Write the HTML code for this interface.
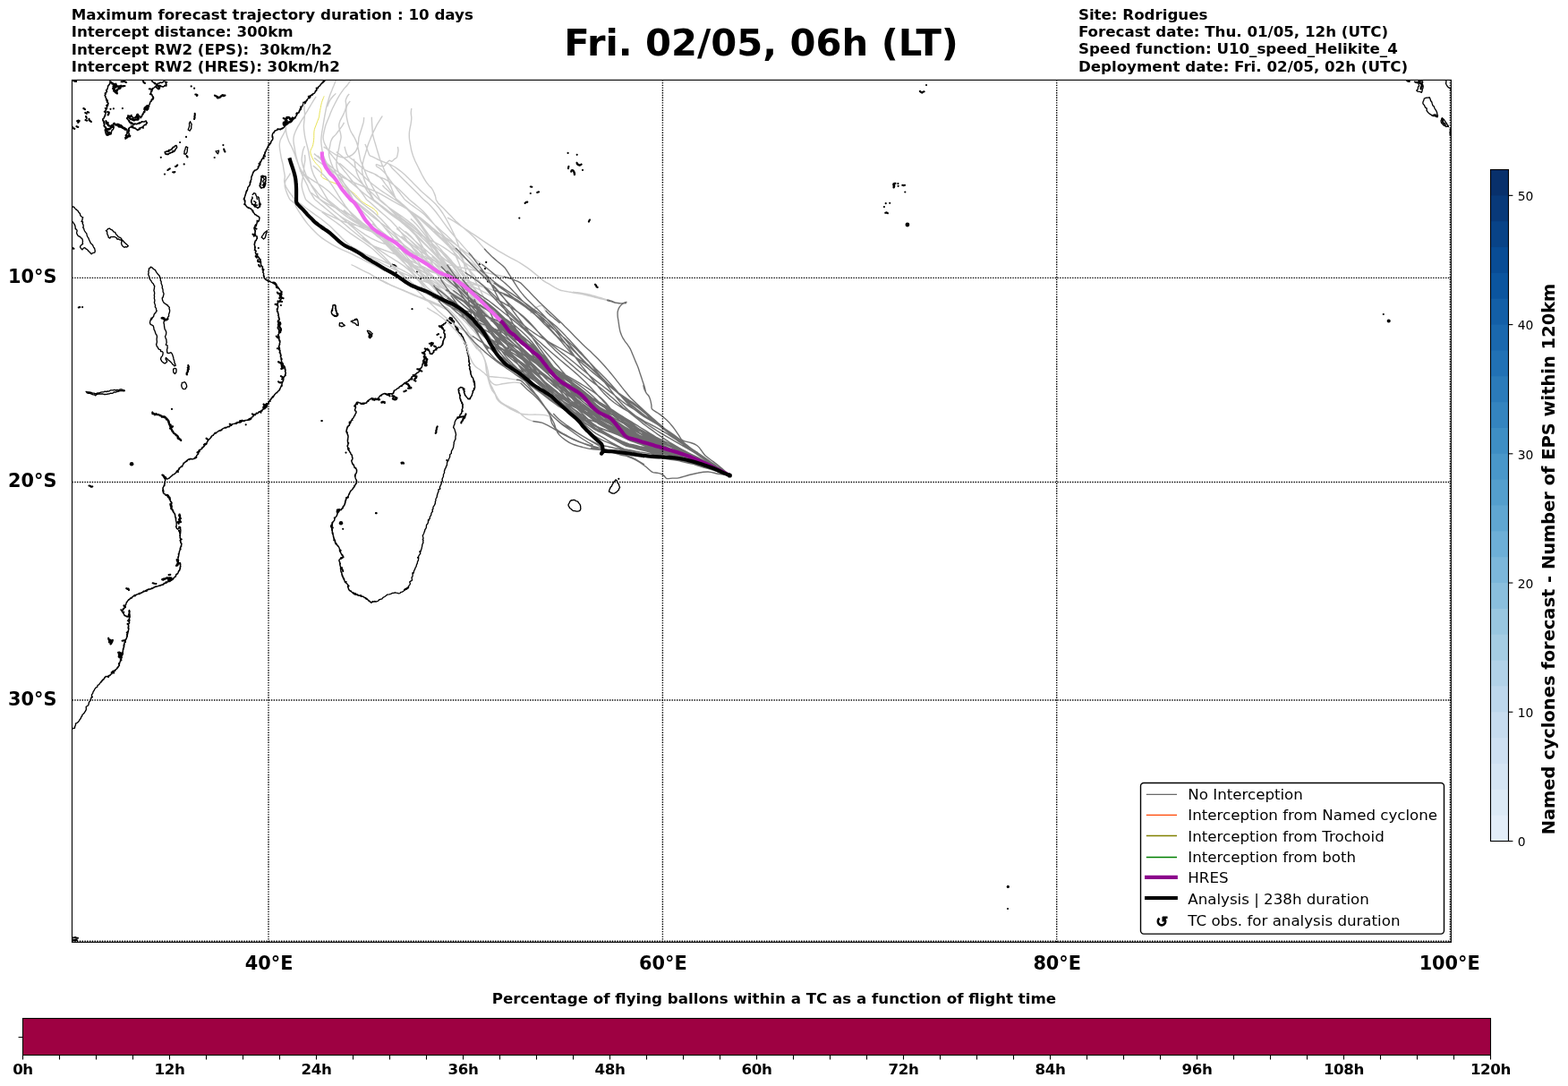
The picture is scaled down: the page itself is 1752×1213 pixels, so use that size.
<!DOCTYPE html>
<html><head><meta charset="utf-8"><title>Fri. 02/05, 06h (LT)</title>
<style>
html,body{margin:0;padding:0;background:#fff;}
body{width:1752px;height:1213px;overflow:hidden;}
svg{display:block;}
text{font-family:"DejaVu Sans","Liberation Sans",sans-serif;fill:#000;}
.b{font-weight:bold;}
.t12{font-size:16.67px;}
.coast{fill:none;stroke:#000;stroke-width:1.35;stroke-linejoin:round;stroke-linecap:round;}
.isl{fill:#000;stroke:none;}
.grid{stroke:#000;stroke-width:1.39;stroke-dasharray:1.39 1.39;fill:none;}
.lg{fill:none;stroke:#cccccc;stroke-width:1.4;stroke-linejoin:round;stroke-linecap:butt;}
.dg{fill:none;stroke:#6e6e6e;stroke-width:1.4;stroke-linejoin:round;stroke-linecap:butt;}
</style></head><body>
<svg width="1752" height="1213" viewBox="0 0 1752 1213">
<rect x="0" y="0" width="1752" height="1213" fill="#ffffff"/>
<defs><clipPath id="axclip"><rect x="80.5" y="89.4" width="1540.9" height="963.0"/></clipPath></defs>
<g clip-path="url(#axclip)">
<!-- coast.svg -->
<path class="coast" d="M363.3,89.6 362.5,90.8 361.4,91.7 360.4,92.7 359.2,93.4 358.2,94.6 357.5,96.0 355.9,96.7 355.2,98.0 354.1,99.3 353.8,101.1 352.5,102.2 351.8,103.4 350.8,104.3 349.5,104.9 348.0,106.0 346.7,107.2 345.9,108.7 344.5,109.6 343.7,110.7 343.2,112.0 342.3,113.0 341.7,114.2 340.3,114.8 338.7,115.8 338.0,118.1 336.9,119.3 336.6,121.0 336.1,122.5 334.9,123.6 334.4,125.1 333.0,126.2 332.1,127.5 331.3,128.9 330.4,130.0 329.5,131.0 328.4,131.8 327.5,132.7 326.4,133.5 325.5,134.6 324.1,135.7 322.7,136.9 322.0,138.1 320.7,138.7 319.6,139.5 318.9,141.1 317.6,142.0 316.3,143.2 314.8,144.1 313.3,143.9 311.9,144.5 310.2,143.8 309.1,145.4 307.9,145.9 306.9,146.8 305.8,147.7 305.0,148.9 304.4,150.3 304.4,151.8 304.9,153.1 304.8,154.6 304.3,156.2 303.2,157.4 302.9,158.9 302.4,160.4 300.4,160.8 299.9,162.5 299.6,164.3 298.4,165.4 297.8,167.2 297.1,168.9 296.5,170.3 296.1,171.8 294.7,173.3 294.3,175.2 293.4,177.0 292.4,178.7 291.7,180.4 290.8,182.0 290.7,184.0 289.4,185.5 288.7,187.4 287.4,188.9 286.3,189.7 285.2,190.4 283.3,191.6 282.5,193.1 282.2,194.7 281.4,196.3 281.0,198.0 280.8,199.8 280.3,201.5 280.2,203.3 279.2,204.8 279.0,206.7 277.8,208.2 276.7,209.8 276.7,211.8 275.9,213.4 275.0,215.1 274.8,216.5 274.0,217.7 273.7,219.1 273.4,220.9 272.7,222.6M363.3,89.6 362.1,90.4 360.8,91.1 360.0,92.3 359.3,93.6 358.2,94.2 357.7,95.4 356.7,96.2 355.8,97.0 355.5,98.3 353.3,98.2 353.9,100.2 353.0,101.0 352.2,102.0 351.9,103.5 350.9,104.4 349.7,105.1 349.1,106.3 347.5,106.3 346.6,107.1 346.0,108.8 344.4,109.5 343.7,110.7 342.7,111.7 342.1,112.9 340.7,113.4 340.5,115.0 338.9,116.1 338.4,116.9 337.9,118.0 337.6,119.0 335.6,119.2 336.3,120.9 335.1,121.5 335.1,122.8 334.3,123.7 334.0,124.9 333.8,126.2 331.4,126.0 330.9,127.1 331.6,129.1 330.5,130.0 330.3,131.8 328.4,131.7 327.1,132.3 326.0,133.2 325.5,134.6 324.5,135.2 323.5,136.0 322.9,137.1 321.6,137.7 321.0,139.0 319.8,139.7 318.3,140.5 317.5,142.0 316.6,142.6 315.3,142.8 314.6,143.8 313.5,144.8 311.9,144.4 310.4,144.7 309.1,145.6 307.7,145.6 306.7,146.6 306.3,148.1 304.9,148.8 304.3,150.3 304.1,151.8 304.2,153.3 305.0,154.6 304.5,156.3 303.3,157.5 302.4,158.8 302.0,160.3 301.4,161.8 300.1,162.8 299.1,164.0 298.6,165.6 298.4,166.8 297.1,167.6 297.2,168.9 295.9,170.1 295.8,171.7 295.7,173.1 296.3,174.8 294.1,175.1 295.0,177.1 292.8,177.4 292.1,178.5 292.0,179.8 290.6,180.6 290.5,181.9 289.1,182.7 289.5,184.2 289.1,185.4 288.2,186.3 288.5,188.0 287.5,188.9 286.4,189.9 284.9,190.0 284.0,190.8 283.5,191.9 282.9,193.2 282.0,194.6 282.1,195.8 281.1,196.8 280.8,197.9 280.8,199.2 280.9,200.4 280.2,201.4 279.8,202.5 279.1,203.6 279.6,204.9 279.4,206.2 278.8,207.3 278.0,208.3 276.9,209.2 276.8,210.5 276.6,211.7 275.6,212.7 275.1,213.8 274.9,215.0 274.4,216.4 274.3,217.9 273.7,219.2 273.2,220.2 272.8,221.4 272.2,222.5M293.1,196.3 294.7,197.1 296.5,197.4 297.0,198.7 296.7,200.1 297.2,201.4 296.3,202.9 295.9,204.4 296.4,206.0 296.0,207.9 294.9,209.5 293.4,209.7 292.0,210.2 291.0,209.2 290.3,208.2 290.9,206.8 290.3,205.1 291.3,203.7 292.0,202.5 291.4,201.0 291.8,199.7 292.1,197.9 293.2,196.3M293.1,196.3 294.3,196.5 295.4,196.8 296.7,196.8 297.3,198.7 296.9,200.1 297.0,201.4 296.9,202.6 296.5,203.7 296.9,204.9 296.6,206.0 295.0,206.7 294.6,207.9 294.6,209.3 293.3,209.3 292.0,210.1 291.3,208.9 290.4,208.1 289.9,207.0 291.4,206.2 291.4,204.9 291.7,203.8 291.3,202.3 292.2,201.1 291.7,199.7 292.5,198.6 291.6,197.1 292.9,196.2M293.7,198.0 294.6,199.1 295.4,200.3 294.5,201.4 293.7,202.6 294.3,204.0 295.6,204.9 294.3,205.9 293.1,207.1M282.2,217.4 283.1,216.6 283.8,215.5 285.6,216.4 286.0,218.1 286.9,219.7 287.0,221.1 287.4,222.5M122.9,90.1 122.9,91.9 122.7,93.6 121.5,94.8 120.9,96.1 120.5,97.5 119.9,99.0 119.4,100.6 118.9,102.1 118.4,103.6 118.1,105.3 117.1,106.6 117.8,108.2 118.4,109.7 119.0,111.2 119.7,113.0 120.5,114.7 120.5,116.2 120.7,117.8 119.6,119.2 119.5,121.1 118.5,122.7 118.0,124.2 118.2,125.7 117.9,127.2 117.6,129.1 116.8,130.7 115.6,132.3 114.8,134.0 115.9,135.1 116.7,136.3 117.0,138.0 116.1,139.4 116.1,140.9 117.1,142.2 118.4,143.2 118.2,144.6 118.5,146.0 117.7,147.2 118.4,148.5 119.5,149.6 119.6,151.2 120.8,150.2 121.8,149.0 122.8,149.7 124.1,149.9 124.4,148.5 124.6,147.0 125.1,145.5 126.5,144.6 127.0,143.2 127.1,141.4 126.4,139.8 127.4,138.8 128.0,137.4 129.3,138.9 131.1,139.6 131.9,141.1 133.2,142.1 134.7,141.2 135.6,139.9 136.8,141.3 137.2,143.2 139.6,143.1 140.9,143.6 141.9,144.9 142.0,146.3 142.3,147.6 142.3,148.9 141.2,150.5 140.6,152.3 140.6,153.8 140.0,155.2 141.4,154.2 142.8,153.3 144.1,152.3 145.8,151.9 144.6,150.6 144.2,148.9 143.4,147.7 143.8,146.2 143.4,145.0 143.6,143.6 144.8,142.7 146.6,142.2 148.0,140.8 149.0,141.9 149.3,143.1 151.0,143.6 152.6,144.5 154.9,145.1 155.4,143.2 157.2,142.7 158.8,142.1 160.0,140.9 161.2,139.7 163.0,139.3 163.6,138.2 164.5,137.4 163.9,136.2 162.9,135.2 161.6,136.0 160.0,135.8 158.5,136.1 157.2,137.1 156.0,138.0 154.3,137.9 152.7,138.8 150.9,138.4 149.8,139.3 148.6,139.8 147.9,137.6 146.5,136.5 144.6,136.4 143.8,135.2 143.2,133.9 142.4,132.4 142.5,130.6 143.3,129.7 144.6,129.5 145.9,129.3 146.9,128.4 147.0,129.7 148.0,130.7 149.0,131.6 150.3,131.8 151.3,130.5 152.5,129.4 152.7,128.1 153.8,127.2 154.8,128.5 155.1,130.0 156.8,130.0 157.2,131.8 158.1,130.4 158.8,128.9 159.2,127.4 160.2,126.1 160.6,124.7 162.1,124.1 161.8,122.3 161.0,121.0 162.4,120.2 163.4,119.2 164.7,118.0 166.4,117.7 167.1,116.2 167.5,114.7 168.5,113.3 169.2,111.9 170.1,110.2 171.5,109.0 170.3,107.7 170.1,105.9 168.9,104.8 168.6,103.3 169.8,102.0 170.2,100.4 170.9,99.1 172.0,98.1 173.1,96.9 174.3,95.8 175.1,97.3 176.0,98.7 178.4,99.1 177.9,97.6 176.6,96.4 175.6,95.5 175.3,94.2 176.4,93.1 177.8,93.1 179.0,92.2 180.5,92.5 181.8,92.0 183.0,90.6 184.6,91.1 185.3,93.0 186.1,94.8 184.8,95.4 183.5,96.4 181.7,96.6 180.0,96.4 178.8,95.3 177.2,95.5 175.7,94.7 174.2,93.7 173.1,92.3 171.4,92.0 170.2,91.4 169.7,90.2M122.9,90.1 123.3,91.4 123.4,92.6 122.7,93.6 122.0,95.0 120.5,95.9 120.4,97.4 120.2,98.7 119.9,99.9 118.5,100.6 119.6,102.4 118.6,103.3 117.2,104.1 117.6,105.5 117.0,106.6 118.1,107.7 117.9,109.1 119.0,110.0 118.7,111.3 120.3,112.0 119.2,114.0 120.8,114.6 121.2,115.9 119.7,116.9 118.7,117.9 119.4,119.2 119.7,120.5 117.4,120.7 118.6,122.8 117.5,123.7 116.4,124.7 118.3,126.1 117.8,127.2 117.2,128.3 117.2,129.6 116.3,130.5 116.4,132.0 114.9,132.7 114.7,134.0 115.3,135.6 116.5,136.5 115.7,137.4 116.9,138.7 116.8,139.9 116.1,140.9 117.8,141.5 118.8,142.8 117.4,144.4 117.2,145.8 118.0,147.2 117.9,148.7 118.8,150.0 119.4,151.2 120.5,149.9 121.6,148.7 122.7,150.0 124.2,149.8 123.6,148.7 124.3,147.7 124.8,146.6 125.0,145.4 126.4,144.6 126.8,143.1 127.0,142.0 127.0,140.9 126.8,139.7 126.5,138.1 127.8,137.3 128.5,139.0 129.2,140.0 130.7,140.1 132.7,140.3 133.3,142.0 134.4,141.0 135.4,139.7 135.7,141.1 135.7,142.5 137.5,143.1 138.3,142.7 139.5,142.5 139.4,145.0 141.7,145.0 142.3,146.2 141.7,147.7 142.2,149.0 141.3,149.8 141.4,151.3 141.5,152.8 139.7,153.6 140.2,155.2 141.0,154.6 141.7,153.6 142.9,153.5 143.4,152.2 145.1,152.9 145.7,151.6 144.8,151.1 143.8,150.4 144.1,148.9 143.3,147.7 144.7,146.1 143.5,144.9 144.5,144.0 144.4,142.5 145.9,142.3 146.5,140.7 148.2,141.3 147.7,142.6 149.5,143.1 150.6,142.8 151.7,143.4 152.6,144.6 153.5,145.6 155.0,144.8 156.5,144.3 157.0,142.4 158.3,142.3 160.1,143.2 160.1,141.0 160.9,140.2 161.7,139.3 163.1,139.6 163.3,137.9 164.4,137.3 163.6,136.5 163.2,135.0 161.5,135.6 160.1,136.0 158.3,135.6 157.2,136.9 155.5,136.8 154.3,137.9 153.1,138.0 152.1,138.8 150.8,137.9 149.3,138.4 148.5,139.6 148.2,138.7 148.3,137.4 146.4,138.6 145.8,136.7 144.5,136.7 144.7,134.6 143.1,133.9 142.3,133.0 141.5,132.0 142.8,130.6 142.9,128.8 144.7,129.7 146.0,129.3 147.0,128.5 145.6,130.5 148.3,130.5 148.7,132.2 150.5,131.4 152.1,131.3 152.7,129.6 153.9,128.7 153.9,127.3 154.9,128.4 154.7,130.2 156.7,130.1 157.1,131.9 157.7,130.8 158.7,130.1 158.6,128.8 160.1,127.8 160.0,126.1 161.7,125.5 161.7,123.7 160.9,122.5 161.1,121.0 162.5,120.3 163.3,119.0 163.9,117.9 165.1,117.6 166.3,117.5 167.4,116.3 167.7,114.8 167.9,113.6 169.3,113.2 169.0,111.7 170.7,111.5 171.3,110.4 171.7,109.2 171.2,107.9 170.1,107.2 169.9,106.1 167.5,105.4 168.8,103.2 168.6,102.0 169.4,101.2 170.3,100.4 170.4,98.7 171.9,98.1 173.3,97.1 174.4,95.9 174.2,97.2 174.9,98.1 175.9,98.8 176.9,99.9 178.4,98.9 178.6,97.8 177.0,97.5 177.2,96.0 175.6,95.5 174.9,94.4 176.4,93.2 177.7,92.9 178.9,92.0 180.4,92.4 181.8,92.1 183.0,90.7 184.6,91.2 186.7,91.7 185.2,93.8 186.0,94.8 185.8,96.1 184.1,95.3 183.3,96.2 182.3,97.2 181.2,96.8 180.0,96.2 178.4,97.2 177.2,95.7 175.9,95.5 174.9,94.7 174.2,93.7 172.9,93.8 172.1,92.9 171.4,91.9 170.4,91.2 169.8,90.1M212.6,135.8 213.2,137.4 214.2,138.7 213.9,140.2 213.7,141.7 213.8,143.2 213.0,144.7 212.1,146.1 210.2,145.0 210.7,143.6 211.2,142.3 211.6,141.0 211.6,139.2 211.5,137.5 212.6,135.8M184.0,170.0 185.2,169.2 186.5,168.8 187.9,168.5 188.7,167.5 190.3,167.5 191.6,166.8 192.4,165.4 193.6,164.6 195.0,163.9 195.8,162.7 197.1,162.5 197.6,164.9 196.7,165.9 196.0,167.1 195.5,168.4 194.2,169.5 192.5,169.9 190.8,170.5 189.1,171.1 187.9,172.0 186.6,172.5 185.2,172.4 184.7,171.1 184.1,170.0M184.0,170.0 185.3,169.5 186.7,169.4 188.1,169.3 189.5,168.7 190.1,167.2 191.7,167.0 192.7,165.8 193.3,164.2 195.1,164.1 195.7,162.6 197.2,162.8 197.6,163.7 197.7,164.9 196.8,166.0 195.7,166.9 195.3,168.2 194.3,168.6 193.0,168.5 192.7,170.3 191.4,170.4 190.4,171.2 189.2,171.4 188.1,172.6 186.4,171.8 185.2,172.4 184.4,171.3 184.4,169.9M208.0,163.8 209.8,164.8 209.3,166.4 209.3,168.0 209.1,169.5 208.5,171.0 207.3,172.3 205.7,171.8 206.1,170.5 206.0,169.1 206.4,167.8 207.1,166.5 207.2,165.0 208.0,163.8M241.1,168.9 242.8,168.7 244.5,168.1 244.2,170.0 243.5,171.8 242.1,170.5 241.1,168.9M80.5,231.2 81.8,230.8 83.0,231.6 83.7,232.6 84.6,233.6 85.7,234.4 87.1,235.6 88.0,237.2 89.4,238.6 89.8,240.6 91.0,242.0 92.7,242.9 92.0,244.2 92.1,245.7 91.0,247.4 92.6,248.0 92.2,249.6 93.1,251.3 93.2,253.1 92.7,254.2 93.7,255.2 93.9,256.5 94.6,258.0 95.5,259.4 96.8,260.9 97.2,262.9 97.9,264.6 99.0,266.2 99.6,268.0 100.5,269.8 101.1,271.3 102.3,272.6 103.6,273.7 104.2,275.3 104.8,276.5 105.7,277.5 106.0,279.1 106.3,280.5 105.7,282.2 103.5,282.6 102.2,283.7 100.6,282.3 100.0,281.2 98.8,280.7 98.3,279.5 97.3,278.7 95.9,277.9 94.8,276.7 93.3,277.1 92.0,278.9 90.3,277.2 89.5,276.0 90.0,274.6 90.9,273.6 92.6,272.4 92.2,271.1 92.5,269.6 92.1,267.4 91.6,266.2 90.3,265.8 89.6,264.4 88.1,264.0 87.1,263.3 86.5,262.1 85.9,261.1 85.6,259.9 86.2,257.7 85.5,256.4 84.3,255.6 84.1,253.1 83.7,251.6 83.0,250.3 81.8,248.6 80.5,247.3M118.4,257.7 119.5,257.1 120.2,256.1 121.2,255.3 122.4,255.1 123.4,256.1 124.8,256.6 126.0,257.5 126.8,258.9 128.6,259.3 129.2,260.9 130.1,262.2 131.4,263.3 132.2,264.6 133.8,265.1 135.5,266.2 136.2,267.9 137.9,269.2 138.7,270.6 140.0,271.5 141.0,272.6 142.2,273.6 143.3,274.8 141.7,276.1 140.3,275.7 138.9,276.3 137.3,275.2 136.1,273.6 135.5,271.4 136.2,269.6 134.9,267.9 133.6,267.8 132.6,266.9 131.0,267.3 130.3,265.9 129.0,265.0 127.6,264.4 125.2,264.6 123.6,264.7 122.8,266.1 121.2,265.2 121.0,263.9 120.6,262.8 119.9,261.7 119.7,260.4 119.7,258.8 118.5,257.6M186.3,357.6 187.4,355.8 187.6,354.2 188.7,353.0 188.5,351.2 189.2,349.6 189.6,347.9 189.6,346.1 189.0,344.8 189.4,343.2 188.0,342.3 187.5,340.9 186.1,340.5 185.2,339.3 183.8,338.8 182.8,337.7 182.1,336.5 181.6,335.4 181.2,333.0 182.2,331.8 182.5,330.2 183.0,328.8 182.9,327.3 182.1,326.0 182.1,324.5 181.9,322.9 181.2,321.6 181.4,319.8 180.8,318.1 180.1,316.5 180.2,314.7 179.3,313.1 179.4,311.3 178.9,309.9 178.3,308.5 177.4,307.2 176.2,306.1 175.2,304.7 174.2,303.2 173.5,301.6 172.0,300.8 170.8,299.9 169.8,298.7 168.1,298.1 167.8,299.6 166.3,299.9 166.4,301.7 165.8,303.3 166.2,304.8 165.6,306.2 166.2,307.7 166.7,309.1 167.2,311.3 167.8,312.5 168.8,313.5 169.4,314.8 170.2,316.0 171.2,316.8 171.7,317.9 172.8,319.8 172.5,320.8 172.4,322.2 171.9,324.5 172.5,326.1 172.7,327.9 172.3,329.6 172.6,331.3 172.3,333.1 172.8,334.7 172.9,336.2 172.4,337.6 172.9,339.3 173.6,341.0 173.3,342.9 174.5,344.4 174.6,345.9 175.2,347.3 174.3,348.3 173.8,349.6 172.5,350.4 172.0,351.8 171.6,353.5 170.4,354.8 169.7,356.3 168.6,357.5M169.2,355.0 168.5,356.7 167.8,358.5 167.5,360.7 168.0,362.1 169.3,362.9 170.4,363.3 171.4,364.3 171.9,366.5 172.0,367.9 172.8,369.2 173.3,370.6 173.7,372.1 174.2,373.3 175.1,374.3 175.5,376.1 175.2,377.9 175.1,379.5 175.4,381.3 175.2,383.0 174.6,384.7 175.0,385.8 175.3,387.0 176.4,388.1 176.9,389.5 178.1,390.4 179.6,390.8 179.6,392.6 181.3,392.6 182.1,393.6 182.1,395.0 181.6,397.2 180.9,398.1 180.1,399.0 179.5,401.2 180.2,402.3 180.6,403.5 181.6,404.2 182.4,405.1 184.2,406.0 185.4,405.1 186.7,403.9 185.9,402.4 185.1,401.0 185.4,399.5 186.8,400.7 188.2,402.3 189.8,403.4 190.7,404.2 191.5,405.1 192.3,406.1 193.0,407.1 194.2,407.6 194.6,408.9 196.2,408.4 195.7,406.4 194.9,405.1 194.9,403.5 194.3,402.1 193.9,400.7 193.7,399.2 193.2,397.8 192.7,396.3 192.1,394.9 191.0,393.7 188.6,394.6 186.8,394.0 186.6,391.5 186.6,390.1 187.2,388.7 187.0,387.2 187.1,385.8 185.3,385.1 186.0,383.5 186.2,382.1 185.9,380.7 185.9,379.2 185.1,377.9 184.5,375.6 185.2,374.5 185.6,373.3 185.8,371.0 185.3,369.9 184.9,368.6 184.1,367.7 183.9,366.4 183.6,365.0 183.5,363.6 183.4,362.1 182.9,360.7 183.3,359.3 183.5,357.9 183.2,356.3 183.8,355.0M193.7,412.1 195.4,411.4 196.8,411.9 197.1,413.2 197.0,414.6 196.8,416.1 195.4,417.5 193.9,416.1 193.7,414.8 193.6,413.4 193.7,412.1M203.4,427.5 204.9,427.2 206.3,426.7 207.3,427.5 207.9,428.7 208.5,430.3 208.7,432.0 207.8,433.1 207.4,434.3 205.1,434.6 203.9,433.8 203.2,432.5 202.7,430.3 203.1,428.9 203.4,427.5M96.1,437.4 97.8,437.9 99.5,438.0 100.9,438.2 102.2,438.5 103.5,439.2 105.1,439.1 106.5,439.8 107.8,439.5 109.3,438.9 111.0,438.9 112.7,438.2 114.2,437.9 115.8,437.9 117.2,437.2 118.8,437.5 120.3,437.0 121.9,437.1 123.3,435.9 124.8,435.8 126.3,435.9 127.8,435.4 129.5,436.0 130.9,435.5 132.7,435.8 134.3,434.9 135.9,434.9 137.4,435.9 138.9,435.7 139.3,436.7 138.1,436.9 136.6,436.6 134.8,436.4 133.2,436.9 131.9,437.3 130.5,437.5 129.2,438.2 127.6,437.8 126.5,438.8 125.2,439.4 123.6,439.2 122.2,439.8 120.7,440.0 119.2,440.4 117.6,440.5 116.1,440.5 114.6,439.8 113.1,440.0 111.5,440.2 109.8,440.1 108.1,440.6 106.5,441.9 105.5,440.7 104.0,440.8 102.3,440.2 100.7,439.3 98.9,439.4 97.3,438.8 96.2,437.4M272.5,222.6 273.1,223.0 273.2,224.4 273.8,225.8 273.7,227.5 274.4,229.2 275.3,230.3 276.3,231.3 277.5,232.5 279.1,232.6 280.3,233.3 281.3,234.4 282.0,235.8 282.9,237.2 284.1,238.2 284.6,239.5 286.0,240.0 287.1,240.8 288.1,241.6 289.2,242.1 289.9,243.3 289.8,244.6 289.2,246.8 288.2,247.7 287.1,248.6 286.9,249.9 285.9,250.8 284.9,252.0 284.8,253.7 285.6,255.2 284.3,256.5 285.0,257.9 284.9,259.4 284.8,260.6 284.1,261.6 285.3,262.3 285.9,263.4 287.2,265.0 286.7,267.4 285.4,269.1 284.6,270.4 284.8,272.0 284.3,273.4 284.9,274.8 284.5,276.2 284.8,277.6 285.1,279.2 286.1,280.4 285.4,281.9 285.8,283.4 286.4,284.7 287.7,285.6 288.5,286.8 289.5,287.8 289.8,289.6 291.0,290.8 291.6,292.4 291.5,294.2 291.7,295.7 292.4,297.0 293.3,298.3 293.2,300.0 293.2,301.4 294.1,302.7 294.0,304.3 294.7,305.7 294.5,307.1 295.2,308.5 295.4,310.8 296.8,312.3 298.4,313.2 299.8,313.8 301.4,314.0 302.6,315.1 304.2,315.4 305.5,316.1 307.0,316.1 308.3,316.7 308.8,318.1 309.4,319.3 310.0,320.4 311.1,321.3 311.8,322.6 312.7,323.7 313.7,324.7 314.1,326.3 314.2,327.9 314.1,329.3 314.1,330.8 314.0,332.2 314.3,333.6 313.9,334.7 312.8,335.3 312.1,336.9 310.4,337.5 310.6,339.1 309.9,340.4 310.6,341.8 310.6,343.3 310.3,345.0 309.7,346.7 310.5,348.4 310.6,350.1 311.3,351.8 311.5,353.6 311.9,354.9 312.3,356.2 311.5,357.6M272.5,222.6 273.2,222.7 274.0,224.2 273.8,225.7 273.4,227.0 272.8,228.3 274.8,229.1 275.2,230.4 276.3,231.4 277.8,231.6 279.0,232.7 280.5,233.0 281.3,234.3 282.4,234.9 282.9,235.9 283.1,237.1 284.0,238.2 284.8,239.4 286.1,239.8 286.9,241.0 288.2,241.4 289.3,242.0 290.1,243.2 289.8,244.6 289.6,245.7 289.3,246.8 287.2,246.3 287.2,248.8 287.0,249.9 286.6,251.1 286.2,252.6 284.3,253.5 283.8,255.0 284.6,256.5 285.5,257.8 285.2,259.4 285.1,260.7 284.2,261.7 285.6,262.0 285.7,263.6 287.2,263.8 287.3,264.9 287.5,266.4 286.6,267.4 286.4,268.6 285.2,269.0 285.1,270.6 284.3,271.9 284.1,273.5 284.9,274.8 285.3,276.3 285.0,277.7 284.3,279.5 286.3,280.4 285.2,281.9 286.1,283.4 287.9,283.5 287.2,286.0 288.1,287.1 289.2,288.1 289.9,288.9 291.1,289.5 291.0,290.8 290.4,292.1 290.9,293.1 291.5,294.2 291.5,295.7 292.1,297.1 293.6,298.1 293.3,299.9 294.9,301.1 293.9,302.8 293.7,304.4 294.8,305.6 294.3,307.1 294.7,308.5 295.1,309.7 295.6,310.8 296.6,311.5 297.5,312.3 298.7,312.8 299.6,314.4 301.3,314.2 302.6,315.1 304.1,315.6 305.7,315.3 307.1,315.7 307.7,317.2 308.8,318.1 308.7,319.6 310.0,320.4 310.7,321.6 312.1,322.4 312.5,323.9 313.6,324.8 315.2,326.0 314.1,327.9 314.8,329.4 314.2,330.8 315.0,332.0 314.3,333.6 313.4,334.2 312.8,335.3 311.8,336.6 310.6,337.7 310.0,339.0 309.6,340.4 310.8,341.7 310.6,343.3 309.8,344.4 309.3,345.4 309.8,346.7 309.4,348.0 310.9,348.9 310.4,350.1 311.4,351.1 310.6,352.6 311.6,353.6 311.1,354.9 312.0,356.2 312.2,357.5M281.9,220.0 281.8,221.9 280.9,223.4 280.6,225.2 281.3,226.9 282.4,228.3 283.8,229.6 284.8,231.0 286.6,231.2 287.8,232.6 289.4,231.6 290.1,229.5 289.5,228.0 290.2,226.3 289.5,224.6 289.4,222.9 289.2,221.3 288.4,219.9M281.9,220.0 282.2,221.4 281.6,222.4 280.9,223.5 281.2,224.5 280.7,225.8 281.2,226.9 281.6,228.3 283.4,228.3 283.7,229.7 285.5,228.8 285.8,230.5 286.5,231.4 287.9,231.8 289.4,231.5 290.6,231.0 290.5,229.7 291.3,228.5 291.0,227.4 290.1,226.3 289.7,225.2 289.7,224.0 289.2,222.9 289.4,221.2 288.5,219.9M283.7,224.6 284.9,225.3 286.0,226.3 285.3,227.4 284.7,228.5 286.2,228.8 287.6,229.2M292.2,265.1 293.0,263.6 294.0,262.3 294.9,260.7 296.2,259.4 297.4,258.7 298.3,257.7 298.0,260.0 297.3,261.3 297.1,262.8 296.6,264.3 296.1,265.7 294.5,267.0 293.4,266.0 292.3,265.0M372.1,341.0 374.0,340.3 374.4,341.6 374.8,342.8 375.3,344.1 375.4,345.6 376.0,347.2 376.0,349.0 376.2,350.9 377.5,352.4 375.5,353.6 374.3,352.6 372.8,352.0 371.6,351.4 370.6,350.2 370.3,347.9 370.7,346.3 371.7,345.0 371.8,342.7 371.9,341.0M372.1,341.0 373.1,340.8 374.1,340.7 375.1,341.3 375.2,342.6 374.4,344.2 375.2,345.6 375.0,346.8 375.7,347.9 376.2,349.0 377.1,349.9 377.9,350.9 377.0,352.5 376.0,352.4 375.4,353.4 374.0,353.4 372.7,352.5 371.4,351.5 370.8,350.0 370.2,349.0 370.6,347.8 371.7,346.7 371.2,344.9 371.9,343.9 371.9,342.7 372.0,341.0M312.0,357.5 311.1,358.5 311.1,360.1 311.3,361.8 311.4,363.7 310.4,365.3 310.7,367.1 311.6,368.7 311.9,370.4 312.1,372.1 311.2,373.7 311.1,375.6 311.7,377.2 311.7,379.0 312.0,380.7 313.0,382.3 312.1,384.0 312.3,385.8 311.4,387.5 311.5,389.2 312.0,391.0 313.0,392.6 313.0,394.4 313.4,396.1 313.5,397.8 314.0,399.5 315.1,401.1 314.3,402.9 315.0,404.3 315.1,405.8 316.0,407.4 317.3,408.7 318.3,409.9 318.6,411.4 319.0,413.2 318.5,415.0 319.4,416.3 319.1,417.8 318.3,419.1 317.8,420.6 316.9,421.9 316.8,423.5 316.5,425.1 315.7,426.4 315.0,427.7 315.1,429.2 314.4,430.6 313.8,432.0 313.2,433.5 312.3,434.8 311.7,436.3 310.5,437.2 309.4,438.4 308.1,439.3 306.9,440.6 305.9,442.0 304.4,443.0 303.7,444.7 303.0,445.9 301.8,446.8 300.8,448.2 300.2,449.8 298.9,450.9 298.6,452.6 297.3,453.8 296.8,455.5 295.9,456.7 294.4,457.0 293.1,458.1 291.6,458.8 290.3,459.8 288.8,460.7 287.6,461.9 285.9,462.2 284.4,462.9 283.1,464.1 282.5,465.5 281.0,466.2 280.7,467.7 279.8,468.6 278.3,469.1 276.8,469.3 275.3,469.3 273.9,469.5 272.2,470.1 270.5,470.4 269.1,470.6 267.8,470.9 266.5,471.6 265.3,472.6 263.7,472.2 262.5,473.1 261.0,473.4 259.7,473.8 258.5,474.8 257.2,475.3 256.1,476.5 254.5,476.5 253.3,477.4 251.7,477.3 250.5,478.2 249.0,478.7 247.7,479.6 246.8,481.0 245.0,480.9 243.7,481.7 242.5,482.7 241.6,483.9 240.2,484.2 239.1,485.1 238.0,486.0 236.8,486.8 236.2,488.1 235.2,489.2 234.1,490.2 233.3,491.3 232.1,492.3M312.0,357.5 310.5,357.9 310.3,359.6 311.3,360.7 311.3,361.8 311.3,363.1 311.9,364.4 310.3,365.2 310.2,366.6 311.6,367.4 311.7,368.7 313.0,369.6 311.3,371.1 312.0,372.2 311.2,373.1 310.4,374.1 311.0,375.5 311.2,376.7 312.2,377.7 311.5,379.0 312.6,379.9 313.0,381.0 312.7,382.4 312.6,383.6 312.7,384.7 311.9,385.8 311.3,386.9 312.5,388.2 311.5,389.2 311.6,390.5 313.1,391.3 312.5,392.7 312.2,393.9 313.6,394.9 313.7,396.0 314.2,397.1 313.3,398.4 314.2,399.5 313.9,400.7 314.2,401.8 314.4,402.9 314.9,404.3 314.9,405.8 316.3,406.3 315.6,408.5 317.6,408.5 317.8,410.1 318.3,411.6 318.2,412.7 319.2,413.7 318.6,414.9 319.4,416.3 318.7,417.8 319.2,419.5 317.6,420.5 316.6,421.8 316.9,423.6 316.6,425.1 315.9,426.5 315.3,427.8 314.9,429.2 315.2,430.9 313.9,432.1 313.2,433.5 312.7,435.1 311.8,436.3 310.4,437.1 309.7,438.7 308.0,439.3 307.5,440.3 306.7,441.1 306.1,442.2 305.5,443.2 304.8,444.1 303.5,444.5 302.6,445.7 301.9,446.9 302.1,448.3 300.1,448.4 300.4,449.9 300.4,451.2 298.9,451.6 298.7,452.7 298.1,453.7 298.1,454.9 296.6,455.3 294.9,455.3 294.4,457.0 293.2,457.2 293.0,459.0 291.8,459.2 291.7,461.1 289.5,459.6 288.8,460.5 288.2,461.7 286.5,461.1 286.0,462.3 285.4,463.6 284.2,463.7 283.1,464.1 282.7,465.7 281.0,466.1 280.6,467.6 279.7,468.6 278.2,468.7 276.8,469.0 275.4,469.3 273.9,469.7 272.9,470.5 271.6,469.8 270.5,470.4 269.4,471.5 268.1,472.1 266.6,471.8 265.0,471.5 264.2,473.4 262.5,473.1 261.0,473.3 259.6,473.7 258.4,474.6 257.3,475.6 256.2,476.9 254.6,476.6 253.4,477.6 252.0,478.0 250.4,478.0 249.4,478.7 248.4,479.1 247.8,480.5 246.4,480.3 245.4,480.9 244.6,481.7 243.3,481.9 242.6,482.9 241.1,483.2 239.8,483.7 239.1,485.0 238.2,486.3 236.8,486.8 235.8,487.9 235.1,489.1 234.3,490.3 233.2,491.2 232.3,492.6M379.5,360.7 381.0,360.8 382.4,360.5 383.0,361.8 384.2,362.6 385.3,363.5 383.5,364.2 381.8,364.8 380.6,364.2 379.3,364.0 379.2,362.3 379.6,360.7M392.1,359.0 393.7,358.2 395.6,358.0 397.2,357.0 399.0,356.7 399.8,358.3 400.1,360.1 400.4,361.8 400.3,363.6 398.4,363.0 397.4,361.7 396.1,360.7 394.6,360.5 393.5,359.4 392.1,359.0M410.4,369.3 412.1,369.7 413.8,370.3 414.8,371.7 416.1,372.6 415.5,374.1 415.6,375.6 414.4,376.5 413.7,377.8 412.1,376.7 412.2,375.2 412.7,373.8 412.1,372.7 411.5,371.6 410.8,370.5 410.4,369.3M429.8,439.5 428.3,440.1 426.9,440.5 425.3,441.5 424.0,442.8 423.2,443.9 423.1,445.3 421.8,445.9 420.7,446.5 419.5,445.7 418.3,445.3 416.9,445.0 415.5,444.6 414.4,445.5 413.3,446.4 411.5,447.1 410.2,448.4 409.2,449.9 407.4,450.2 406.0,450.2 404.6,450.5 402.9,450.3 401.3,449.9 399.8,449.6 398.4,449.9 397.8,450.9 397.4,452.1 397.2,453.5 397.6,454.9 397.2,456.1 396.5,457.1 396.5,458.7 397.8,459.4 397.8,460.9 397.2,462.3 396.5,463.8 395.4,465.1 395.0,466.8 393.6,467.9 392.9,469.4 392.0,470.8 391.6,472.5 390.5,473.8 389.9,475.4 388.3,476.4 387.7,477.9 387.4,479.5 386.8,481.8 387.3,483.2 388.1,484.6 388.5,486.0 389.0,487.4 388.8,488.9 388.8,490.3 388.5,492.6M429.8,439.5 428.3,439.9 426.9,440.7 426.4,441.9 425.0,442.2 424.0,442.8 423.3,443.9 422.9,445.2 421.6,445.5 420.7,446.5 419.8,445.1 418.3,445.3 416.8,445.7 415.5,444.6 414.2,445.3 413.1,446.2 412.1,446.8 411.7,448.3 410.2,448.4 409.9,449.9 408.8,450.4 407.7,450.6 406.2,451.3 404.7,451.1 403.3,451.3 402.4,450.0 401.2,449.9 399.9,449.2 398.4,449.4 399.5,451.7 397.0,451.9 395.7,453.7 397.6,454.9 397.0,456.0 396.8,457.2 396.5,458.7 398.0,459.4 398.0,461.0 397.1,462.3 396.6,463.2 396.6,464.5 395.4,465.1 395.2,466.3 394.6,467.2 393.5,467.8 393.9,469.4 392.3,469.7 392.3,471.0 390.3,471.1 390.3,472.4 390.5,473.8 390.6,475.1 389.5,475.7 388.8,476.6 388.0,478.0 387.6,479.6 387.4,480.7 386.9,481.8 388.1,482.8 388.1,484.5 388.8,485.9 389.1,487.4 389.0,488.9 388.5,490.3 388.4,491.4 388.3,492.5M232.3,492.5 231.2,494.0 230.7,495.7 229.8,496.6 228.6,497.3 227.9,498.5 226.9,499.8 225.6,500.8 224.4,501.9 223.4,502.7 223.0,504.2 221.8,505.0 221.4,506.8 220.3,508.3 219.3,509.6 219.4,511.1 218.2,511.6 217.0,512.1 215.5,512.8 213.7,512.5 211.9,512.5 210.2,513.2 209.1,514.9 207.5,515.8 206.3,516.4 205.6,517.7 204.6,518.6 204.0,520.0 202.6,520.8 201.6,521.9 200.7,523.1 199.5,524.0 198.9,525.4 197.4,526.2 196.8,527.9 195.5,528.9 194.3,529.8 193.0,530.5 191.8,531.5 190.5,532.7 189.1,533.9 187.8,534.8 186.3,535.1 184.5,534.0 183.4,533.1 182.8,531.7 181.3,530.6 182.2,531.6 182.8,532.9 183.5,534.0 184.4,535.1 184.7,536.5 184.3,537.9 183.7,539.3 184.0,540.8 183.2,542.1 182.7,543.6 182.1,545.3 182.5,547.1 182.9,548.8 182.6,550.5 183.3,551.7 184.6,552.2 185.9,553.3 187.5,553.8 188.4,555.0 189.0,556.3 189.5,557.7 190.2,559.1 191.1,560.2 191.9,561.4 191.9,562.9 191.0,564.3 190.9,566.0 191.5,567.6 192.0,569.2 192.9,570.6 193.7,572.1 194.8,573.4 195.2,574.6 195.6,575.8 196.0,577.1 196.1,578.6 196.7,579.8 196.5,581.2 196.9,582.5 197.2,584.0 197.1,585.5 197.2,587.0 196.9,588.8 197.5,590.4 198.8,591.2 199.8,589.7 200.1,588.2 201.7,589.3 201.6,591.0 201.9,592.7 201.6,594.2 201.5,595.8 201.3,597.3 201.4,598.6 201.0,600.0 201.3,601.3 201.9,603.0 201.9,604.7 202.2,606.2 203.1,607.5 202.4,609.3 201.8,611.0 201.2,612.6 201.1,614.4 200.5,616.1 200.2,617.8 199.9,619.5 199.6,621.3 199.2,623.0 198.9,624.7 198.1,626.0 198.1,627.5M232.3,492.5 231.7,493.5 231.1,494.6 231.0,495.8 229.9,496.7 228.6,497.3 228.1,498.7 226.9,499.2 225.7,499.8 225.7,501.5 224.6,502.0 223.0,502.3 222.1,503.3 221.8,505.0 221.8,506.2 221.3,507.4 220.1,508.2 219.3,509.6 219.4,511.1 218.2,511.5 217.2,512.4 216.0,512.7 214.9,512.8 213.7,512.7 212.5,512.7 211.5,513.6 210.2,513.2 209.2,514.0 208.4,514.9 207.4,515.6 206.6,516.7 205.0,517.1 204.6,518.6 204.1,520.1 203.3,521.3 201.7,522.0 200.2,522.7 200.1,524.5 199.0,525.5 199.2,527.4 197.0,526.9 196.6,528.3 195.6,529.0 194.4,529.9 192.7,530.2 192.0,531.6 190.9,532.2 190.0,533.1 189.2,534.0 187.7,534.6 186.3,535.0 185.8,534.0 184.5,534.0 183.5,533.0 183.1,531.5 181.4,530.5 182.4,531.5 183.0,532.7 183.7,533.9 184.3,535.1 184.7,536.5 184.2,537.9 184.4,539.4 184.0,540.8 183.9,542.4 182.8,543.6 182.0,544.7 181.9,545.8 182.0,547.0 181.7,548.3 182.4,549.4 182.3,550.5 183.5,551.4 184.7,552.1 185.2,553.4 186.3,553.6 187.3,554.2 187.6,555.6 189.3,556.1 190.1,557.5 190.3,559.1 190.6,560.6 192.1,561.3 191.1,562.6 190.9,564.2 190.4,565.4 191.9,566.4 191.2,567.7 192.2,568.5 193.1,569.2 193.4,570.3 194.0,571.3 193.8,572.7 195.1,573.2 195.6,574.4 195.8,575.7 195.6,577.2 196.8,578.4 196.3,579.8 196.5,581.2 197.0,582.5 197.5,583.6 197.1,584.7 197.2,585.9 197.1,587.0 196.5,588.2 197.2,589.3 197.6,590.4 198.8,591.1 199.9,589.8 200.0,588.2 201.1,588.3 201.6,589.4 201.1,590.5 201.9,591.6 201.8,592.7 201.9,593.9 200.8,594.9 201.4,596.2 200.9,597.3 200.9,598.7 201.5,600.0 201.4,601.3 203.2,602.3 201.1,603.6 201.6,604.7 201.9,606.3 202.8,607.6 202.6,608.7 202.8,610.0 202.0,611.0 201.4,612.1 202.0,613.4 201.1,614.4 200.5,615.5 200.2,616.6 200.2,617.8 199.3,618.8 199.6,620.1 199.5,621.2 198.7,622.3 199.1,623.6 199.0,624.7 198.1,626.0 198.2,627.5M198.3,627.5 199.9,628.6 201.3,629.0 201.8,630.3 201.5,631.8 201.6,633.6 200.8,635.2 200.8,637.0 199.6,638.3 199.0,639.9 197.6,641.1 196.6,642.7 195.5,644.2 194.2,645.5 193.5,647.0 192.1,647.9 190.4,648.9 188.5,649.4 187.2,650.1 185.4,649.8 184.6,651.5 183.0,652.0 181.6,652.8 180.0,653.2 178.6,654.2 177.1,654.7 175.4,654.9 173.9,655.5 172.3,655.8 170.8,656.6 169.3,657.0 168.0,658.2 166.2,658.0 164.6,658.7 163.1,659.4 161.7,660.3 160.3,661.1 158.7,661.7 157.2,662.4 155.7,662.5 154.5,663.4 153.1,663.8 151.8,664.5 150.2,664.6 149.2,665.8 148.0,666.5 147.1,667.7 145.7,668.0 144.5,669.6 142.9,670.7 142.1,672.2 141.1,673.6 140.8,675.1 140.0,676.4 139.9,678.0 139.0,679.3 138.1,680.4 137.3,681.6 134.9,681.0 135.8,682.1 136.6,683.3 137.4,684.7 138.4,686.1 139.3,687.2 140.6,687.8 142.2,688.1 143.3,689.0 144.0,687.4 144.2,685.5 144.2,684.2 145.0,682.9 144.4,681.5 145.1,682.8 144.4,684.2 144.8,685.5 145.1,687.0 145.1,688.6 144.6,690.1 144.6,691.6 144.9,693.2 144.1,694.6 144.5,696.2 143.4,697.6 143.9,699.2 143.6,700.7 144.0,702.3 143.4,703.8 143.4,705.2 143.0,706.5 142.7,707.8 142.4,709.2 141.9,710.4 141.4,711.7 141.4,713.2 140.7,714.5 139.9,715.7 139.5,717.0 138.8,718.3 139.1,719.8 138.8,721.1 138.2,722.4 137.9,723.7 137.3,725.0 137.5,726.4 137.4,727.8 137.2,729.1 136.8,730.4 136.6,731.8 135.7,733.0 136.0,734.5 135.3,735.7 135.8,737.4 134.3,738.4 133.9,739.8 133.6,741.3 133.1,742.8 132.6,744.3 131.6,745.8 130.4,747.1 129.4,748.1 128.1,748.7 127.4,749.9 127.4,751.8 125.3,751.6 124.6,752.8 123.3,753.9 121.8,754.5 120.1,755.3 118.3,755.6 117.3,756.9 116.2,758.1 114.6,759.2 113.9,760.9 113.2,761.9 112.1,762.5M198.3,627.5 200.0,628.4 201.4,628.7 201.8,630.3 201.4,631.2 201.9,632.5 201.1,633.5 201.5,634.8 201.2,635.9 200.3,636.9 199.6,637.7 199.2,638.7 198.9,639.8 198.5,641.1 196.8,641.3 196.6,642.7 196.4,644.1 195.0,644.6 194.4,645.6 192.9,646.4 191.9,647.7 190.6,647.9 190.0,649.5 188.5,649.4 187.1,649.9 186.1,651.1 184.5,651.4 183.2,651.3 182.6,653.1 181.4,653.4 180.1,653.6 179.1,654.3 177.7,654.0 176.7,654.8 175.6,655.2 174.2,655.0 173.0,655.4 172.1,656.4 171.0,657.0 169.9,657.6 168.6,657.7 167.5,658.0 166.4,658.6 165.0,658.5 164.3,660.0 163.1,660.3 161.8,660.4 160.3,660.1 159.4,661.3 158.5,662.3 157.2,662.3 156.1,663.5 154.5,663.5 153.1,663.9 151.9,664.8 150.8,665.9 149.1,665.6 148.1,666.7 147.3,668.0 145.8,668.3 145.0,669.2 143.8,669.7 142.9,670.7 142.5,671.8 141.4,672.4 141.2,673.7 140.5,675.0 139.8,676.3 140.3,678.1 138.7,679.1 137.5,679.9 137.0,681.4 136.0,681.6 134.9,681.2 136.3,681.7 136.5,683.3 138.6,683.3 138.2,684.9 138.5,686.0 139.0,687.6 140.5,688.0 141.7,688.9 143.3,689.1 144.2,688.1 143.5,686.7 144.0,685.5 144.9,684.3 143.9,682.8 144.4,681.5 145.1,682.8 144.7,684.2 144.4,685.5 144.1,686.6 144.9,687.8 145.3,689.0 144.7,690.1 144.1,691.2 143.9,692.3 142.5,693.3 144.4,694.7 144.7,695.8 143.5,696.9 143.4,698.0 143.4,699.2 143.3,700.3 143.0,701.5 143.7,702.6 143.7,703.8 142.9,705.0 142.3,706.3 142.6,707.8 141.5,708.9 142.4,710.6 141.7,711.8 141.4,713.2 139.9,714.2 140.2,715.8 140.4,717.3 139.0,718.3 138.7,719.7 138.0,720.9 138.8,722.5 138.1,723.8 138.0,725.1 137.3,726.4 137.1,727.7 136.5,729.0 137.1,730.5 136.2,731.7 135.9,733.0 136.3,734.5 135.4,735.7 134.4,736.8 134.6,738.5 134.0,739.8 132.8,740.7 132.6,741.9 133.5,743.3 132.5,744.2 131.6,745.0 130.9,746.0 130.5,747.3 129.1,747.7 128.8,749.4 127.3,749.8 127.5,751.9 125.2,751.5 124.7,752.9 123.6,753.2 123.0,754.5 121.9,754.7 121.2,756.5 119.6,755.6 118.3,755.5 117.0,756.6 116.2,758.1 115.7,759.2 114.4,759.8 113.6,760.6 112.8,761.5 112.2,762.6M112.1,762.5 111.3,763.7 110.4,764.8 109.0,765.4 108.8,767.3 107.2,767.9 106.3,769.1 105.6,770.2 105.0,771.5 104.1,772.6 103.7,774.4 102.5,775.9 102.5,777.4 102.4,778.8 101.6,779.9 101.6,781.2 100.7,782.9 99.4,784.5 99.2,786.0 98.8,787.4 97.7,788.5 96.2,789.4 96.3,791.0 96.3,792.6 95.6,794.0 94.7,795.3 94.0,796.6 93.0,797.6 91.9,798.6 91.6,800.0 90.6,801.0 90.3,802.4 89.3,803.4 88.5,804.8 87.6,806.2 86.3,807.3 84.5,808.1 84.5,810.0 83.7,811.4 83.5,813.3 81.4,813.4 80.6,814.7M429.8,439.5 431.3,440.7 433.1,441.3 434.8,440.8 436.0,439.6 438.2,440.3 439.2,439.0 440.1,437.9 440.6,436.6 441.5,435.6 442.9,435.1 443.8,433.9 445.4,433.4 446.3,432.2 447.5,431.5 449.0,431.4 449.8,430.0 450.7,428.9 451.7,428.0 453.2,427.7 454.3,426.3 456.1,426.1 457.4,425.0 458.2,423.6 459.4,422.6 459.8,421.0 461.1,420.2 462.6,419.2 464.0,418.0 465.3,417.0 466.9,416.3 468.3,415.0 469.0,413.3 469.9,411.9 470.7,410.4 471.7,409.2 471.8,407.6 472.9,406.1 473.0,404.2 473.5,402.9 474.3,401.7 474.0,400.2 473.9,398.8 474.1,397.5 475.0,396.2 474.5,394.7 473.8,393.3 475.5,392.5 475.4,390.5 476.4,389.7 477.7,389.5 479.1,390.5 479.9,392.2 480.4,394.1 481.8,395.6 482.8,394.8 483.9,393.9 484.5,392.3 485.8,391.2 486.6,390.0 487.7,389.0 489.6,388.0 491.2,388.0 492.5,387.2 493.1,386.0 494.2,385.4 494.2,383.9 494.8,382.5 494.9,380.9 495.9,379.7 496.3,378.0 497.6,376.8 497.2,375.4 497.2,374.0 496.5,372.9 495.9,371.7 496.4,369.8 495.3,368.2 494.8,366.8 494.4,365.3 492.9,365.0 491.9,364.3 493.1,363.7 494.2,363.0 495.6,362.2 497.2,361.7 497.9,360.3 498.7,359.1 499.2,357.7 500.6,356.9 501.9,356.0 502.6,354.4 505.0,355.3 505.5,356.6 506.2,358.0 507.2,359.2 507.1,360.9 507.7,362.5 509.0,363.7 510.1,365.0 510.9,366.4 511.4,367.9 511.8,369.4 512.3,371.1 513.4,372.3 514.9,373.3 515.6,374.8 517.1,376.0 517.7,377.9 518.5,379.6 519.3,381.4 520.2,383.0 520.3,384.8 521.3,386.4 521.6,388.2 521.4,389.7 522.0,390.9 522.5,392.2 522.3,393.6 523.3,394.8 523.2,396.2 523.1,397.6 523.8,398.9 523.7,400.2 523.8,401.5 524.2,402.8 524.2,404.2 524.6,405.7 524.3,407.2 524.4,408.8 525.0,410.0 525.0,411.4 525.1,412.7 525.4,414.1 525.6,415.4 525.8,416.8 526.0,418.2 526.8,419.4 527.3,420.8 528.3,421.9 528.7,423.3 529.0,424.8 529.2,426.6 530.1,428.2 530.0,429.9 530.6,431.6 530.6,433.4 530.0,435.1 528.8,436.6 528.3,438.4 527.6,439.8 527.3,441.3 526.5,442.7 525.9,444.1 524.9,444.9 524.1,445.9 522.3,444.6 521.3,443.6 520.6,442.3 519.8,441.0 519.2,439.6 518.4,438.0 518.4,436.2 519.0,434.5 517.5,433.3 515.9,432.6 513.6,433.2 512.7,434.1 512.0,435.1 512.4,436.4 512.5,437.9 512.9,439.4 513.6,440.7 513.8,442.4 514.0,444.1 514.3,445.9 514.7,447.6 515.5,448.8 516.6,449.8 516.5,451.6 517.1,453.3 517.2,455.0 516.6,456.7 516.1,458.4 515.9,460.1 515.4,461.8 514.2,463.0 513.8,464.7 512.6,465.9 511.6,466.7 510.8,467.6M429.8,439.5 431.1,439.7 432.3,440.1 433.0,441.6 434.1,440.8 434.7,439.6 436.0,439.7 437.2,439.6 438.3,440.1 439.7,439.5 439.9,437.8 440.2,436.2 441.7,435.8 442.8,435.0 443.8,433.9 445.6,433.7 446.1,432.0 447.4,431.4 448.4,430.5 449.7,429.9 451.0,429.3 451.6,427.9 452.9,427.3 454.6,427.9 454.9,426.2 456.0,426.0 456.8,424.5 458.5,423.9 460.9,423.9 460.1,421.3 461.3,420.3 462.6,420.1 463.1,418.8 464.2,418.2 465.2,417.8 465.7,416.5 466.8,416.1 467.6,415.2 469.0,414.8 469.0,413.2 468.9,411.9 470.0,411.3 471.1,410.7 471.6,409.2 471.9,407.6 472.0,406.4 473.6,405.6 472.8,404.1 472.7,402.6 473.7,401.5 474.3,400.2 474.2,398.8 473.7,397.4 474.8,396.2 473.9,394.9 473.4,393.5 474.4,392.5 475.6,391.9 475.4,390.5 476.7,390.4 477.6,389.3 477.7,390.9 478.8,391.6 479.7,392.4 480.2,393.5 480.2,394.9 482.0,395.5 483.1,395.3 484.0,394.1 484.9,393.2 484.3,391.6 485.7,391.1 487.8,390.9 487.6,389.0 488.7,389.2 489.6,388.0 491.3,388.2 492.6,387.4 493.4,386.3 494.4,385.5 495.0,384.0 495.1,382.6 495.3,381.1 495.6,379.5 496.3,378.6 496.3,377.3 497.6,376.8 496.6,375.4 497.4,374.0 497.0,372.6 495.8,371.7 495.9,370.5 497.0,369.1 495.5,368.2 494.1,367.1 494.2,365.4 493.5,363.9 491.9,364.2 493.2,363.9 494.1,362.9 495.6,363.2 495.9,361.5 497.1,361.5 498.1,360.4 498.7,359.1 499.7,358.1 500.3,356.7 502.2,356.3 502.8,354.6 503.9,354.8 505.0,355.2 505.2,356.7 506.3,357.9 507.6,359.1 506.7,361.1 507.3,362.1 508.2,362.9 509.1,363.7 509.6,364.7 510.3,365.5 510.7,366.6 512.0,367.7 512.0,369.4 511.8,370.7 512.9,371.4 513.9,372.1 515.3,372.9 516.0,374.4 516.2,375.8 517.5,376.6 517.8,377.9 518.1,379.1 518.4,380.4 519.4,381.3 518.9,382.8 519.3,383.9 520.1,384.9 521.5,385.7 520.8,387.2 521.3,388.3 522.5,389.4 521.4,391.1 522.8,392.1 522.2,393.7 522.4,395.0 523.7,396.1 524.2,397.5 524.0,398.8 523.6,400.2 523.9,401.5 523.8,402.9 523.8,404.2 524.4,405.3 525.0,406.4 523.8,407.7 524.3,408.8 525.2,410.0 524.5,411.5 524.9,412.8 525.7,414.0 526.1,415.3 526.0,416.7 526.3,418.1 526.7,419.5 527.0,420.9 528.3,421.9 528.9,423.2 529.1,424.7 530.0,425.7 530.3,426.9 530.5,428.1 530.5,429.3 530.6,430.4 530.5,431.6 530.7,432.8 529.3,433.7 529.7,435.0 528.9,436.0 528.0,436.9 528.5,438.5 527.6,439.7 527.5,441.4 526.7,442.7 525.6,444.0 525.5,445.5 524.1,445.8 522.9,445.7 522.3,444.5 521.3,443.6 520.5,442.4 519.3,441.2 519.1,439.7 518.4,438.6 519.3,437.1 518.2,436.2 517.3,434.9 517.3,433.4 515.9,432.6 514.6,432.5 513.7,433.6 512.6,434.0 512.1,435.2 513.1,436.3 512.4,437.9 513.5,439.1 513.7,440.7 514.5,441.8 513.9,443.0 513.7,444.2 514.0,445.3 515.0,446.3 514.9,447.5 515.7,448.6 515.8,450.4 516.7,451.0 517.4,452.0 516.7,453.3 516.7,454.4 516.9,455.6 516.6,456.7 516.0,457.7 517.1,459.2 515.9,460.2 515.7,461.3 515.4,462.4 514.1,462.9 513.8,464.0 513.9,465.4 512.5,465.9 512.0,467.1 510.5,467.3M510.8,467.5 509.6,468.5 508.8,470.1 508.1,471.8 508.0,473.6 507.2,475.2 506.6,477.5 507.7,478.9 508.2,480.4 508.6,481.9 509.1,483.3 509.5,485.6 509.0,487.2 508.9,489.0 509.0,490.4 508.2,491.6 507.8,492.9 507.1,494.2 507.3,495.6 506.9,496.9 506.8,498.4 506.5,499.8 506.0,501.1 505.3,502.3 504.5,503.6 504.3,505.0 504.3,506.5 502.8,507.5 502.7,508.9 502.6,510.4 502.0,511.7 501.3,513.0 501.0,514.3 500.0,515.5 499.6,516.8 499.4,518.3 499.4,519.7 498.4,520.9 498.3,522.4 497.3,523.5 497.0,524.9 496.4,526.2 496.6,527.7 496.0,529.0 495.4,530.2 495.5,531.7 495.0,533.0 494.4,534.2 494.0,535.5 494.4,536.9 493.4,538.5 493.1,540.4 492.5,541.7 491.9,543.0 491.3,544.3 491.9,546.0 489.9,546.8 490.1,548.4 489.6,549.7 489.1,551.0 488.7,552.3 488.3,553.7 488.2,555.1 487.6,556.3 486.8,557.5 487.0,559.0 486.3,560.3 486.4,561.8 486.0,563.1 485.4,564.3 484.5,565.5 483.9,566.8 484.0,568.3 483.0,569.5 483.5,571.1 482.5,572.3 481.8,573.5 481.8,575.1 481.0,576.3 480.2,577.5 480.4,579.1 479.3,580.2 478.5,581.8 478.3,583.8 477.8,585.1 476.6,586.2 476.4,587.7 476.3,589.2 475.7,590.5 474.8,591.7 474.6,593.1 474.0,594.4 473.6,595.7 473.0,597.0 472.3,598.2 472.6,599.7 473.0,601.2 472.3,602.6M472.3,602.5 473.0,603.5 472.7,604.7 472.9,606.2 472.2,607.4 471.7,608.7 471.7,610.1 471.3,611.4 471.1,612.8 470.5,614.1 470.2,615.5 469.3,616.7 469.8,618.2 468.9,619.4 468.0,620.6 467.6,621.9 467.7,623.4 467.5,624.8 467.3,626.2 466.5,627.4 466.3,629.2 465.4,630.8 465.1,632.7 464.0,634.3 463.5,636.1 462.5,637.7 462.3,639.5 461.1,641.0 461.1,642.5 461.0,643.9 460.0,645.0 460.3,646.6 460.5,648.1 458.9,649.1 457.7,650.1 458.4,651.9 457.9,653.1 456.7,654.4 456.4,656.0 455.5,657.1 454.3,657.8 453.1,658.3 452.1,659.3 450.8,660.2 449.5,661.1 447.9,661.4 446.9,662.6 445.4,662.8 444.0,662.3 442.7,662.2 441.4,661.8 439.9,662.4 438.2,662.5 436.7,663.4 434.9,663.8 432.9,664.1 431.4,665.3 429.8,666.5 428.0,667.4 426.9,668.8 425.1,669.4 423.5,670.0 422.3,671.4 420.0,672.1M388.4,492.6 388.6,494.4 389.0,496.2 388.1,497.9 388.7,499.7 390.1,501.0 389.8,503.1 390.7,504.5 391.7,505.9 392.2,507.5 393.5,508.7 393.3,510.3 394.1,511.6 393.7,513.2 392.6,514.4 393.2,516.2 393.6,517.9 394.7,519.3 395.7,520.7 396.4,522.5 397.9,523.7 398.7,525.2 398.6,527.0 397.8,528.6 396.8,529.9 396.4,531.6 397.0,533.3 397.4,534.9 398.3,536.2 398.1,537.6 398.7,539.0 397.4,540.3 396.8,541.9 396.2,543.6 394.8,544.7 393.9,546.2 392.8,547.6 391.5,548.9 390.6,550.5 389.8,552.1 389.2,553.8 388.4,555.4 386.9,556.6 386.7,558.5 386.0,560.3 385.9,561.6 385.4,562.9 384.9,564.2 383.3,565.5 382.8,567.4M388.4,492.6 388.7,493.8 389.7,494.9 388.8,496.2 388.8,497.4 388.0,498.4 388.7,499.7 388.6,500.9 388.9,502.1 389.7,503.2 390.6,503.9 390.9,505.1 391.8,505.8 391.8,507.1 392.9,507.7 393.3,508.8 393.6,510.2 393.8,511.6 393.8,513.2 392.9,514.5 392.9,515.7 393.6,516.7 393.8,517.9 394.8,518.6 395.4,519.5 395.7,520.7 395.9,522.1 397.6,522.3 397.9,523.6 398.6,524.7 398.3,525.9 398.6,527.0 398.3,528.2 397.7,529.2 397.0,530.0 397.2,531.0 396.9,532.2 397.0,533.3 397.4,534.9 398.3,536.2 398.7,537.6 398.5,539.0 398.1,540.1 397.5,541.0 396.8,541.9 395.7,542.6 395.7,543.9 395.0,544.8 394.4,545.8 393.6,546.7 392.7,547.5 391.6,548.2 391.3,549.5 390.7,550.6 390.5,551.7 389.8,552.7 389.2,553.8 389.0,555.1 387.9,555.8 387.2,556.8 386.4,557.8 386.0,558.9 385.6,560.1 385.5,561.5 385.1,562.8 384.7,564.1 384.3,565.3 383.3,566.3 383.2,567.6M383.1,567.5 381.7,568.2 381.1,569.9 379.5,568.8 377.9,569.0 376.9,570.0 376.3,571.3 377.7,572.5 376.9,574.1 376.3,575.6 375.6,576.9 374.5,578.2 373.8,579.8 373.6,581.4 372.3,582.6 371.6,584.1 371.3,585.6 370.0,586.4 369.8,587.9 370.7,589.1 370.7,590.8 370.8,592.4 371.4,594.1 372.0,595.3 372.1,596.7 372.3,598.1 372.4,599.5 373.1,600.7 373.6,602.0 374.3,603.6 374.3,605.5 374.9,607.2 376.2,608.4 377.5,609.4 378.5,610.6 379.0,612.1 379.5,613.6 379.4,615.0 380.0,616.4 380.9,617.4 381.3,618.7 382.6,619.5 383.2,620.8 382.9,623.2 381.0,622.7 380.1,624.2 378.9,625.6 379.3,626.9 379.8,628.3 380.3,629.6 379.9,631.0 380.2,632.4 380.8,633.6 380.9,635.0 380.9,636.3 380.7,637.8 381.2,639.1 381.9,640.4 382.3,641.7 382.2,643.1 383.0,644.3 383.4,645.8 384.1,647.1 384.9,648.3 385.4,650.1 386.8,651.2 388.0,652.2 388.9,653.4 388.5,655.2 389.2,656.9 389.7,658.0 390.0,659.1 391.3,660.2 392.7,661.0 394.0,662.3 395.6,663.3 396.9,664.2 398.6,664.1 400.1,665.1 401.9,664.9 403.4,666.3 405.3,666.2 406.7,667.0 408.1,667.9 409.3,669.2 411.1,670.0 412.6,671.0 413.7,672.6 415.6,672.7 417.3,672.1 418.6,671.5 419.9,671.8M383.1,567.5 382.0,568.6 380.9,569.7 379.5,568.8 378.0,568.9 376.8,569.9 376.2,571.3 376.7,572.7 377.0,574.1 376.5,575.7 375.6,577.0 374.8,577.8 373.4,578.2 374.0,579.8 373.5,581.4 372.3,582.6 371.0,583.7 370.9,585.5 371.5,587.3 369.9,587.9 370.5,589.2 371.0,590.6 371.4,591.8 371.3,592.9 371.3,594.1 371.2,595.5 371.8,596.8 372.4,598.1 372.8,599.4 372.7,600.8 373.2,602.1 372.9,603.5 374.7,604.1 374.4,605.5 375.2,606.3 376.0,607.2 376.4,608.3 377.1,609.8 378.4,610.8 379.1,612.1 379.5,613.6 381.0,614.8 380.1,616.4 380.7,617.5 381.3,618.7 381.9,620.0 383.0,621.0 384.0,622.2 382.6,623.2 381.6,624.0 380.2,624.3 378.8,625.5 379.0,627.0 379.7,628.3 379.7,629.7 379.8,631.0 380.4,632.3 380.6,633.7 380.4,635.0 380.8,636.4 380.8,637.8 381.6,639.0 382.0,640.3 381.8,641.8 382.9,642.9 383.2,644.3 384.0,645.5 384.7,646.8 384.8,648.3 385.2,649.5 387.0,649.6 386.7,651.3 387.9,652.2 388.9,653.4 390.0,654.5 388.7,655.8 389.3,656.9 389.4,658.1 390.3,659.1 391.0,659.6 392.0,660.0 392.8,660.9 393.6,661.9 395.0,662.0 395.6,663.2 397.2,663.4 398.5,664.4 399.7,664.0 400.7,665.3 401.9,665.0 403.2,664.8 404.1,665.8 405.3,666.2 406.4,666.4 407.0,667.6 408.3,667.6 409.3,668.3 410.3,669.0 411.1,670.0 411.7,671.1 413.1,671.3 413.9,672.3 415.1,673.4 416.2,671.7 417.3,672.1 418.7,672.1 420.0,672.0M1580.5,91.3 1582.2,91.4 1583.9,92.0 1585.1,90.7 1586.7,90.1 1588.1,91.0 1589.6,90.8 1589.7,92.2 1588.9,93.5 1589.8,94.9 1590.1,96.4 1590.0,98.3 1589.2,99.9 1589.1,101.6 1588.4,103.3 1587.1,102.6 1585.6,102.4 1584.0,102.2 1582.8,101.0 1584.0,100.1 1584.4,98.6 1584.5,97.1 1585.7,95.9 1585.3,94.4 1585.0,93.0 1583.5,92.5 1581.8,92.3 1580.5,91.2M1591.3,110.1 1592.7,109.5 1594.1,109.1 1595.7,109.0 1597.3,108.8 1598.1,110.7 1598.6,112.5 1599.8,114.0 1600.3,115.9 1600.9,117.7 1602.3,119.1 1603.0,121.0 1604.0,122.6 1605.0,124.2 1605.7,126.0 1605.8,127.6 1606.5,129.1 1606.0,130.7 1603.9,129.8 1602.5,129.4 1601.0,129.5 1599.7,128.9 1598.7,127.8 1597.2,127.1 1596.0,125.9 1594.9,124.7 1594.1,123.3 1594.2,121.1 1592.4,119.9 1591.8,118.2 1590.9,116.9 1590.0,115.9 1589.9,114.7 1590.1,113.5 1590.7,112.4 1591.4,110.1M1611.3,131.8 1612.4,132.7 1613.5,133.6 1614.4,135.0 1615.2,136.4 1616.4,137.7 1617.0,139.2 1618.0,140.2 1618.4,141.5 1617.1,141.2 1615.8,141.6 1614.5,140.5 1612.9,139.9 1611.9,138.6 1610.7,137.6 1610.2,136.1 1610.1,134.7 1610.9,133.3 1611.3,131.8M1615.8,90.1 1615.9,91.6 1615.5,93.0 1616.1,94.5 1616.9,95.9 1617.9,97.2 1619.3,98.1 1621.3,99.3M687.9,535.9 689.2,536.8 689.6,538.2 690.4,539.7 691.4,541.0 691.9,542.8 692.6,544.4 691.6,545.8 691.3,547.4 690.0,548.3 689.0,549.6 687.6,550.3 686.3,551.2 684.4,551.0 682.8,550.5 681.7,549.7 680.4,549.1 680.9,547.3 681.6,545.6 682.3,544.1 683.5,542.9 684.1,541.3 685.0,539.9 685.6,538.8 686.2,537.7 687.3,537.1 687.9,535.9M638.8,558.8 640.5,558.5 642.2,558.5 643.5,559.6 645.1,559.9 646.2,560.9 646.9,562.1 648.0,563.4 648.6,565.0 648.7,566.8 648.8,568.5 648.3,569.7 647.4,570.7 645.7,571.1 643.9,571.1 642.3,570.7 640.5,570.6 639.1,569.4 637.8,568.3 636.5,567.5 636.0,566.1 635.1,564.9 635.1,563.4 636.0,562.0 636.6,560.5 637.5,559.4 638.7,558.6"/>
<path class="coast" style="stroke-width:2.1" d="M316.7,132.0 318.2,132.8 319.9,133.1 321.2,131.9 322.3,130.8 323.4,131.9 324.0,133.5 325.6,132.8 326.8,131.3 328.4,132.5 327.4,133.2 326.4,134.2 325.7,135.3 324.3,136.0 322.7,136.3 321.0,137.1 319.9,138.7 318.8,139.5 317.6,140.4 316.6,138.6 317.8,137.7 318.9,136.5 319.9,135.8 320.5,134.7M316.7,132.0 317.7,132.6 318.8,132.7 319.9,132.9 320.3,131.1 322.4,130.9 323.5,131.2 323.9,132.2 323.9,133.5 325.2,133.1 326.6,132.9 327.1,131.6 327.2,132.5 328.6,132.2 327.2,133.0 326.4,134.1 325.9,135.5 324.5,136.5 322.8,136.4 321.6,136.8 320.3,137.2 319.6,138.3 318.6,139.2 317.4,140.1 317.7,139.1 316.7,138.5 316.8,136.7 318.6,136.2 318.9,134.8 320.7,134.9M344.8,107.8 346.7,107.6 345.7,109.3M339.1,114.5 341.0,115.0 339.8,115.8M240.0,106.7 241.4,107.2 242.3,108.4 243.2,109.5 244.5,109.3 245.8,108.4 246.9,107.4 248.6,106.2 250.0,106.4 251.5,106.5M240.0,106.7 241.2,107.5 242.8,107.7 243.5,108.6 244.7,108.7 246.1,108.6 247.0,107.5 247.9,107.0 248.6,106.1 249.8,107.3 251.4,106.6M124.1,91.8 125.4,92.9 126.9,93.7 128.4,94.3 129.9,95.1 128.8,96.2 128.6,97.5 130.3,96.7 132.1,96.4 133.3,97.5 134.3,98.7 132.8,98.8 131.5,99.9 131.0,101.2 129.8,102.2 130.6,103.2 131.0,104.4 129.1,103.4 128.3,102.3 128.4,100.8 127.8,99.7 126.7,98.2 126.5,96.4M124.1,91.8 124.9,92.6 125.5,93.8 127.0,93.5 127.4,95.0 129.5,93.7 129.9,95.0 128.9,96.2 129.1,97.8 129.5,96.3 130.8,96.5 132.2,96.7 135.1,95.7 134.6,98.4 132.9,99.2 131.4,99.5 130.4,100.8 130.2,102.4 129.7,103.6 130.8,104.5 130.3,103.5 129.2,103.3 128.2,102.4 127.0,101.5 127.4,99.9 126.1,99.0 127.0,97.5 126.7,96.3M135.5,91.3 137.3,91.2 138.9,90.7 139.9,91.5 141.1,92.0M136.6,96.4 138.1,96.1 139.5,96.0M160.0,90.7 160.6,92.1 161.9,92.9M166.9,99.3 168.1,99.5 169.2,99.7M118.4,135.2 119.0,136.5 119.2,138.0 120.6,138.7 121.5,140.1 123.0,140.9 124.2,140.5 125.3,139.9 124.4,140.8 124.2,142.1 123.7,143.3 122.3,143.6 121.2,144.3 120.0,144.8 118.9,145.4 119.4,146.9 120.5,147.9 122.1,147.8 123.0,148.8 122.0,150.1 120.6,150.5 118.9,150.2M118.4,135.2 118.6,136.7 120.7,137.0 120.2,138.9 121.2,140.4 123.2,140.7 124.3,140.7 125.2,139.7 126.8,142.0 124.0,142.0 123.7,143.3 122.6,144.2 121.4,144.7 119.7,144.1 119.0,145.6 119.7,146.7 120.8,147.7 121.6,148.8 123.0,148.8 121.2,149.0 120.8,150.8 119.0,149.9M143.5,130.7 144.5,132.0 145.7,133.0 147.5,133.5 149.1,134.3 150.9,133.6 152.6,133.5 153.7,132.6 155.0,131.9 154.4,130.6 153.8,129.5M143.5,130.7 144.8,131.6 145.8,132.9 146.9,133.4 148.4,132.7 149.1,134.4 150.4,134.4 151.4,133.1 152.6,133.6 154.4,133.6 154.9,131.8 153.2,131.2 154.0,129.4M161.8,120.4 162.7,119.5 164.0,119.2 165.1,118.8 166.3,118.8 165.5,120.0 165.1,121.5 164.0,121.5 162.9,122.0M161.8,120.4 162.7,119.5 164.0,119.1 165.5,120.2 166.3,118.4 165.0,119.8 165.5,121.6 164.3,122.8 162.8,121.7M130.9,138.7 132.3,138.8 133.1,140.0 134.4,140.3 135.7,141.0 136.5,142.2 137.6,143.2 139.0,143.8M130.9,138.7 131.8,139.8 133.4,139.4 134.5,140.0 135.0,141.9 136.9,141.7 137.9,142.7 138.9,143.8M140.6,151.2 142.0,151.9 143.5,151.9 142.4,152.4 141.8,153.5M118.9,111.3 120.0,113.0M120.1,125.0 121.8,125.5 121.5,127.1 120.7,128.4M93.3,121.0 95.0,122.1M97.8,125.0 99.2,125.6M95.3,125.9 96.8,126.9M96.1,130.1 96.8,131.9M95.5,134.1 97.2,134.7M99.5,132.9 99.7,134.3 100.8,135.1 101.9,136.0M86.2,135.2 87.4,134.6 88.7,135.0 88.1,135.9 87.3,136.9M85.5,141.2 87.3,141.9M80.7,141.5 81.8,143.2 83.3,143.8M82.1,90.1 83.6,90.8 85.2,90.9M218.3,105.5 219.5,105.5 220.5,106.2 219.9,107.0M217.7,126.7 217.8,128.4 217.4,130.1 217.6,131.6 217.0,133.0M208.6,174.0 209.5,175.4M196.0,186.0 197.4,185.5 198.2,184.3M187.4,190.0 188.6,189.1 189.8,188.4M193.2,192.3 194.3,192.6 195.4,192.0M250.2,166.6 250.6,168.1 251.4,169.5M180.6,355.3 181.9,354.8 182.8,356.0 184.6,356.7M87.8,343.5 89.3,343.0M80.5,276.8 82.4,277.7M181.2,355.6 182.5,355.5 183.4,356.5 184.6,356.7 185.7,356.6 187.5,356.3M181.2,355.6 182.6,355.1 183.4,356.5 184.4,357.7 185.7,357.2 187.5,356.3M210.3,408.1 211.0,409.8 210.2,411.2 210.4,412.9 209.8,414.4 209.3,415.7 208.6,416.9 208.6,418.3M210.3,408.1 210.7,410.0 209.8,410.7 210.9,412.2 209.7,413.1 210.1,414.5 209.6,415.7 208.7,416.9 208.9,418.4M170.3,460.6 171.0,461.6 171.9,462.4 173.7,462.6 175.4,462.9 177.3,463.1 178.8,464.2 180.6,464.7 182.3,465.4 183.7,466.3 185.2,466.8 186.6,467.7 187.4,469.1 188.1,470.9 188.7,472.6 189.4,473.6 189.6,474.9 190.1,476.1 190.7,477.8 191.4,479.5 192.4,480.8 193.2,482.3 193.8,483.5 195.0,484.3 196.1,485.0 197.0,486.0 198.2,486.7 199.0,487.9 199.8,489.6 201.1,490.9 202.3,492.0M170.3,460.6 170.4,462.2 172.2,462.1 173.0,463.3 174.4,462.0 175.4,463.2 176.7,463.1 177.8,463.5 179.0,463.7 180.1,464.3 180.8,465.8 182.4,465.4 184.1,465.4 185.3,466.6 185.9,468.4 187.6,469.0 188.5,470.1 188.8,471.2 188.9,472.5 188.9,473.8 190.7,474.4 190.2,476.1 193.1,476.3 190.0,478.6 191.7,479.3 192.1,480.3 192.3,481.5 193.5,482.1 193.8,483.5 194.8,484.4 196.2,485.0 196.7,486.3 198.2,486.8 198.5,488.3 198.7,489.7 199.8,490.3 201.5,490.6 202.3,492.0M282.5,261.7 284.3,262.4 283.8,263.7M285.7,286.2 286.8,287.6M288.2,290.2 288.1,291.9 289.7,292.4M289.1,295.9 289.6,297.1 290.6,297.7M309.9,326.7 310.9,327.7 312.2,328.0 313.4,327.8 314.5,328.2 313.0,328.7 312.7,330.1M309.9,326.7 310.8,327.9 312.2,327.8 313.3,328.4 314.6,328.0 313.4,329.1 312.7,330.1M312.2,333.0 313.4,331.7 315.1,332.6 316.6,333.2M310.5,336.4 312.2,337.0 313.6,336.4 315.1,336.9M307.6,339.9 309.0,339.9 309.9,341.1M305.3,315.9 306.9,315.7 307.6,317.1 308.6,318.0 308.8,319.3 309.7,320.4 310.5,321.5M305.3,315.9 306.4,316.7 307.5,317.3 308.4,318.1 308.9,319.2 309.0,321.0 310.6,321.5M396.7,357.0 398.4,356.5M311.6,359.6 312.7,360.5 313.2,361.9 312.4,363.5 312.4,365.3 313.3,366.2 314.0,367.5 313.8,369.4 312.6,370.9M311.6,359.6 313.0,360.3 313.4,361.8 310.9,362.3 311.4,363.8 312.3,365.3 312.8,366.6 313.8,367.6 313.3,368.6 312.0,369.5 313.2,371.1M308.8,375.5 309.6,376.4 310.4,377.3 311.6,376.1M309.9,389.2 311.1,389.3 312.2,389.9M311.1,404.1 312.1,404.9 313.4,405.1 314.6,405.5 315.7,406.2 315.7,407.9 314.9,409.2 316.0,409.9 316.6,411.1 315.6,411.5 314.4,412.0M311.1,404.1 312.2,404.6 313.3,405.4 314.2,406.3 315.8,406.1 314.6,407.6 314.8,409.2 315.3,410.7 316.7,411.0 315.6,411.5 314.3,411.8M313.9,420.1 315.1,420.9 316.2,421.7 315.2,423.6M311.1,426.3 312.1,427.2 313.4,427.4 315.1,427.1M294.5,451.5 295.5,452.2 296.8,452.1 297.9,450.9 297.7,452.2 296.5,453.0 296.3,454.4 294.6,455.6M294.5,451.5 295.4,452.7 296.8,452.0 298.3,451.2 297.3,452.0 296.2,452.9 295.8,454.1 294.7,454.0 294.2,455.1M278.5,468.0 280.2,467.4M281.9,462.3 283.5,463.4M256.8,473.7 258.5,474.9M268.2,470.1 269.4,470.2 270.5,469.7M230.6,489.7 232.3,491.0M412.1,372.1 413.3,372.9 414.3,373.9 413.8,375.0 413.2,376.1M426.3,449.7 428.0,449.3 429.8,449.1M416.1,446.3 417.3,446.4 418.4,446.9 419.5,445.7M422.4,445.2 424.1,446.3M200.6,574.5 201.2,576.1 201.0,577.9 200.7,579.6 201.0,581.3 199.6,582.8 199.6,584.8M200.6,574.5 200.1,575.7 200.7,576.8 201.1,577.9 201.9,579.1 199.9,580.1 201.0,581.3 202.0,583.1 198.7,583.1 199.6,584.8M181.4,530.5 182.6,531.0 183.3,532.2 185.2,533.3M186.3,552.8 187.7,553.3 188.5,554.6 189.6,555.8 189.7,557.4M190.3,563.1 190.6,564.4 191.8,565.2 191.5,566.8 191.3,568.2M200.0,592.7 200.8,594.1 201.2,595.6M228.0,496.8 228.9,495.9 230.2,495.7M220.5,505.4 222.3,504.3M217.7,511.7 219.4,510.5M99.5,542.5 100.9,542.7 101.8,543.8 103.3,543.4M200.0,490.0 201.6,491.3M197.7,625.8 198.9,626.9M197.7,625.0 198.6,626.0 198.8,627.3 198.7,629.0 198.0,630.4 197.0,631.8 197.7,630.7 198.8,630.1 200.6,629.6M197.7,625.0 199.2,625.7 199.0,627.2 198.7,628.5 198.5,629.7 198.6,631.1 197.1,631.8 198.4,631.4 198.9,630.1 200.5,629.4M181.2,647.3 182.8,646.5 184.6,646.4 186.3,645.9 188.0,645.8 189.7,645.2 191.5,645.5 191.1,646.4 190.2,647.2 189.3,648.0 188.0,647.8M181.2,647.3 182.5,647.8 183.5,646.8 184.7,646.7 185.6,645.7 186.7,645.2 188.0,645.5 189.2,645.7 190.3,645.7 191.5,645.7 191.6,646.7 190.4,647.3 189.0,647.1 188.1,648.2M188.6,642.1 190.3,641.9M170.7,651.3 172.6,651.7 174.4,652.0M141.2,657.2 142.3,657.9 143.5,657.5 144.0,659.1M121.2,712.9 121.8,714.3 122.4,715.7 122.9,716.9 123.7,717.9 124.0,719.2 125.1,717.3 123.9,716.0 123.0,714.6M121.2,712.9 121.5,714.5 122.3,715.8 122.0,717.4 125.0,717.3 123.5,719.5 124.1,718.0 125.2,717.3 125.9,715.1 123.4,715.7 122.6,714.9M136.6,715.8 137.8,715.5 139.0,715.3 139.7,716.2M132.1,728.9 133.2,729.3 134.3,729.5 135.4,730.7 135.5,732.3 134.8,733.4 134.7,734.8 132.7,733.4 133.4,732.4 133.2,731.2M132.1,728.9 133.4,728.5 134.4,729.2 137.1,730.0 135.8,732.2 134.2,733.1 134.8,734.8 133.3,734.3 132.9,733.0 133.9,732.5 132.7,731.0M124.7,751.1 125.6,750.5 126.4,749.7M138.4,676.4 139.1,677.3 140.0,678.1M499.9,358.0 501.2,357.8 502.3,357.0 503.3,356.3 504.5,356.4 504.7,357.6 505.5,358.6 504.8,359.7 503.8,360.7 502.2,359.7M499.9,358.0 500.9,357.2 502.2,356.8 503.4,356.9 504.5,356.5 504.4,357.7 505.7,358.5 504.3,359.3 504.1,361.0 502.8,360.6 502.3,359.6M509.0,364.2 509.6,365.6 510.8,366.5 510.4,367.7 510.1,368.8M490.8,364.2 491.8,365.1 493.1,365.4 494.7,366.7M479.9,383.7 481.2,383.5 482.3,382.9 482.4,384.0 483.4,384.8 481.7,386.2M479.9,383.7 481.3,383.8 482.4,383.2 483.9,383.2 483.0,385.0 481.9,384.7 481.7,386.3M485.1,386.5 486.9,387.5M474.8,389.4 475.9,390.0 477.1,390.4M471.9,393.9 472.9,394.8 474.2,395.1M473.7,398.5 474.7,399.5 476.0,400.2 476.4,401.6 476.7,403.0 475.9,404.5 475.3,405.9 476.4,406.8 476.7,408.1 475.4,407.5 474.8,406.4 474.5,404.7 473.6,403.1M473.7,398.5 475.5,398.5 476.0,400.2 477.4,401.4 476.6,403.0 476.7,404.8 475.6,406.0 475.3,407.4 476.1,408.4 474.8,408.2 474.9,406.3 475.3,405.0 473.2,404.5 473.3,403.2M466.2,412.2 468.0,412.6M469.7,413.9 471.3,414.6M461.7,419.0 462.7,419.8 464.0,420.1 465.0,421.9 463.4,423.0M461.7,419.0 462.9,419.4 464.0,420.1 465.5,420.4 465.1,421.9 464.3,422.6 463.5,423.2M462.8,424.7 464.4,425.6M453.1,428.2 454.5,428.7 456.0,429.3 456.9,430.4 457.6,431.6 457.5,432.9 456.4,433.8 457.9,433.1 459.4,433.4M453.1,428.2 454.5,428.8 456.0,429.1 456.4,430.8 457.6,431.7 457.5,432.9 456.1,433.7 458.0,433.7 459.3,432.9M451.4,437.3 452.6,436.9 453.8,436.3M438.3,442.4 439.7,443.1 441.2,443.5 442.3,444.2 443.5,444.6 442.3,445.5 441.3,446.4 439.9,445.9 438.8,445.5M438.3,442.4 440.0,442.3 441.2,443.5 442.4,443.9 443.4,444.7 442.7,446.1 441.0,446.0 440.0,445.6 439.0,445.0M433.7,440.2 434.6,441.3 435.5,442.4M426.3,449.3 427.4,448.7 428.6,448.8 429.7,450.1M420.6,445.9 421.8,446.0 422.9,446.4M520.5,462.4 520.2,463.6 519.5,464.7 519.3,466.3 518.2,467.6M511.3,466.4 513.1,466.1 514.8,465.6 516.5,465.5 518.2,465.2M519.1,465.9 518.4,467.1 517.3,468.1 517.1,469.6 515.8,470.8 515.3,472.4M488.7,476.4 487.9,478.0 487.8,479.8 487.2,481.1 487.5,482.6 486.7,483.8M448.5,516.9 450.3,516.6 451.0,517.6M452.0,658.8 453.0,658.0 454.2,657.6 455.3,656.9 456.2,656.0M448.7,517.7 450.3,517.1 451.0,517.3M387.1,556.1 388.8,555.6M381.9,634.1 381.8,635.4 382.7,636.4 383.2,638.0M376.8,569.6 378.0,569.8 379.0,570.3 377.9,571.8M370.0,587.8 370.6,588.9 371.8,589.5M395.1,662.6 396.1,663.2 397.4,663.4M644.5,181.9 645.0,183.3 646.2,184.2 647.9,184.7 649.6,183.5M644.5,181.9 645.4,183.0 646.4,184.1 647.9,184.5 649.6,183.6M635.4,185.9 635.1,187.1 635.0,188.2M638.2,191.6 638.6,190.3 640.0,190.0 641.1,191.6 641.6,193.4 641.9,195.1M638.2,191.6 638.9,190.6 640.2,190.2 640.6,190.7 641.2,191.5 642.0,193.2 642.1,195.0M592.8,208.5 594.3,208.8M600.3,215.0 602.0,214.3M586.6,226.8 587.9,225.9 589.3,225.6M657.9,247.6 658.4,246.5 658.9,245.5M1027.9,101.9 1029.0,102.9 1030.3,103.7 1031.1,102.7 1032.6,102.3M1000.5,204.8 998.5,205.2 998.2,206.3 998.7,207.4 998.5,209.4M1000.5,204.8 999.5,204.9 998.5,205.2 999.3,206.2 999.2,207.4 999.2,208.5 998.8,209.4M1008.3,206.8 1009.6,207.3 1011.0,206.8M989.3,237.7 990.7,237.4 991.9,238.1M1571.9,89.8 1573.1,90.8 1574.8,90.9M1585.6,91.8 1586.6,92.8 1587.9,93.5 1588.5,94.9 1588.5,96.4 1587.6,97.7 1587.5,99.3M1585.6,91.8 1586.9,92.4 1588.1,93.2 1588.4,94.9 1589.3,96.3 1587.7,97.8 1587.8,99.5M1601.0,128.9 1602.4,128.5 1603.9,128.3 1604.7,129.3 1605.5,130.2M1611.3,132.9 1612.1,134.6 1612.1,136.5 1612.9,137.7 1614.5,138.3 1614.7,139.8M1620.6,144.4 1621.2,145.7 1620.5,147.1 1620.6,148.5 1620.6,149.9 1620.9,151.2M81.5,1047.5 82.9,1047.3 84.2,1047.0 85.6,1047.8 87.0,1047.7M81.5,1050.0 83.0,1050.3 84.5,1049.7 86.0,1050.2M437.0,296.6 438.6,295.7 439.9,296.0 441.1,296.4 442.0,297.9M437.0,296.6 438.6,295.6 439.5,297.3 440.9,296.9 442.4,297.5M545.1,314.3 546.0,313.0M665.0,317.7 666.2,319.0 666.5,320.3 667.6,320.9"/>
<g class="isl"><circle cx="126.9" cy="121.3" r="1.1"/><circle cx="136.9" cy="121.1" r="1.1"/><circle cx="123.5" cy="121.8" r="1.1"/><circle cx="213.7" cy="96.4" r="1.1"/><circle cx="217.1" cy="98.7" r="1.1"/><circle cx="208.0" cy="152.9" r="1.1"/><circle cx="201.1" cy="159.0" r="1.1"/><circle cx="179.8" cy="175.8" r="1.1"/><circle cx="205.7" cy="183.4" r="1.1"/><circle cx="184.0" cy="194.6" r="1.1"/><circle cx="249.4" cy="162.1" r="1.1"/><circle cx="239.7" cy="176.0" r="1.1"/><circle cx="92.1" cy="343.1" r="1.1"/><circle cx="192.0" cy="456.9" r="1.1"/><circle cx="286.5" cy="255.6" r="1.1"/><circle cx="288.8" cy="277.1" r="1.1"/><circle cx="313.9" cy="341.0" r="1.1"/><circle cx="274.7" cy="474.3" r="1.1"/><circle cx="359.6" cy="470.1" r="1.1"/><circle cx="147.1" cy="518.2" r="2.3"/><circle cx="142.6" cy="696.9" r="1.1"/><circle cx="141.8" cy="706.6" r="1.1"/><circle cx="103.0" cy="778.5" r="1.1"/><circle cx="488.5" cy="373.9" r="1.1"/><circle cx="492.5" cy="376.8" r="1.1"/><circle cx="489.9" cy="373.2" r="1.1"/><circle cx="460.5" cy="345.2" r="1.1"/><circle cx="420.6" cy="573.2" r="1.1"/><circle cx="499.3" cy="514.1" r="1.1"/><circle cx="478.8" cy="580.9" r="1.1"/><circle cx="469.3" cy="616.0" r="1.1"/><circle cx="467.0" cy="622.8" r="1.1"/><circle cx="461.3" cy="640.0" r="1.1"/><circle cx="359.5" cy="470.0" r="1.1"/><circle cx="386.5" cy="505.6" r="1.1"/><circle cx="420.0" cy="573.2" r="1.1"/><circle cx="381.0" cy="584.2" r="2.2"/><circle cx="383.2" cy="590.8" r="1.1"/><circle cx="634.6" cy="170.9" r="1.1"/><circle cx="644.7" cy="172.8" r="1.1"/><circle cx="651.0" cy="189.9" r="1.1"/><circle cx="592.8" cy="216.0" r="1.1"/><circle cx="580.3" cy="243.6" r="1.1"/><circle cx="1035.0" cy="95.0" r="1.1"/><circle cx="1003.4" cy="205.1" r="1.1"/><circle cx="1003.6" cy="207.8" r="1.1"/><circle cx="1011.3" cy="214.5" r="1.1"/><circle cx="989.7" cy="227.2" r="1.1"/><circle cx="994.2" cy="226.8" r="1.1"/><circle cx="987.9" cy="231.1" r="1.1"/><circle cx="1013.9" cy="251.0" r="2.4"/><circle cx="1545.8" cy="351.0" r="1.1"/><circle cx="1551.7" cy="358.6" r="2.0"/><circle cx="1126.3" cy="990.4" r="1.6"/><circle cx="1126.0" cy="1015.0" r="1.1"/><circle cx="691.3" cy="534.8" r="1.1"/><circle cx="442.7" cy="304.3" r="1.1"/><circle cx="466.1" cy="303.5" r="1.1"/><circle cx="469.9" cy="311.8" r="1.1"/><circle cx="536.0" cy="294.9" r="1.1"/><circle cx="543.2" cy="292.9" r="1.1"/><circle cx="542.0" cy="300.1" r="1.1"/></g>

<!-- tracks.svg -->
<path d="M362.2,107.3C362.0,107.7 361.5,108.9 361.1,110.1C360.6,111.4 359.8,113.0 359.4,114.7C358.9,116.4 358.6,118.5 358.2,120.4C357.8,122.3 357.4,124.4 357.1,126.1C356.8,127.8 356.9,129.1 356.5,130.7C356.1,132.2 355.4,133.7 354.8,135.2C354.2,136.8 353.7,138.3 353.1,139.8C352.5,141.3 351.8,142.8 351.4,144.4C351.0,145.9 350.9,147.4 350.8,148.9C350.7,150.4 350.9,151.8 350.8,153.5C350.7,155.2 350.5,157.5 350.2,159.2C349.9,160.9 349.6,162.4 349.1,163.8C348.6,165.1 347.8,166.1 347.4,167.2C347.0,168.2 346.7,168.9 346.8,170.0C346.9,171.2 347.4,172.6 347.9,174.0C348.5,175.5 349.4,177.2 350.2,178.6C351.1,180.0 352.0,181.4 353.1,182.6C354.1,183.8 355.6,184.9 356.5,186.0C357.5,187.2 358.3,188.2 358.8,189.5C359.3,190.7 359.4,192.3 359.4,193.4C359.4,194.6 358.6,195.4 358.8,196.3C359.0,197.2 359.6,197.9 360.5,198.6C361.4,199.3 362.6,199.6 363.9,200.3C365.3,201.0 367.0,201.9 368.5,202.6C370.0,203.2 371.5,203.7 373.1,204.3C374.6,204.9 376.1,205.4 377.6,206.0C379.1,206.6 380.7,207.1 382.2,207.7C383.7,208.4 385.2,209.1 386.8,210.0C388.3,210.9 389.8,211.8 391.3,212.9C392.8,213.9 394.6,215.1 395.9,216.3C397.2,217.4 398.3,218.6 399.3,219.7C400.4,220.8 401.7,222.5 402.2,223.0" fill="none" stroke="#e8e255" stroke-width="1.0" stroke-linejoin="round"/>
<path d="M402.2,223.0C402.8,223.6 404.5,225.3 406.2,226.4C407.8,227.6 410.0,228.7 411.9,229.8C413.8,231.0 416.1,232.1 417.6,233.3C419.1,234.4 420.2,235.6 421.0,236.7C421.8,237.8 422.0,239.6 422.1,240.1" fill="none" stroke="#e8e255" stroke-width="1.0" stroke-linejoin="round"/>
<path class="lg" d="M319.4,140.9C319.3,141.7 319.4,143.8 318.8,145.5C318.3,147.2 316.9,149.3 316.0,151.2C315.0,153.1 313.7,155.0 313.1,156.9C312.5,158.8 312.3,160.5 312.3,162.6C312.3,164.7 312.8,167.2 313.1,169.5C313.5,171.8 313.8,174.0 314.3,176.3C314.7,178.6 315.5,180.9 316.0,183.2C316.5,185.5 316.7,187.7 317.1,190.0C317.5,192.3 318.2,194.8 318.3,196.9C318.4,199.0 317.5,200.7 317.7,202.6C317.9,204.5 318.6,206.4 319.4,208.3C320.3,210.2 321.7,212.3 322.8,214.0C324.0,215.7 325.1,217.1 326.3,218.6C327.4,220.1 329.1,222.3 329.7,223.0M319.4,140.9C319.5,142.3 319.4,146.1 320.0,148.9C320.5,151.8 321.8,155.4 322.8,158.1C323.9,160.7 325.2,162.6 326.3,164.9C327.3,167.2 328.3,169.5 329.1,171.8C330.0,174.0 330.5,176.3 331.4,178.6C332.2,180.9 333.2,183.2 334.2,185.5C335.3,187.7 336.4,190.2 337.7,192.3C338.9,194.4 340.3,196.1 341.7,198.0C343.0,199.9 344.2,201.8 345.7,203.7C347.1,205.6 348.7,207.5 350.2,209.4C351.8,211.3 353.3,213.4 354.8,215.1C356.3,216.8 357.8,218.4 359.4,219.7C360.9,221.0 363.2,222.5 363.9,223.0M353.1,107.8C352.6,108.6 351.3,110.7 350.2,112.4C349.2,114.1 347.9,116.2 346.8,118.1C345.7,120.0 344.5,121.9 343.4,123.8C342.2,125.7 341.1,127.6 340.0,129.5C338.8,131.4 337.7,133.3 336.5,135.2C335.4,137.1 334.2,139.0 333.1,140.9C332.1,142.8 331.1,144.7 330.3,146.6C329.5,148.5 328.7,150.4 328.3,152.4C327.9,154.3 327.8,156.0 328.0,158.1C328.1,160.2 328.7,162.6 329.1,164.9C329.5,167.2 329.8,169.5 330.3,171.8C330.7,174.0 331.4,176.5 332.0,178.6C332.5,180.7 333.1,182.4 333.7,184.3C334.2,186.2 334.7,188.1 335.4,190.0C336.1,191.9 336.8,193.8 337.7,195.7C338.5,197.6 339.6,199.5 340.5,201.4C341.5,203.3 342.5,205.2 343.4,207.1C344.2,209.0 344.7,211.0 345.7,212.9C346.6,214.8 348.0,216.9 349.1,218.6C350.1,220.3 351.5,222.3 351.9,223.0M339.4,115.3C339.5,116.1 339.8,118.4 340.0,120.4C340.1,122.4 340.5,125.0 340.5,127.2C340.5,129.5 340.1,131.8 340.0,134.1C339.8,136.4 339.4,138.7 339.4,140.9C339.4,143.2 339.7,145.5 340.0,147.8C340.2,150.1 340.6,152.4 341.1,154.6C341.6,156.9 342.2,159.2 342.8,161.5C343.4,163.8 344.0,166.1 344.5,168.3C345.0,170.6 345.3,173.1 345.7,175.2C346.0,177.3 346.4,178.8 346.8,180.9C347.2,183.0 347.4,185.5 347.9,187.7C348.5,190.0 349.4,192.5 350.2,194.6C351.1,196.7 352.1,198.4 353.1,200.3C354.0,202.2 354.9,204.1 355.9,206.0C357.0,207.9 358.2,209.8 359.4,211.7C360.5,213.6 361.6,215.5 362.8,217.4C363.9,219.3 365.6,222.1 366.2,223.0M375.3,89.8C375.0,90.7 373.8,93.4 373.1,95.3C372.3,97.1 371.5,99.1 370.8,101.0C370.0,102.9 369.2,104.8 368.5,106.7C367.8,108.6 367.4,110.5 366.8,112.4C366.2,114.3 365.5,116.2 365.1,118.1C364.6,120.0 364.3,121.7 363.9,123.8C363.5,125.9 362.9,128.6 362.6,130.7C362.2,132.8 362.0,134.3 361.6,136.4C361.3,138.5 360.9,140.9 360.5,143.2C360.1,145.5 359.6,147.8 359.4,150.1C359.1,152.4 358.8,154.6 358.8,156.9C358.8,159.2 359.1,161.5 359.4,163.8C359.6,166.1 360.0,168.5 360.5,170.6C361.0,172.7 361.5,174.4 362.2,176.3C363.0,178.2 364.0,180.1 365.1,182.0C366.1,183.9 367.4,185.8 368.5,187.7C369.6,189.6 370.8,191.5 371.9,193.4C373.1,195.4 374.2,197.3 375.3,199.2C376.5,201.1 377.6,203.0 378.8,204.9C379.9,206.8 381.1,208.7 382.2,210.6C383.3,212.5 384.3,214.2 385.6,216.3C386.9,218.4 389.4,221.9 390.2,223.0M391.9,89.8C391.2,90.7 389.2,93.6 387.9,95.3C386.6,96.9 385.2,98.1 383.9,99.8C382.6,101.6 381.1,103.6 379.9,105.5C378.7,107.5 377.5,109.4 376.5,111.3C375.4,113.2 374.6,115.1 373.6,117.0C372.7,118.9 371.6,120.8 370.8,122.7C369.9,124.6 369.3,126.5 368.5,128.4C367.7,130.3 367.0,132.2 366.2,134.1C365.4,136.0 364.6,137.7 363.9,139.8C363.3,141.9 362.7,144.4 362.2,146.6C361.7,148.9 361.1,151.4 361.1,153.5C361.1,155.6 361.5,157.3 362.2,159.2C362.9,161.1 364.0,163.0 365.1,164.9C366.1,166.8 367.2,168.7 368.5,170.6C369.8,172.5 371.5,174.4 373.1,176.3C374.6,178.2 376.1,180.1 377.6,182.0C379.1,183.9 380.7,185.8 382.2,187.7C383.7,189.6 385.2,191.5 386.8,193.4C388.3,195.4 389.8,197.3 391.3,199.2C392.8,201.1 394.4,203.0 395.9,204.9C397.4,206.8 398.9,208.7 400.5,210.6C402.0,212.5 403.5,214.2 405.0,216.3C406.5,218.4 408.8,221.9 409.6,223.0M375.3,104.4C374.8,105.0 373.0,106.7 371.9,107.8C370.9,109.0 369.8,110.1 369.1,111.3C368.3,112.4 367.9,113.3 367.4,114.7C366.8,116.0 365.9,118.5 365.6,119.2M390.2,105.0C389.8,105.5 388.6,106.6 387.9,107.8C387.2,109.1 386.4,110.9 386.2,112.4C386.0,113.9 386.8,115.4 386.8,117.0C386.8,118.5 386.6,120.0 386.2,121.5C385.8,123.1 385.1,124.6 384.5,126.1C383.8,127.6 383.0,129.1 382.2,130.7C381.4,132.2 380.5,133.7 379.9,135.2C379.3,136.8 378.9,138.3 378.8,139.8C378.7,141.3 379.1,142.8 379.3,144.4C379.6,145.9 380.2,147.4 380.5,148.9C380.8,150.4 381.1,151.8 381.1,153.5C381.0,155.2 380.3,157.3 379.9,159.2C379.5,161.1 379.1,163.0 378.8,164.9C378.4,166.8 378.0,168.7 377.6,170.6C377.2,172.5 376.8,174.4 376.5,176.3C376.2,178.2 375.9,180.1 375.9,182.0C375.9,183.9 376.0,185.8 376.5,187.7C377.0,189.6 377.9,191.5 378.8,193.4C379.6,195.4 380.7,197.3 381.6,199.2C382.6,201.1 383.4,203.0 384.5,204.9C385.5,206.8 386.8,208.7 387.9,210.6C389.0,212.5 390.2,214.2 391.3,216.3C392.5,218.4 394.2,221.9 394.7,223.0M391.3,113.0C390.9,113.4 389.7,114.8 389.0,115.8C388.4,116.9 387.7,117.9 387.3,119.2C386.9,120.6 386.8,121.9 386.8,123.8C386.8,125.7 387.0,128.6 387.3,130.7C387.6,132.8 388.0,134.5 388.5,136.4C388.9,138.3 389.5,140.2 390.2,142.1C390.8,144.0 391.6,146.1 392.5,147.8C393.3,149.5 394.5,150.8 395.3,152.4C396.2,153.9 396.9,155.4 397.6,156.9C398.3,158.4 398.8,159.8 399.3,161.5C399.8,163.2 400.1,165.3 400.5,167.2C400.8,169.1 401.2,171.0 401.6,172.9C402.0,174.8 402.2,176.7 402.7,178.6C403.3,180.5 404.3,182.4 405.0,184.3C405.8,186.2 406.5,188.1 407.3,190.0C408.1,191.9 408.7,193.8 409.6,195.7C410.4,197.6 411.5,199.5 412.4,201.4C413.4,203.3 414.3,205.2 415.3,207.1C416.3,209.0 417.6,211.0 418.7,212.9C419.9,214.8 421.2,216.9 422.1,218.6C423.1,220.3 424.0,222.3 424.4,223.0M384.5,136.9C384.1,137.6 383.1,139.5 382.2,140.9C381.2,142.4 379.9,144.0 378.8,145.5C377.6,147.0 376.5,148.7 375.3,150.1C374.2,151.4 372.9,152.2 371.9,153.5C371.0,154.8 370.2,156.3 369.6,158.1C369.1,159.8 368.9,161.9 368.5,163.8C368.1,165.7 367.4,167.6 367.4,169.5C367.3,171.4 367.5,173.3 367.9,175.2C368.3,177.1 369.0,179.0 369.6,180.9C370.3,182.8 371.1,184.7 371.9,186.6C372.8,188.5 373.8,190.4 374.8,192.3C375.7,194.2 376.6,196.1 377.6,198.0C378.7,199.9 379.8,201.8 381.1,203.7C382.3,205.6 383.7,207.5 385.0,209.4C386.4,211.3 387.6,212.9 389.0,215.1C390.5,217.4 392.8,221.7 393.6,223.0M406.7,131.2C406.6,132.1 406.5,134.6 406.2,136.4C405.8,138.2 405.0,140.2 404.5,142.1C403.9,144.0 403.3,145.9 402.7,147.8C402.2,149.7 401.4,151.6 401.0,153.5C400.6,155.4 400.7,157.3 400.5,159.2C400.2,161.1 399.9,163.2 399.3,164.9C398.7,166.6 398.0,168.1 397.0,169.5C396.1,170.8 394.9,171.9 393.6,172.9C392.3,173.9 390.6,174.6 389.0,175.2C387.5,175.8 386.0,176.3 384.5,176.3C383.0,176.3 381.4,175.8 379.9,175.2C378.4,174.6 376.9,173.8 375.3,172.9C373.8,172.0 372.3,171.0 370.8,170.0C369.3,169.1 367.7,168.2 366.2,167.2C364.7,166.1 362.4,164.3 361.6,163.8M415.3,130.7C415.3,131.6 415.4,134.5 415.5,136.4C415.6,138.3 415.7,140.0 415.9,142.1C416.0,144.2 416.2,146.8 416.4,148.9C416.7,151.0 417.1,152.7 417.6,154.6C418.1,156.5 418.7,158.4 419.3,160.3C419.9,162.2 420.4,164.1 421.0,166.1C421.6,168.0 422.1,169.9 422.7,171.8C423.3,173.7 423.8,175.6 424.4,177.5C425.1,179.4 426.0,181.3 426.7,183.2C427.5,185.1 428.2,187.0 429.0,188.9C429.8,190.8 430.5,192.7 431.3,194.6C432.0,196.5 432.8,198.4 433.6,200.3C434.3,202.2 435.1,204.1 435.8,206.0C436.6,207.9 437.4,209.8 438.1,211.7C438.9,213.6 439.6,215.5 440.4,217.4C441.2,219.3 442.3,222.1 442.7,223.0M427.3,129.5C426.8,130.3 425.4,132.6 424.4,134.1C423.5,135.6 422.5,136.9 421.6,138.7C420.6,140.4 419.7,142.5 418.7,144.4C417.8,146.3 416.7,148.2 415.9,150.1C415.0,152.0 414.3,153.9 413.6,155.8C412.8,157.7 412.0,159.6 411.3,161.5C410.6,163.4 410.2,165.3 409.6,167.2C409.0,169.1 408.4,171.0 407.9,172.9C407.3,174.8 406.6,176.7 406.2,178.6C405.7,180.5 405.3,182.4 405.0,184.3C404.7,186.2 404.4,188.1 404.5,190.0C404.5,191.9 405.1,193.8 405.6,195.7C406.1,197.6 406.6,199.5 407.3,201.4C408.0,203.3 408.7,205.2 409.6,207.1C410.4,209.0 411.5,211.0 412.4,212.9C413.4,214.8 414.4,216.9 415.3,218.6C416.2,220.3 417.2,222.3 417.6,223.0M459.8,121.0C459.7,121.8 459.2,124.3 459.2,126.1C459.2,127.9 459.8,129.9 459.8,131.8C459.8,133.7 459.5,135.6 459.2,137.5C459.0,139.4 458.4,141.3 458.1,143.2C457.8,145.1 457.4,146.8 457.3,148.9C457.2,151.0 457.3,153.5 457.5,155.8C457.8,158.1 458.3,160.5 458.7,162.6C459.1,164.7 459.3,166.4 459.8,168.3C460.3,170.2 460.9,172.1 461.5,174.0C462.2,175.9 463.0,177.8 463.8,179.7C464.7,181.7 465.7,183.6 466.7,185.5C467.6,187.4 468.6,189.3 469.5,191.2C470.5,193.1 471.3,195.0 472.4,196.9C473.4,198.8 474.7,200.9 475.8,202.6C476.9,204.3 478.1,205.8 479.2,207.1C480.4,208.5 481.7,209.2 482.6,210.6C483.6,211.9 484.3,213.6 484.9,215.1C485.6,216.7 486.3,218.4 486.6,219.7C487.0,221.0 487.1,222.5 487.2,223.0M444.4,163.8C444.5,164.5 445.0,166.8 445.0,168.3C444.9,169.9 444.3,171.7 444.1,172.9C443.8,174.1 443.9,174.9 443.3,175.8C442.7,176.6 441.4,177.3 440.4,178.0C439.5,178.8 438.4,180.1 437.6,180.3C436.7,180.5 436.0,179.1 435.3,179.2C434.5,179.3 433.7,180.2 433.0,180.9C432.3,181.6 431.9,182.4 431.3,183.2C430.6,183.9 429.9,185.1 429.0,185.5C428.0,185.8 426.6,185.6 425.6,185.5C424.5,185.3 423.6,184.6 422.7,184.3C421.9,184.0 420.7,183.5 420.4,183.7C420.1,184.0 420.4,185.4 421.0,186.0C421.6,186.7 422.9,187.1 423.9,187.7C424.8,188.4 425.7,189.1 426.7,190.0C427.8,191.0 429.0,192.1 430.1,193.4C431.3,194.8 432.4,196.5 433.6,198.0C434.7,199.5 435.8,201.1 437.0,202.6C438.1,204.1 439.3,205.6 440.4,207.1C441.6,208.7 442.7,210.2 443.8,211.7C445.0,213.2 446.1,214.8 447.3,216.3C448.4,217.8 449.8,219.7 450.7,220.8C451.5,222.0 452.1,222.7 452.4,223.0M407.9,160.9C408.2,161.6 409.0,163.5 409.6,164.9C410.2,166.3 410.7,168.0 411.3,169.5C411.9,170.9 412.2,172.5 413.0,173.5C413.9,174.4 415.1,174.5 416.4,175.2C417.8,175.8 419.5,176.7 421.0,177.5C422.5,178.2 424.0,179.1 425.6,179.7C427.1,180.4 428.6,180.9 430.1,181.5C431.7,182.0 433.2,182.5 434.7,183.2C436.2,183.8 437.7,184.6 439.3,185.5C440.8,186.3 442.3,187.3 443.8,188.3C445.4,189.4 446.9,190.5 448.4,191.7C449.9,193.0 451.4,194.3 453.0,195.7C454.5,197.2 456.0,198.8 457.5,200.3C459.1,201.8 460.6,203.3 462.1,204.9C463.6,206.4 465.1,207.9 466.7,209.4C468.2,211.0 469.7,212.6 471.2,214.0C472.8,215.4 474.1,216.5 475.8,218.0C477.5,219.5 480.6,222.2 481.5,223.0M385.0,163.8C385.2,164.5 385.7,166.8 386.2,168.3C386.7,169.9 387.0,171.6 387.9,172.9C388.8,174.2 390.0,175.2 391.3,176.3C392.7,177.5 394.4,178.5 395.9,179.7C397.4,181.0 398.9,182.4 400.5,183.7C402.0,185.1 403.3,186.5 405.0,187.7C406.7,189.0 408.8,190.2 410.7,191.2C412.6,192.1 414.5,192.6 416.4,193.4C418.3,194.3 420.4,195.2 422.1,196.3C423.9,197.4 425.4,198.9 426.7,200.3C428.0,201.7 429.0,203.3 430.1,204.9C431.3,206.4 432.4,207.9 433.6,209.4C434.7,211.0 435.8,212.5 437.0,214.0C438.1,215.5 439.5,217.1 440.4,218.6C441.4,220.1 442.3,222.3 442.7,223.0M427.3,207.1C427.8,207.6 429.1,209.0 430.1,210.0C431.2,211.0 432.4,211.8 433.6,212.9C434.7,213.9 435.8,215.1 437.0,216.3C438.1,217.4 439.3,218.6 440.4,219.7C441.6,220.8 443.3,222.5 443.8,223.0M340.5,163.2C340.2,163.9 339.3,165.6 338.8,167.2C338.3,168.8 338.0,171.0 337.7,172.9C337.4,174.8 337.0,176.7 337.1,178.6C337.2,180.5 337.8,182.4 338.2,184.3C338.7,186.2 339.3,188.1 340.0,190.0C340.6,191.9 341.4,193.8 342.2,195.7C343.1,197.6 344.1,199.5 345.1,201.4C346.0,203.3 346.9,205.2 347.9,207.1C349.0,209.0 350.2,211.0 351.4,212.9C352.5,214.8 353.7,216.9 354.8,218.6C355.8,220.3 357.2,222.3 357.6,223.0M340.5,172.9C340.6,173.9 341.0,176.7 340.9,178.6C340.8,180.5 340.2,182.4 340.0,184.3C339.7,186.2 339.6,188.1 339.4,190.0C339.2,191.9 339.1,193.8 338.8,195.7C338.5,197.6 338.0,199.5 337.7,201.4C337.4,203.3 337.0,205.2 337.1,207.1C337.2,209.0 337.8,211.0 338.2,212.9C338.7,214.8 339.4,216.9 340.0,218.6C340.5,220.3 341.4,222.3 341.7,223.0M395.3,177.5C395.5,178.2 396.2,180.5 396.5,182.0C396.7,183.6 396.7,185.1 397.0,186.6C397.3,188.1 397.7,189.6 398.2,191.2C398.6,192.7 399.2,194.2 399.9,195.7C400.6,197.3 401.3,198.8 402.2,200.3C403.0,201.8 404.1,203.3 405.0,204.9C406.0,206.4 406.9,207.9 407.9,209.4C408.8,211.0 409.7,212.5 410.7,214.0C411.8,215.5 413.2,217.1 414.2,218.6C415.1,220.1 416.1,222.3 416.4,223.0M324.5,193.4C324.1,194.2 322.6,196.5 321.7,198.0C320.7,199.5 319.4,200.9 318.8,202.6C318.3,204.3 318.1,206.4 318.3,208.3C318.5,210.2 319.3,212.1 320.0,214.0C320.6,215.9 321.6,218.2 322.3,219.7C322.9,221.2 323.7,222.5 324.0,223.0M434.7,183.2C435.3,183.9 436.8,186.2 438.1,187.7C439.5,189.3 441.2,190.8 442.7,192.3C444.2,193.8 445.7,195.4 447.3,196.9C448.8,198.4 450.3,199.9 451.8,201.4C453.3,203.0 454.9,204.5 456.4,206.0C457.9,207.5 459.4,209.0 461.0,210.6C462.5,212.1 464.0,213.6 465.5,215.1C467.0,216.7 468.8,218.4 470.1,219.7C471.4,221.0 472.9,222.5 473.5,223.0M418.7,194.6C419.5,195.1 421.8,196.7 423.3,197.4C424.8,198.2 426.3,198.5 427.9,199.2C429.4,199.8 430.9,200.6 432.4,201.4C433.9,202.3 435.5,203.2 437.0,204.3C438.5,205.3 440.0,206.5 441.6,207.7C443.1,209.0 444.6,210.3 446.1,211.7C447.6,213.1 449.2,214.8 450.7,216.3C452.2,217.8 454.1,219.7 455.3,220.8C456.4,222.0 457.2,222.7 457.5,223.0M328.5,223.0C328.8,224.1 329.3,227.6 330.3,229.8C331.2,232.1 332.8,234.4 334.2,236.7C335.7,239.0 337.2,241.3 338.8,243.5C340.4,245.8 342.2,248.3 343.9,250.4C345.7,252.5 347.3,254.2 349.1,256.1C350.9,258.0 352.9,260.1 354.8,261.8C356.7,263.5 358.4,264.9 360.5,266.4C362.6,267.9 365.1,269.5 367.4,270.9C369.6,272.4 371.7,273.6 374.2,274.9C376.7,276.3 379.5,277.7 382.2,278.9C384.9,280.2 387.5,281.1 390.2,282.4C392.8,283.6 395.5,285.0 398.2,286.4C400.8,287.7 403.5,289.0 406.2,290.4C408.8,291.7 411.5,293.0 414.2,294.3C416.8,295.7 419.5,296.9 422.1,298.3C424.8,299.8 428.8,302.1 430.1,302.9M392.5,295.5C393.4,296.0 396.1,297.3 398.2,298.3C400.3,299.4 402.7,300.6 405.0,301.8C407.3,302.9 409.6,304.0 411.9,305.2C414.2,306.4 416.4,308.0 418.7,309.2C421.0,310.4 423.3,311.5 425.6,312.6C427.9,313.8 430.1,314.9 432.4,316.0C434.7,317.2 437.0,318.4 439.3,319.5C441.6,320.5 443.8,321.4 446.1,322.3C448.4,323.3 450.7,324.2 453.0,325.2C455.3,326.1 457.5,327.1 459.8,328.0C462.1,329.0 464.4,330.0 466.7,330.9C468.9,331.7 471.2,332.3 473.5,333.2C475.8,334.0 478.1,335.1 480.4,336.0C482.6,337.0 484.9,337.9 487.2,338.9C489.5,339.8 491.9,340.9 494.1,341.7C496.2,342.6 499.0,343.6 500.0,344.0M421.0,310.9C422.1,311.5 425.6,313.2 427.9,314.3C430.1,315.5 432.2,316.6 434.7,317.7C437.2,318.9 440.0,320.0 442.7,321.2C445.4,322.3 448.0,323.5 450.7,324.6C453.3,325.7 456.0,326.9 458.7,328.0C461.3,329.2 464.0,330.3 466.7,331.4C469.3,332.6 472.0,333.7 474.7,334.9C477.3,336.0 479.8,337.1 482.6,338.3C485.5,339.5 488.9,341.0 491.8,342.3C494.7,343.6 498.6,345.6 500.0,346.3M500.0,243.0C501.1,243.6 504.6,245.5 506.8,247.0C509.1,248.4 511.4,250.0 513.7,251.5C516.0,253.1 518.3,254.6 520.5,256.1C522.8,257.6 525.1,259.1 527.4,260.7C529.7,262.2 532.0,263.7 534.2,265.2C536.5,266.8 538.8,268.3 541.1,269.8C543.4,271.3 545.7,272.8 547.9,274.4C550.2,275.9 552.5,277.5 554.8,278.9C557.1,280.4 559.4,281.6 561.6,282.9C563.9,284.3 566.2,285.7 568.5,286.9C570.8,288.2 573.1,289.1 575.3,290.4C577.6,291.6 579.9,292.9 582.2,294.3C584.5,295.8 586.8,297.3 589.0,298.9C591.3,300.5 593.6,302.2 595.9,304.1C598.2,305.9 600.6,308.0 602.7,309.8C604.8,311.5 606.5,313.0 608.4,314.3C610.4,315.7 612.3,316.6 614.2,317.7C616.1,318.9 618.0,320.1 619.9,321.2C621.8,322.2 623.7,323.4 625.6,324.0C627.5,324.7 629.4,324.8 631.3,325.2C633.2,325.5 634.9,325.9 637.0,326.3C639.1,326.7 641.6,327.1 643.8,327.5C646.1,327.8 648.4,328.1 650.7,328.6C653.0,329.1 655.3,329.7 657.5,330.3C659.8,330.9 662.1,331.4 664.4,332.0C666.7,332.6 668.9,333.2 671.2,333.7C673.5,334.3 676.9,335.2 678.1,335.4M592.5,349.7C593.0,349.2 594.7,347.9 595.9,346.9C597.0,345.8 598.2,344.3 599.3,343.4C600.5,342.6 601.6,342.0 602.7,341.7C603.9,341.4 605.3,341.3 606.2,341.7C607.0,342.1 607.3,343.1 607.9,344.0C608.4,344.9 609.3,346.4 609.6,346.9M678.2,334.8C677.6,334.6 675.9,334.2 674.2,333.7C672.6,333.2 670.4,332.5 668.5,332.0C666.6,331.4 664.7,330.8 662.8,330.3C660.9,329.7 659.0,329.2 657.1,328.8C655.2,328.3 653.3,327.9 651.4,327.6C649.5,327.3 647.6,327.1 645.7,326.8C643.8,326.6 641.0,326.4 640.0,326.3M595.3,470.5C594.2,470.0 590.6,468.9 588.5,467.6C586.4,466.4 584.7,464.6 582.8,463.1C580.9,461.5 579.2,459.8 577.1,458.5C575.0,457.2 572.5,456.2 570.2,455.1C567.9,453.9 565.5,453.0 563.4,451.6C561.3,450.3 559.2,448.8 557.7,447.1C556.1,445.4 555.4,443.5 554.2,441.4C553.1,439.3 552.0,436.8 550.8,434.5C549.7,432.2 548.2,430.0 547.4,427.7C546.6,425.4 546.6,423.1 546.3,420.8C545.9,418.5 545.6,416.3 545.1,414.0C544.6,411.7 544.1,409.4 543.4,407.1C542.7,404.8 542.0,402.4 541.1,400.3C540.3,398.2 539.1,396.3 538.3,394.6C537.4,392.9 536.4,390.8 536.0,390.0M614.7,465.3C613.8,465.1 611.5,464.0 609.0,463.6C606.6,463.2 603.0,463.2 599.9,463.1C596.9,463.0 593.4,463.2 590.8,463.1C588.1,463.0 586.2,463.0 583.9,462.5C581.6,462.0 579.2,461.1 577.1,460.2C575.0,459.3 573.3,458.4 571.4,457.4C569.5,456.3 567.6,455.1 565.7,453.9C563.8,452.8 561.7,451.8 560.0,450.5C558.2,449.2 556.5,447.6 555.4,445.9C554.2,444.2 554.1,441.9 553.1,440.2C552.2,438.5 550.6,437.4 549.7,435.7C548.7,433.9 548.1,431.9 547.4,430.0C546.7,428.1 546.2,426.0 545.7,424.2C545.2,422.5 544.9,421.4 544.5,419.7C544.2,418.0 543.7,415.9 543.4,414.0C543.1,412.1 543.1,410.2 542.8,408.3C542.5,406.4 542.3,404.5 541.7,402.6C541.1,400.7 540.4,398.6 539.4,396.8C538.5,395.1 536.9,393.4 536.0,392.3C535.0,391.1 534.1,390.4 533.7,390.0M581.6,427.7C580.5,427.6 577.1,427.1 574.8,427.1C572.5,427.1 570.2,427.4 567.9,427.7C565.7,428.0 563.4,428.4 561.1,428.8C558.8,429.2 556.1,430.1 554.2,430.0C552.3,429.8 551.0,428.8 549.7,427.7C548.3,426.5 547.1,424.6 546.3,423.1C545.4,421.6 544.8,419.3 544.5,418.5M577.1,424.2C575.9,424.1 572.5,423.5 570.2,423.1C567.9,422.7 565.7,422.2 563.4,422.0C561.1,421.7 558.8,421.6 556.5,421.4C554.2,421.2 551.7,421.1 549.7,420.8C547.7,420.6 546.1,420.7 544.5,419.9C543.0,419.1 542.0,417.4 540.5,416.3C539.1,415.1 537.5,414.0 536.0,412.8C534.5,411.7 532.7,410.7 531.4,409.4C530.1,408.1 528.9,406.4 528.0,404.8C527.0,403.3 526.5,402.0 525.7,400.3C524.9,398.6 524.0,396.3 523.4,394.6C522.9,392.9 522.5,390.8 522.3,390.0M500.0,346.3C501.3,347.9 505.3,352.7 507.9,355.9C510.6,359.1 513.6,362.5 515.9,365.6C518.3,368.8 520.1,371.8 522.2,374.7C524.3,377.7 526.7,380.8 528.5,383.3C530.3,385.9 532.3,388.9 533.1,390.0M500.0,344.0C501.5,345.5 506.2,350.0 509.1,353.1C511.9,356.1 514.6,359.1 517.1,362.2C519.6,365.3 521.8,368.7 523.9,371.9C526.0,375.1 527.8,378.6 529.6,381.6C531.4,384.6 533.9,388.6 534.8,390.0M488.5,326.8C490.4,327.9 496.3,331.0 500.0,333.7C503.6,336.3 507.0,339.6 510.2,342.8C513.5,346.0 516.5,349.6 519.4,353.1C522.2,356.5 526.0,361.6 527.4,363.3M477.1,343.9C479.0,345.1 484.7,348.1 488.5,350.8C492.3,353.4 496.5,356.9 500.0,359.9C503.4,363.0 506.4,366.0 509.1,369.0C511.8,372.1 514.0,375.5 515.9,378.2C517.8,380.8 519.4,383.0 520.5,385.0C521.6,387.0 522.0,389.2 522.3,390.0M512.5,351.9C514.0,353.4 518.6,357.8 521.6,361.1C524.7,364.3 527.9,367.9 530.8,371.3C533.6,374.7 536.5,378.5 538.8,381.6C541.1,384.7 543.5,388.6 544.5,390.0M498.0,323.7 494.4,321.9 490.6,320.3 486.8,318.7 482.9,317.3 478.9,316.0 474.9,314.7 470.9,313.4 467.0,312.0 463.1,310.5 459.3,309.0 455.5,307.4 451.8,305.8 448.0,304.1 444.3,302.4 440.6,300.8 436.9,299.1 433.2,297.3 429.5,295.6 425.9,293.7 422.4,291.8 418.9,289.9 415.4,287.9 411.9,286.0 408.4,284.0 404.8,282.1 401.3,280.1 397.8,278.2 394.3,276.2 390.9,274.0 387.9,271.5 384.9,268.8 382.0,266.0 379.2,263.1 376.4,260.2 373.6,257.4 370.7,254.6 367.8,251.8 364.7,249.3 361.6,246.8 358.5,244.3 355.3,242.0 352.0,239.7 348.8,237.4 345.6,235.0 342.3,232.7 339.1,230.3 336.0,227.9 332.8,225.5 329.7,223.0M543.5,342.2 540.8,339.2 538.1,336.2 535.3,333.1 532.6,330.2 529.8,327.3 526.9,324.5 523.9,321.9 520.7,319.5 517.3,317.3 513.9,315.3 510.2,313.5 506.5,311.9 502.6,310.4 498.7,309.0 494.7,307.6 490.7,306.4 486.6,305.1 482.6,303.8 478.7,302.5 474.7,301.1 470.8,299.6 467.0,298.0 463.3,296.3 459.8,294.5 456.3,292.4 453.0,290.2 449.8,287.8 446.8,285.2 443.9,282.4 441.1,279.6 438.2,276.7 435.5,273.7 432.6,270.9 429.8,268.1 426.7,265.5 423.5,263.1 420.2,260.9 416.7,258.9 413.2,256.9 409.6,255.0 406.0,253.2 402.5,251.3 398.9,249.4 395.5,247.3 392.1,245.2 388.8,243.0 385.6,240.6 382.5,238.2 379.3,235.7 376.2,233.2 373.2,230.6 370.1,228.1 367.0,225.5 363.9,223.0M562.5,328.6 558.7,327.0 554.8,325.5 550.9,324.0 546.9,322.7 542.9,321.5 538.8,320.3 534.6,319.1 530.5,318.0 526.3,316.9 522.1,315.8 517.9,314.8 513.7,313.7 509.6,312.5 505.5,311.3 501.5,310.1 497.5,308.7 493.5,307.3 489.6,305.8 485.8,304.2 482.1,302.6 478.4,300.8 474.8,299.0 471.1,297.2 467.5,295.4 463.8,293.6 460.2,291.8 456.5,290.1 452.7,288.5 448.9,286.9 445.1,285.3 441.2,283.8 437.3,282.3 433.4,280.9 429.5,279.5 425.6,278.0 421.7,276.5 417.9,274.9 414.2,273.2 410.9,271.0 407.6,268.6 404.4,266.2 401.3,263.8 398.2,261.3 395.1,258.7 392.0,256.2 388.9,253.6 385.9,251.0 382.8,248.5 379.7,245.9 376.6,243.4 373.5,240.9 370.4,238.4 367.3,235.8 364.3,233.2 361.2,230.6 358.1,228.1 355.1,225.5 351.9,223.0M548.2,357.7 545.0,355.3 541.9,352.8 538.8,350.3 535.8,347.7 532.9,344.9 530.1,342.1 527.2,339.3 524.4,336.4 521.6,333.6 518.7,330.8 515.7,328.2 512.6,325.7 509.3,323.4 506.0,321.2 502.5,319.2 499.0,317.3 495.4,315.5 491.7,313.8 488.1,312.0 484.5,310.2 481.0,308.3 477.5,306.3 474.1,304.3 470.7,302.1 467.3,300.0 464.0,297.8 460.8,295.5 457.5,293.2 454.3,290.9 451.1,288.5 448.0,286.1 444.9,283.6 441.8,281.1 438.8,278.5 435.8,275.9 432.8,273.2 429.8,270.6 426.8,268.0 423.8,265.4 420.7,262.9 417.6,260.5 414.4,258.1 411.1,255.8 407.8,253.6 404.4,251.5 401.1,249.3 397.8,247.1 394.5,244.9 391.2,242.7 388.0,240.3 384.8,237.9 381.7,235.5 378.5,233.0 375.5,230.5 372.4,228.0 369.3,225.5 366.2,223.0M489.7,335.6 487.0,332.5 484.4,329.3 481.8,326.2 479.2,323.1 476.5,320.1 473.7,317.1 470.8,314.3 468.0,311.5 465.1,308.7 462.3,305.8 459.6,302.8 456.9,299.7 454.3,296.5 451.8,293.3 449.2,290.1 446.6,286.9 444.0,283.8 441.5,280.5 438.9,277.3 436.3,274.1 433.8,271.0 431.2,267.7 428.7,264.4 426.2,261.1 423.8,257.7 421.4,254.4 418.9,251.1 416.3,247.8 413.6,244.8 410.9,241.8 408.1,238.9 405.2,236.1 402.3,233.3 399.4,230.6 396.4,228.0 393.3,225.5 390.2,223.0M535.7,340.1 532.4,337.9 529.1,335.5 525.9,333.2 522.7,330.8 519.5,328.5 516.3,326.1 513.1,323.8 509.8,321.5 506.6,319.2 503.3,316.9 500.1,314.5 497.0,312.1 493.9,309.5 490.9,306.9 488.0,304.2 485.1,301.4 482.2,298.6 479.4,295.8 476.5,293.0 473.6,290.2 470.7,287.4 467.8,284.6 465.0,281.8 462.4,278.7 459.8,275.4 457.3,272.1 454.9,268.8 452.5,265.3 450.0,262.0 447.5,258.7 444.9,255.5 442.3,252.4 439.5,249.4 436.7,246.6 433.7,243.9 430.7,241.3 427.7,238.7 424.7,236.1 421.7,233.4 418.7,230.8 415.7,228.1 412.7,225.5 409.6,223.0M503.7,329.8 501.1,326.5 498.5,323.4 495.9,320.3 493.1,317.3 490.3,314.4 487.4,311.7 484.4,309.0 481.4,306.4 478.4,303.8 475.3,301.3 472.2,298.8 469.1,296.4 465.9,293.9 462.9,291.4 459.8,288.8 456.8,286.1 453.9,283.4 451.1,280.6 448.4,277.5 445.8,274.3 443.2,271.2 440.6,268.0 438.1,264.7 435.6,261.4 433.0,258.2 430.4,255.0 427.8,251.9 425.1,248.8 422.4,245.8 419.6,243.0 416.6,240.3 413.6,237.7 410.5,235.2 407.4,232.7 404.2,230.3 401.0,227.9 397.9,225.5 394.7,223.0M492.3,311.6 490.1,307.9 488.0,304.1 485.9,300.3 483.8,296.4 481.7,292.6 479.6,288.7 477.5,284.9 475.4,281.1 473.3,277.3 471.1,273.6 468.9,269.9 466.6,266.3 464.2,262.8 461.7,259.5 459.2,256.3 456.4,253.4 453.5,250.6 450.5,248.0 447.5,245.3 444.6,242.6 441.7,239.8 438.9,236.8 436.2,233.9 433.4,231.0 430.5,228.2 427.5,225.5 424.4,223.0M510.9,319.1 507.9,316.4 504.9,313.8 501.8,311.3 498.7,308.8 495.6,306.2 492.5,303.7 489.4,301.3 486.3,298.7 483.2,296.2 480.2,293.6 477.2,290.9 474.2,288.3 471.2,285.6 468.3,282.9 465.4,280.1 462.4,277.4 459.5,274.6 456.6,271.9 453.5,269.4 450.4,266.9 447.2,264.5 444.0,262.2 440.7,259.8 437.5,257.5 434.2,255.2 431.0,252.9 427.8,250.5 424.6,248.2 421.4,245.8 418.2,243.4 415.0,241.0 411.9,238.5 408.8,236.0 405.7,233.4 402.7,230.8 399.7,228.2 396.7,225.6 393.6,223.0M503.5,308.2 501.3,304.4 499.1,300.8 496.8,297.2 494.4,293.7 492.1,290.2 490.0,286.3 487.9,282.5 485.9,278.5 483.8,274.6 481.8,270.6 479.7,266.8 477.5,263.1 475.2,259.5 472.8,256.0 470.4,252.6 467.9,249.3 465.4,245.9 462.9,242.7 460.2,239.5 457.6,236.4 454.8,233.5 451.8,230.8 448.8,228.1 445.8,225.5 442.7,223.0M532.2,349.7 529.5,346.5 527.0,343.3 524.5,340.0 522.0,336.6 519.6,333.1 517.3,329.6 514.9,326.1 512.6,322.5 510.3,318.9 508.0,315.3 505.7,311.7 503.4,308.1 501.1,304.6 498.7,301.1 496.4,297.6 494.0,294.1 491.6,290.6 489.2,287.2 486.8,283.7 484.4,280.3 482.0,276.9 479.5,273.5 476.7,270.6 473.9,267.7 471.0,264.9 468.1,262.1 465.1,259.4 462.1,256.8 459.0,254.2 455.8,251.9 452.6,249.5 449.4,247.2 446.1,244.8 442.9,242.5 439.7,240.1 436.5,237.7 433.3,235.3 430.2,232.9 427.0,230.4 423.8,228.0 420.7,225.5 417.6,223.0M541.1,277.7 538.4,274.6 535.7,271.5 533.0,268.5 530.2,265.5 527.3,262.7 524.4,260.0 521.4,257.4 518.3,254.8 515.2,252.2 512.2,249.6 509.2,246.9 506.4,244.1 503.6,241.1 500.8,238.2 498.0,235.2 495.2,232.3 492.3,229.5 489.4,226.7 487.2,223.0M550.6,318.3 547.8,315.4 545.1,312.4 542.4,309.2 539.8,306.1 537.3,302.8 534.7,299.6 532.1,296.5 529.4,293.4 526.6,290.4 523.8,287.5 520.9,284.7 518.1,281.8 515.3,278.9 512.5,276.0 509.6,273.2 506.7,270.4 503.8,267.6 500.9,264.8 498.0,262.1 495.0,259.4 492.0,256.8 489.0,254.1 486.0,251.4 483.1,248.6 480.3,245.8 477.4,242.9 474.6,240.0 471.6,237.4 468.4,235.0 465.1,232.7 461.9,230.4 458.6,228.0 455.5,225.5 452.4,223.0M547.5,368.3 545.4,364.4 543.2,360.6 541.1,356.8 539.0,353.0 537.0,349.0 535.0,344.9 533.2,340.6 531.5,336.2 529.9,331.7 528.4,327.1 526.9,322.4 525.4,317.8 523.9,313.1 522.3,308.5 520.8,303.9 519.6,298.9 518.3,293.9 517.0,289.0 515.6,284.2 514.1,279.5 512.6,274.9 510.9,270.4 509.2,266.1 507.4,261.9 505.4,257.8 503.4,253.8 501.4,249.8 499.3,246.0 497.1,242.2 494.9,238.5 492.5,235.0 490.0,231.7 487.3,228.6 484.5,225.7 481.5,223.0M538.3,295.1 535.1,292.7 531.9,290.3 528.6,288.0 525.4,285.7 522.2,283.3 519.0,280.9 515.9,278.4 512.7,276.0 509.6,273.5 506.4,271.1 503.1,268.9 499.7,266.7 496.3,264.6 492.9,262.5 489.6,260.3 486.3,258.0 483.1,255.6 480.0,253.1 476.9,250.5 473.9,247.9 471.0,245.2 467.9,242.6 464.7,240.2 461.5,237.9 458.3,235.5 455.1,233.1 451.9,230.6 448.9,228.1 445.8,225.5 442.7,223.0M529.8,334.1 527.8,330.2 525.7,326.4 523.5,322.6 521.2,319.0 518.9,315.4 516.6,311.8 514.3,308.3 512.0,304.7 509.7,301.2 507.3,297.7 505.0,294.2 502.5,290.8 500.1,287.4 497.6,284.1 494.9,281.1 492.1,278.1 489.4,275.1 486.8,272.0 484.1,268.9 481.5,265.7 479.0,262.4 476.6,259.0 474.2,255.6 471.8,252.2 469.4,248.7 466.9,245.4 464.2,242.3 461.4,239.4 458.6,236.5 455.7,233.7 452.8,231.0 449.8,228.3 446.9,225.6 443.8,223.0M527.8,375.4 524.5,373.2 521.1,371.1 517.7,368.9 514.3,366.7 511.0,364.5 507.8,362.2 504.5,359.8 501.4,357.4 498.3,354.9 495.2,352.3 492.2,349.6 489.3,346.9 486.4,344.1 483.5,341.3 480.6,338.5 477.7,335.7 474.8,332.9 471.9,330.1 469.0,327.3 466.2,324.5 463.3,321.7 460.4,318.9 457.6,316.0 454.7,313.2 451.8,310.3 449.0,307.5 446.2,304.6 443.4,301.7 440.6,298.7 437.8,295.8 435.0,292.9 432.2,290.0 429.3,287.1 426.5,284.3 423.6,281.5 420.7,278.7 417.8,275.9 414.9,273.1 412.0,270.3 409.0,267.6 406.1,264.9 403.1,262.2 400.2,259.5 397.2,256.8 394.2,254.1 391.3,251.4 388.3,248.7 385.3,246.1 382.3,243.4 379.2,240.8 376.2,238.2 373.1,235.7 370.0,233.1 367.0,230.6 363.9,228.0 360.8,225.5 357.6,223.0M515.8,350.7 513.3,347.3 510.8,343.9 508.2,340.7 505.6,337.6 502.8,334.7 499.9,331.8 497.0,329.0 494.0,326.4 491.0,323.7 487.9,321.2 484.8,318.7 481.5,316.4 478.3,314.1 475.0,311.8 471.7,309.5 468.4,307.3 465.1,305.0 461.9,302.6 458.8,300.1 455.7,297.4 452.8,294.7 449.9,292.0 447.0,289.1 444.1,286.3 441.3,283.4 438.5,280.5 435.6,277.6 432.8,274.7 430.1,271.7 427.4,268.7 424.6,265.6 421.8,262.7 418.9,259.9 415.9,257.3 412.1,255.7 408.1,254.4 404.0,253.2 399.8,252.1 395.6,251.0 391.4,249.9 387.4,248.7 383.4,247.3 379.6,245.8 375.8,244.1 372.1,242.4 368.5,240.6 364.8,238.8 361.2,237.0 357.6,235.0 354.2,232.9 351.0,230.6 347.8,228.1 344.7,225.6 341.7,223.0M551.6,316.1 548.3,313.7 545.1,311.4 541.8,309.1 538.6,306.8 535.3,304.4 532.1,302.1 528.7,299.9 525.4,297.6 522.1,295.4 518.8,293.1 515.6,290.8 512.4,288.4 509.2,286.0 506.0,283.6 502.8,281.2 499.5,278.8 496.2,276.6 492.8,274.5 489.3,272.5 485.7,270.6 482.1,268.8 478.4,267.0 474.8,265.2 471.3,263.2 467.9,261.1 464.5,258.9 461.2,256.6 457.9,254.3 454.6,252.1 451.3,249.9 448.0,247.6 444.7,245.3 441.4,243.0 438.2,240.7 435.0,238.2 431.9,235.7 428.8,233.1 425.8,230.6 422.7,228.0 419.6,225.5 416.4,223.0M507.5,343.6 504.4,341.1 501.2,338.7 498.0,336.3 494.8,334.0 491.6,331.7 488.3,329.4 485.0,327.1 481.8,324.7 478.7,322.3 475.6,319.8 472.5,317.2 469.4,314.7 466.3,312.2 463.1,309.8 459.8,307.6 456.4,305.5 452.9,303.5 449.3,301.7 445.6,299.9 441.9,298.2 438.2,296.5 434.5,294.8 430.8,293.1 427.1,291.4 423.3,289.8 419.5,288.2 415.7,286.7 411.8,285.3 407.8,283.9 403.9,282.5 399.9,281.2 395.9,279.8 392.1,278.4 388.3,276.8 384.6,275.0 381.4,272.7 378.3,270.1 375.3,267.5 372.3,264.9 369.2,262.3 366.1,259.8 363.0,257.4 359.9,254.8 356.9,252.2 353.9,249.5 350.9,246.8 348.0,244.1 345.2,241.2 342.3,238.4 339.4,235.6 336.5,232.9 333.4,230.4 330.3,227.9 327.1,225.4 324.0,223.0M523.8,282.2 521.1,279.1 518.4,276.1 515.7,273.0 513.0,269.9 510.3,266.9 507.7,263.8 505.0,260.7 502.4,257.5 499.9,254.3 497.4,250.9 495.0,247.6 492.5,244.1 490.1,240.8 487.6,237.5 485.0,234.3 482.3,231.2 479.5,228.3 476.6,225.6 473.5,223.0M544.1,340.5 542.2,336.3 540.4,332.1 538.5,328.0 536.5,323.9 534.5,320.0 532.4,316.1 530.3,312.3 528.1,308.6 525.9,304.8 523.7,301.1 521.5,297.4 519.2,293.8 517.0,290.1 514.7,286.5 512.4,282.9 509.8,279.7 507.2,276.5 504.6,273.3 501.9,270.2 499.3,267.2 496.6,264.1 493.9,261.0 491.2,257.9 488.6,254.8 486.0,251.6 483.4,248.4 480.8,245.1 478.2,242.0 475.6,238.9 472.8,236.0 469.8,233.3 466.8,230.7 463.7,228.1 460.6,225.6 457.5,223.0M562.8,309.0 558.6,308.0 554.3,307.0 550.1,306.1 545.8,305.1 541.5,304.2 537.1,303.3 532.8,302.5 528.5,301.6 524.2,300.7 519.9,299.8 515.6,298.9 511.3,298.0 507.0,297.0 502.7,296.1 498.5,295.1 494.3,294.0 490.1,292.9 486.0,291.7 482.0,290.4 478.0,289.1 474.0,287.8 470.0,286.4 466.1,285.0 462.1,283.7 458.3,282.1 454.4,280.7 450.5,279.2 446.5,277.9 442.5,276.6 438.5,275.3 434.4,274.1 430.4,272.7 426.5,271.3 422.6,269.8 418.9,268.2 415.2,266.4 411.7,264.4 408.3,262.3 405.0,260.1 401.7,257.8 398.5,255.5 395.3,253.1 392.1,250.7 388.9,248.2M539.4,336.2 536.6,333.3 533.8,330.4 531.0,327.5 528.2,324.6 525.5,321.6 522.7,318.8 519.9,315.9 517.0,313.0 514.2,310.2 511.3,307.4 508.5,304.6 505.6,301.7 502.8,299.0 499.9,296.2 497.0,293.4 494.1,290.7 491.1,288.0 488.2,285.3 485.3,282.5 482.4,279.8 479.5,277.0 476.7,274.1 473.9,271.2 471.1,268.3 468.3,265.5 465.5,262.6 462.6,259.8 459.7,257.0 456.8,254.4 453.7,251.8 450.7,249.2 447.7,246.6M538.5,342.1 535.3,339.7 532.2,337.2 529.2,334.6 526.2,331.8 523.4,329.0 520.6,326.0 518.0,322.9 515.5,319.6 513.0,316.3 510.6,312.8 508.2,309.3 505.9,305.8 503.5,302.3 501.1,298.8 498.7,295.4 496.3,292.0 493.8,288.7 491.3,285.4 488.7,282.2 486.2,279.0 483.5,275.8 480.9,272.7 478.3,269.6 475.6,266.5 472.9,263.4 470.2,260.4 467.5,257.4 464.7,254.5 461.8,251.6 458.8,249.1 455.6,246.6 452.5,244.2 449.2,241.8 445.9,239.6 442.6,237.4 439.3,235.2 436.0,232.9 432.8,230.5 429.7,228.1 426.6,225.6 423.5,223.0 420.5,220.3 417.6,217.6 414.7,214.8 411.8,212.0 408.9,209.3 406.0,206.5 403.1,203.7 400.1,201.0 397.2,198.3 394.2,195.6 391.3,192.9 388.3,190.2 385.3,187.5 382.3,184.9 379.3,182.3M503.2,334.4 500.4,331.5 497.5,328.6 494.6,325.8 491.7,323.1 488.7,320.4 485.7,317.8 482.6,315.2 479.5,312.6 476.5,310.1 473.4,307.5 470.3,305.0 467.1,302.5 464.0,300.1 460.8,297.7 457.6,295.3 454.4,292.9 451.2,290.4 448.1,288.0 445.0,285.4 442.0,282.8 439.0,280.1 436.1,277.4 433.2,274.6 430.3,271.7 427.5,268.8 424.7,265.9 421.8,263.0 419.0,260.1 416.2,257.3 413.0,254.8 409.8,252.5 406.5,250.1 403.3,247.8 399.9,245.6 396.6,243.4 393.2,241.3 389.7,239.3 386.1,237.4 382.5,235.5 378.8,233.8 375.1,232.1 371.4,230.4 367.7,228.6 364.2,226.7 360.7,224.6 357.4,222.4 354.1,220.1 350.9,217.7 347.8,215.2M520.1,356.0 517.2,353.2 514.3,350.5 511.4,347.7 508.5,345.0 505.6,342.3 502.6,339.6 499.7,336.9 496.8,334.2 494.0,331.4 491.1,328.5 488.3,325.6 485.6,322.7 482.8,319.8 480.0,316.9 477.3,313.9 474.6,310.9 471.9,307.9 469.1,305.0 466.3,302.1 463.6,299.2 460.8,296.2 458.1,293.3 455.4,290.3 452.6,287.3 449.9,284.3 447.2,281.4 444.3,278.5 441.5,275.8 438.5,273.1 435.5,270.5 432.5,267.9 429.5,265.2 426.5,262.6 423.5,260.1M496.6,309.4 493.6,306.8 490.5,304.2 487.5,301.5 484.5,298.9 481.5,296.3 478.4,293.7 475.3,291.2 472.1,288.7 468.9,286.3 465.7,284.0 462.4,281.7 459.2,279.3 456.0,277.0 452.7,274.6 449.5,272.2 446.2,269.9 442.4,268.3 438.6,266.8 434.6,265.4 430.7,264.0 426.7,262.7 422.7,261.4 418.7,260.0 414.7,258.6 410.8,257.2 407.0,255.6 403.3,253.9 399.6,252.2 395.9,250.4 392.3,248.6 388.7,246.6 385.2,244.6 381.9,242.5 378.6,240.2 375.4,237.8 372.2,235.3M492.9,297.4 490.0,294.7 486.9,292.1 483.8,289.7 480.5,287.4 477.1,285.3 473.7,283.1 470.4,281.0 467.1,278.7 463.9,276.3 460.8,273.9 457.7,271.4 454.6,268.8 451.6,266.2 448.5,263.8M521.9,326.1 520.8,320.9 519.7,315.8 518.5,310.8 517.1,306.0 515.6,301.4 514.0,296.9 512.3,292.6 510.4,288.4 508.5,284.4 506.4,280.5 504.2,276.8 501.9,273.3 499.4,270.0 496.8,266.9 493.9,264.1M534.9,342.2 532.4,338.8 530.1,335.3 527.7,331.8 525.4,328.3 523.1,324.8 520.6,321.4 518.1,318.2 515.5,315.0 512.8,312.0 510.1,309.0 507.4,305.9 504.8,302.9 502.1,299.9 499.3,296.9 496.5,294.0 493.7,291.2 490.7,288.5M543.8,366.6 540.6,364.2 537.3,361.9 534.0,359.7 530.6,357.5 527.2,355.4 523.8,353.3 520.4,351.1 517.0,349.0 513.5,347.0 510.1,344.9 506.6,342.9 503.1,340.9 499.5,339.0 496.0,337.0 492.5,335.0 489.0,333.0 485.7,330.8 482.4,328.4 479.3,325.9 476.4,323.2 473.6,320.3 470.9,317.2 468.2,314.0 465.6,310.8 463.0,307.7 460.2,304.8 457.3,302.0 454.2,299.4 451.1,296.9 447.8,294.6 444.5,292.4 441.1,290.3 437.7,288.2 434.2,286.1 430.9,283.9 427.5,281.7 424.3,279.4 421.0,277.1 417.7,274.8 414.4,272.6 411.1,270.3 407.8,268.0 404.6,265.6M509.1,277.0 506.2,274.2 503.3,271.5 500.3,268.8 497.3,266.2 494.3,263.6 491.2,261.1 488.1,258.5 485.1,256.0 482.0,253.5 479.0,250.9 475.9,248.4 472.9,245.8 469.8,243.3 466.5,241.0 463.2,238.8 459.9,236.6 456.5,234.5 453.0,232.5 449.6,230.5 446.1,228.6 442.6,226.6 439.0,224.7 435.5,222.7 432.1,220.7 428.6,218.7 425.1,216.7 421.6,214.8 417.8,213.2 414.0,211.6 410.3,210.1 406.5,208.5 402.7,206.9 398.9,205.3 395.1,203.7 391.4,202.1 387.7,200.4 384.1,198.6 380.5,196.8 377.0,194.8 373.6,192.7 370.3,190.5 367.0,188.2 363.8,185.9 360.6,183.6 357.4,181.2 354.2,178.8 351.1,176.4M519.6,304.3 516.2,302.2 512.8,300.2 509.4,298.1 506.0,296.0 502.7,293.8 499.4,291.6 496.3,289.1 493.3,286.6M551.7,359.2 548.7,356.5 545.8,353.8 542.9,351.0 540.1,348.1 537.3,345.2 534.5,342.3 531.7,339.4 529.0,336.4 526.3,333.5 523.6,330.4 520.9,327.3 518.4,324.1 515.9,320.8 513.4,317.5 511.0,314.0 508.7,310.5 506.4,306.9 504.1,303.4 501.8,299.8 499.5,296.3 497.1,292.8 494.8,289.3 492.5,285.8 490.1,282.3 487.8,278.8 485.4,275.3 483.0,271.8 480.7,268.3 478.4,264.7 476.2,261.1 474.0,257.4 471.8,253.7 469.6,250.0 467.3,246.4 464.9,243.1 462.2,239.9 459.5,237.0 456.6,234.2 453.7,231.5 450.7,228.9 447.6,226.4M482.6,331.4 479.0,329.5 475.5,327.6 472.2,325.5 468.9,323.2 465.8,320.7 462.8,318.1 459.8,315.4 456.8,312.7 453.9,310.1 450.9,307.4 447.8,304.9 444.7,302.4 441.6,299.9 438.5,297.4 435.4,294.9 432.3,292.4 429.3,289.8 426.3,287.2 423.3,284.5 420.4,281.8 417.4,279.1 414.4,276.5 411.2,274.1 408.0,271.8 404.7,269.5 401.4,267.3 398.1,265.1 394.8,262.9 391.5,260.6 388.3,258.2 385.2,255.8 382.0,253.3 378.9,250.9 375.7,248.5 372.5,246.2 369.2,243.9 366.0,241.6 362.8,239.2 359.6,236.8M489.3,333.8 486.1,331.5 482.8,329.2 479.5,326.9 476.3,324.5 473.1,322.1 470.0,319.6M547.7,355.5 545.1,352.3 542.5,349.0 540.0,345.7 537.5,342.5 534.9,339.2 532.3,336.0 529.7,332.9 527.0,329.8 524.3,326.8 521.5,323.8 518.7,320.8 516.0,317.9 513.2,314.9 510.4,311.9 507.7,308.9 505.0,305.9 502.3,302.8 499.6,299.7 496.9,296.7 494.3,293.6 491.6,290.5 488.8,287.5 486.1,284.5 483.3,281.6 480.5,278.7 477.6,275.8 474.8,273.0 471.9,270.2 469.0,267.4 466.1,264.6 463.2,261.7 460.4,258.9 457.5,256.1 454.5,253.4 451.5,250.7 448.5,248.1 445.5,245.5 442.4,242.9 439.3,240.4 436.2,238.0 433.0,235.6 429.8,233.2 426.5,230.8 423.3,228.5 420.1,226.1 416.9,223.7 413.7,221.4 410.5,219.0 407.3,216.5 404.2,214.0 401.2,211.4 398.1,208.8 395.1,206.2 392.0,203.6 389.0,201.1 385.9,198.5 382.7,196.1 379.6,193.6 376.4,191.2 373.2,188.8 370.0,186.4 366.9,183.9 363.8,181.3 360.8,178.8 357.7,176.2 354.6,173.7M554.1,333.6 550.5,331.6 547.0,329.6 543.5,327.7 540.0,325.8 536.4,323.9 532.7,322.1 529.0,320.4 525.2,318.8 521.4,317.2 517.5,315.7 513.7,314.2 509.9,312.6 506.1,311.0 502.4,309.2 499.1,307.0 496.0,304.6 492.9,302.0 490.0,299.2 487.1,296.4 484.4,293.4 481.6,290.4 478.9,287.4 476.1,284.5 473.2,281.6 470.3,278.8 467.4,276.1 464.4,273.5 461.3,270.9 458.3,268.3 455.3,265.6 452.3,263.0 449.2,260.4 446.2,257.8 443.1,255.2M499.4,302.6 496.3,300.0 493.2,297.6 490.0,295.2 486.9,292.8 483.8,290.3 480.7,287.7 477.8,284.9 475.0,282.1 472.3,279.0 469.7,275.9 467.1,272.8 464.4,269.7 461.7,266.7 458.9,263.8 456.0,261.0 452.9,258.5M514.8,333.5 512.0,330.6 509.1,327.8 506.2,325.0 503.3,322.2 500.5,319.3 497.7,316.5 494.8,313.6 492.1,310.6 489.4,307.6 486.7,304.5 484.2,301.2 481.7,297.9 479.2,294.5 476.8,291.1 474.4,287.7 472.0,284.3 469.5,281.0 466.9,277.7 464.3,274.6 461.5,271.6 458.7,268.7 455.9,265.9 452.9,263.2M548.3,367.7 545.2,365.2 542.1,362.7 539.1,360.1 536.1,357.4 533.1,354.8 530.1,352.0 527.2,349.3 524.2,346.6 521.2,343.9 518.2,341.3 515.1,338.8 512.0,336.2 508.9,333.7 505.8,331.2 502.8,328.6 499.8,326.0 496.8,323.2 493.9,320.5 491.0,317.7 488.0,314.9 485.1,312.2 482.1,309.5 479.2,306.8 476.2,304.1 473.2,301.4 470.3,298.6 467.5,295.7 464.8,292.7 462.2,289.5 459.7,286.2 457.2,282.8 454.8,279.4 452.4,275.9 450.0,272.5 447.5,269.2 444.8,266.1 442.2,262.9 439.5,259.9 436.8,256.8 434.1,253.8 431.4,250.7 428.6,247.8 425.8,244.8 422.9,242.0 420.0,239.2 417.0,236.6 413.9,234.1 410.7,231.7 407.5,229.3 404.4,226.7 401.5,224.0 398.6,221.2 395.8,218.3 393.1,215.2 390.4,212.1 387.8,208.9 385.2,205.7 382.6,202.6 379.9,199.5 377.2,196.4 374.4,193.5 371.6,190.6 368.7,187.8 365.9,184.9 363.0,182.2 360.0,179.4 357.0,176.7 354.0,174.2 350.9,171.6M536.5,301.4 533.5,298.9 530.3,296.4 527.2,294.0 524.0,291.7 520.8,289.3 517.6,287.0 514.4,284.6 511.3,282.2 508.2,279.6 505.3,276.9 502.4,274.1 499.6,271.4 496.7,268.6 493.7,265.9 490.7,263.3 487.8,260.7 484.8,258.1M548.0,345.7 545.5,342.3 542.9,339.2 540.3,336.0 537.8,332.8 535.3,329.5 532.7,326.3 530.2,323.1 527.6,320.0 525.0,316.9 522.3,313.8 519.6,310.8 517.0,307.7 514.4,304.5 511.9,301.2 509.5,297.9 507.0,294.6 504.5,291.3 501.8,288.3 499.1,285.3 496.2,282.5 493.3,279.9M502.0,326.8 498.8,324.5 495.5,322.2 492.3,319.9 489.0,317.6 485.7,315.4 482.4,313.2 479.1,311.0 475.8,308.8 472.6,306.4 469.7,303.7 466.8,300.9 464.1,297.9 461.4,294.9 458.8,291.8 456.2,288.6 453.6,285.4 451.1,282.2 448.5,279.0 445.9,275.8 443.2,272.9 440.3,270.1 437.3,267.4 434.3,264.9 431.2,262.4 428.1,259.9 425.0,257.4 421.9,254.9 418.9,252.4 415.8,249.8M484.5,318.7 482.1,315.3 479.8,311.7 477.5,308.1 475.2,304.5 472.9,300.8 470.6,297.2 468.3,293.7 465.8,290.3 463.2,287.1 460.5,284.0 457.7,281.2 454.6,278.6 451.4,276.1 448.1,273.9 444.6,272.0 440.9,270.2 437.2,268.4 433.5,266.8 429.8,265.1 426.0,263.3 422.4,261.5 418.8,259.7 415.3,257.7 411.8,255.7 408.4,253.5 405.0,251.4 401.7,249.1 398.9,246.2 396.2,243.1 393.6,240.0 391.0,236.8 388.5,233.4 386.0,230.1 383.6,226.6 381.3,223.1 378.9,219.5 376.7,215.9 374.4,212.2 372.1,208.6 369.7,205.1 367.2,201.8 364.6,198.7 361.8,195.7 358.9,192.9 355.9,190.2 352.9,187.6 349.8,185.0M506.3,324.3 503.1,322.0 499.8,319.7 496.4,317.5 493.1,315.3 489.7,313.2 486.2,311.1 482.7,309.2 479.2,307.2 475.6,305.3 472.1,303.4 468.6,301.5 465.1,299.4 461.8,297.1 458.6,294.7 455.6,292.1 452.7,289.4 449.8,286.6 446.9,283.8 444.0,281.0 441.0,278.4 437.8,275.9 434.6,273.5 431.4,271.2 428.1,268.9 424.9,266.5 421.7,264.1 418.7,261.5 415.6,258.9 412.6,256.3 409.6,253.6 406.5,251.1 403.4,248.7 400.1,246.4 396.8,244.1 393.5,241.8 390.3,239.5 387.1,237.1 384.0,234.6M485.8,320.8 482.5,318.6 479.1,316.4 475.8,314.2 472.6,311.8 469.5,309.3 466.6,306.6 463.8,303.7 461.2,300.6 458.6,297.5 456.0,294.3 453.4,291.1 450.7,288.0 448.0,285.0 445.3,282.0 442.5,279.1 439.6,276.4 436.7,273.6 433.7,271.0 430.7,268.4 427.6,265.8 424.5,263.4 421.3,261.0 418.0,258.7 414.8,256.4 411.5,254.1 408.4,251.7 405.3,249.2 402.3,246.6 399.3,243.9 396.4,241.2 393.4,238.5 390.5,235.8 387.6,233.0 384.6,230.3 381.7,227.6 378.8,224.8 376.0,222.0 373.1,219.2 370.2,216.4 367.3,213.7 364.2,211.2 361.0,208.8 357.7,206.6 354.3,204.5 350.9,202.3 347.6,200.2 344.3,197.9 341.1,195.5 338.0,193.1 334.9,190.6M521.0,327.2 518.6,323.7 516.2,320.3 513.7,317.0 511.2,313.7 508.7,310.4 506.0,307.3 503.5,304.1 501.0,300.8 498.7,297.3 496.4,293.7 494.2,290.0 492.1,286.2 489.9,282.5 487.6,278.9 485.2,275.4 482.8,272.1 480.3,268.8 477.7,265.7 475.1,262.5 472.5,259.3 469.9,256.1 467.3,253.0 464.7,249.9 461.8,247.0 458.8,244.4M550.9,323.8 546.9,322.6 542.9,321.2 539.0,319.8 535.1,318.3 531.2,316.9 527.3,315.4 523.5,313.8 519.6,312.3 515.8,310.7 512.0,309.1 508.3,307.4 504.6,305.7 500.9,303.9 497.4,302.0 493.9,299.9 490.6,297.7 487.3,295.4 484.0,293.1 480.8,290.7 477.7,288.3 474.6,285.7M499.7,332.7 496.8,330.1 493.8,327.3 491.0,324.4 488.1,321.6 485.2,318.8 482.3,316.1 479.2,313.5 476.1,311.0M517.6,316.8 514.5,314.2 511.4,311.7 508.4,309.1 505.4,306.4 502.5,303.7 499.5,300.9 496.7,298.2 493.8,295.4 490.9,292.6 488.0,289.8 485.0,287.1 482.0,284.5 478.9,282.0 475.8,279.4 472.7,276.9 469.7,274.3 466.7,271.7 463.7,269.0 460.7,266.3 457.8,263.6 454.8,261.0 451.7,258.5 448.6,256.0 445.5,253.4M499.4,295.6 497.0,292.3 494.4,289.0 491.9,285.8 489.3,282.7 486.6,279.6 483.9,276.5 481.2,273.4 478.5,270.4 475.8,267.4 473.1,264.4 470.2,261.6 467.3,258.8 464.3,256.2 461.2,253.7 458.0,251.4 454.7,249.1 451.5,246.7 448.4,244.3 445.3,241.7M516.4,311.6 513.9,308.3 511.4,305.0 508.9,301.6 506.4,298.3 503.9,294.9 501.4,291.7 498.9,288.4 496.3,285.2 493.6,282.1 490.8,279.2 487.9,276.5 484.9,273.8 481.9,271.1 478.9,268.5 475.8,265.9 472.8,263.4 469.8,260.8 466.7,258.2 463.7,255.5 460.7,252.9 457.6,250.4 454.4,248.0 451.3,245.5 448.1,243.1 445.0,240.6 441.9,238.1 438.8,235.5 435.8,233.0 432.7,230.4M519.5,322.6 516.1,320.6 512.6,318.5 509.2,316.4 505.8,314.4 502.3,312.4 498.8,310.5 495.2,308.6 491.7,306.7 488.2,304.7 484.9,302.6 481.6,300.3 478.4,297.9 475.4,295.3 472.4,292.7 469.5,289.9 466.6,287.2 463.6,284.5 460.7,281.8 457.7,279.1 454.7,276.5 451.7,273.8 448.8,271.1 445.8,268.5 442.9,265.8 440.0,263.0 437.0,260.3 434.1,257.7 431.0,255.1M540.9,320.5 538.2,317.4 535.6,314.4 532.9,311.3 530.3,308.2 527.6,305.1 525.0,302.0 522.3,298.9 519.7,295.8 517.1,292.7 514.4,289.6 511.7,286.5 509.0,283.5 506.3,280.5 503.5,277.6 500.8,274.6 497.9,271.8 495.1,269.0 492.2,266.2 489.3,263.4 486.4,260.7 483.5,257.9 480.6,255.2 477.6,252.5 474.7,249.8 471.8,247.0 468.9,244.3 465.8,241.7 462.8,239.2 459.7,236.7 456.5,234.2 453.4,231.8 450.2,229.4 447.0,227.1 443.8,224.8 440.5,222.5 437.2,220.3 433.8,218.2 430.5,216.0 427.2,213.8 423.9,211.5 420.7,209.1 417.6,206.7 414.5,204.2 411.4,201.6 408.5,199.0 405.6,196.2 402.7,193.4 399.8,190.6 397.0,187.8 394.1,185.0 391.2,182.3 388.2,179.6 385.2,177.1 382.1,174.5 379.0,172.0 375.8,169.6M521.9,320.0 518.7,317.7 515.5,315.3 512.4,312.8 509.4,310.3 506.4,307.6 503.5,304.8 500.6,302.1 497.7,299.4 494.7,296.7 491.7,294.1 488.7,291.5 485.6,289.0 482.6,286.4M556.9,357.9 554.3,354.8 551.7,351.6 549.1,348.4 546.6,345.1 544.1,341.9 541.7,338.4 539.3,335.0 536.9,331.5 534.5,328.0 532.1,324.6 529.7,321.1 527.3,317.7 524.8,314.4 522.3,311.2 519.7,308.0 517.0,304.9 514.3,301.9 511.5,299.0 508.7,296.1 505.9,293.2 503.0,290.4 500.1,287.6 497.2,284.8 494.3,282.1 491.4,279.4"/>
<path class="dg" d="M678.1,335.4C678.8,335.6 680.9,336.1 682.6,336.6C684.4,337.1 686.5,337.9 688.4,338.3C690.3,338.7 692.1,338.8 694.1,338.9C696.0,338.9 699.0,338.6 700.0,338.5M609.6,346.9C609.9,347.1 610.5,347.8 611.3,348.6C612.1,349.3 613.1,350.5 614.2,351.4C615.2,352.4 616.4,353.3 617.6,354.3C618.7,355.2 619.7,356.0 621.0,357.1C622.3,358.3 624.8,360.4 625.6,361.0M721.6,438.0C721.3,436.9 720.6,433.5 719.9,431.3C719.2,429.0 718.4,426.7 717.6,424.4C716.9,422.1 716.1,419.9 715.3,417.6C714.6,415.3 713.9,413.0 713.1,410.7C712.2,408.4 711.2,406.2 710.2,403.9C709.3,401.6 708.3,399.3 707.4,397.0C706.4,394.7 705.4,392.1 704.5,390.2C703.5,388.3 702.7,387.1 701.6,385.6C700.6,384.1 699.3,382.6 698.2,381.1C697.2,379.5 696.2,378.2 695.4,376.5C694.5,374.8 693.7,372.7 693.1,370.8C692.5,368.9 692.3,367.0 691.9,365.1C691.6,363.2 691.4,361.3 691.1,359.4C690.9,357.5 690.4,355.6 690.2,353.7C690.1,351.8 689.9,349.7 690.2,347.9C690.5,346.2 691.2,344.7 691.9,343.4C692.7,342.0 693.8,340.8 694.8,340.0C695.7,339.1 696.8,338.7 697.6,338.2C698.5,337.8 700.2,337.4 699.9,337.4C699.6,337.5 697.4,338.4 695.9,338.6C694.5,338.8 692.9,339.0 691.4,338.8C689.8,338.7 688.3,338.1 686.8,337.7C685.3,337.2 683.7,336.4 682.2,336.0C680.8,335.5 678.9,335.0 678.2,334.8M815.3,531.0C814.1,530.0 811.4,527.3 808.4,524.7C805.4,522.2 800.4,518.3 797.0,515.6C793.6,513.0 789.9,510.7 787.9,508.8C785.8,506.9 785.6,505.7 784.4,504.2C783.3,502.7 782.1,500.9 781.0,499.6C779.9,498.4 779.1,497.6 777.6,496.8C776.1,495.9 774.0,495.2 771.9,494.5C769.8,493.8 766.7,493.4 765.0,492.8C763.3,492.2 762.7,492.2 761.6,491.1C760.5,489.9 759.5,487.9 758.2,485.9C756.8,483.9 755.1,481.2 753.6,479.1C752.1,477.0 750.6,475.1 749.0,473.4C747.5,471.7 746.0,470.2 744.5,468.8C743.0,467.4 741.6,466.1 739.9,464.8C738.2,463.5 736.1,462.2 734.2,460.8C732.3,459.5 729.5,458.2 728.5,456.8C727.4,455.5 728.2,454.4 727.9,452.8C727.6,451.2 727.3,448.8 726.8,447.1C726.3,445.4 725.8,443.9 725.1,442.6C724.3,441.2 723.1,440.5 722.2,439.1C721.4,437.8 720.5,436.1 719.9,434.6C719.4,433.0 719.0,430.8 718.8,430.0M815.3,531.0C813.2,530.7 806.7,530.0 802.7,529.3C798.7,528.6 795.1,527.2 791.3,527.0C787.5,526.8 783.7,527.5 779.9,528.2C776.1,528.8 772.1,530.1 768.4,531.0C764.8,532.0 761.0,533.4 758.2,533.9C755.3,534.4 753.5,534.0 751.3,534.1C749.1,534.2 746.6,534.9 745.0,534.5C743.5,534.0 743.2,532.5 742.2,531.6C741.1,530.7 740.1,529.9 738.8,529.3C737.4,528.7 735.7,528.5 734.2,528.2C732.7,527.9 731.0,528.1 729.6,527.6C728.3,527.1 727.5,526.4 726.2,525.3C724.9,524.3 723.2,522.6 721.6,521.3C720.1,520.1 718.8,519.0 717.1,517.9C715.4,516.8 713.3,515.5 711.4,514.5C709.5,513.4 707.6,512.5 705.7,511.6C703.8,510.8 701.9,509.9 700.0,509.3C698.1,508.8 696.1,508.7 694.2,508.2C692.3,507.7 690.4,507.1 688.5,506.5C686.6,505.9 684.7,505.3 682.8,504.8C680.9,504.2 679.0,503.5 677.1,503.1C675.2,502.6 673.3,502.2 671.4,501.9C669.5,501.6 667.6,501.6 665.7,501.3C663.8,501.1 661.0,500.4 660.0,500.2M720.0,519.0C718.1,517.9 712.2,514.0 708.4,512.1C704.5,510.2 700.7,508.9 696.9,507.6C693.1,506.2 689.3,505.2 685.5,504.2C681.7,503.1 677.9,502.3 674.1,501.3C670.3,500.4 666.5,499.5 662.7,498.4C658.9,497.4 655.1,496.4 651.3,495.0C647.5,493.7 643.7,492.2 639.9,490.5C636.1,488.7 632.3,486.8 628.4,484.7C624.6,482.7 620.8,480.0 617.0,477.9C613.2,475.8 609.2,473.4 605.6,472.2C602.0,471.0 597.1,470.8 595.3,470.5M671.8,502.4C670.3,502.3 666.1,502.3 662.7,501.9C659.3,501.4 655.1,500.5 651.3,499.6C647.5,498.6 643.1,497.5 639.9,496.2C636.6,494.8 634.3,493.3 631.9,491.6C629.4,489.9 626.7,487.8 625.0,485.9C623.3,484.0 622.5,482.3 621.6,480.2C620.6,478.1 620.3,475.6 619.3,473.3C618.4,471.1 617.2,469.0 615.9,466.5C614.6,464.0 612.8,461.0 611.3,458.5C609.8,456.0 608.3,453.9 606.8,451.6C605.2,449.4 603.7,446.9 602.2,444.8C600.7,442.7 599.1,441.0 597.6,439.1C596.1,437.2 594.6,435.3 593.1,433.4C591.5,431.5 590.0,429.4 588.5,427.7C587.0,426.0 585.4,424.6 583.9,423.1C582.4,421.6 581.1,420.1 579.4,418.5C577.6,417.0 575.6,415.5 573.7,414.0C571.8,412.5 569.8,410.9 567.9,409.4C566.0,407.9 564.1,406.6 562.2,404.8C560.3,403.1 558.2,401.0 556.5,399.1C554.8,397.2 553.3,394.9 552.0,393.4C550.6,391.9 549.1,390.6 548.5,390.0M668.4,500.7C666.5,500.2 660.8,498.6 657.0,497.3C653.2,496.0 649.4,494.5 645.6,492.7C641.8,491.0 638.0,489.1 634.2,487.0C630.4,484.9 625.6,482.5 622.7,480.2C619.9,477.9 618.4,475.8 617.0,473.3C615.7,470.9 615.1,466.7 614.7,465.3M671.8,499.6C669.9,498.4 664.2,495.0 660.4,492.7C656.6,490.5 652.8,488.2 649.0,485.9C645.2,483.6 641.4,481.3 637.6,479.0C633.8,476.8 629.6,474.7 626.2,472.2C622.7,469.7 619.7,466.9 617.0,464.2C614.4,461.5 612.3,458.9 610.2,456.2C608.1,453.5 606.4,450.7 604.5,448.2C602.6,445.7 600.7,443.5 598.8,441.4C596.9,439.3 595.0,437.6 593.1,435.7C591.2,433.8 589.3,431.8 587.4,430.0C585.4,428.1 583.4,425.8 581.6,424.8C579.9,423.9 577.8,424.3 577.1,424.2M662.7,497.3C660.8,496.2 655.1,492.9 651.3,490.5C647.5,488.0 643.7,485.1 639.9,482.5C636.1,479.8 631.7,476.9 628.4,474.5C625.2,472.0 622.9,469.9 620.5,467.6C618.0,465.3 615.7,463.1 613.6,460.8C611.5,458.5 609.8,456.2 607.9,453.9C606.0,451.6 604.3,449.4 602.2,447.1C600.1,444.8 597.6,442.3 595.3,440.2C593.1,438.1 590.8,436.6 588.5,434.5C586.2,432.4 582.8,428.8 581.6,427.7M720.0,511.0C718.1,510.2 712.2,507.8 708.4,506.4C704.5,505.1 700.7,504.1 696.9,503.0C693.1,502.0 688.8,500.9 685.5,500.2C682.3,499.4 680.4,499.1 677.5,498.4C674.7,497.8 671.8,497.5 668.4,496.2C665.0,494.8 660.8,492.5 657.0,490.5C653.2,488.4 649.4,486.1 645.6,483.6C641.8,481.1 637.6,478.1 634.2,475.6C630.7,473.1 627.7,471.1 625.0,468.8C622.4,466.5 619.3,463.1 618.2,461.9M527.4,363.3C528.5,365.0 532.1,370.4 534.2,373.6C536.3,376.8 538.0,380.0 539.9,382.7C541.8,385.5 544.7,388.8 545.6,390.0M815.3,531.0 811.6,529.3 808.0,527.5 804.3,525.8 800.6,524.1 796.8,522.5 793.1,520.9 789.3,519.3 785.5,517.7 781.7,516.1 778.0,514.4 774.2,512.9 770.4,511.3 766.7,509.6 763.0,507.9 759.3,506.2 755.5,504.5 751.7,503.0 747.8,501.5 743.9,500.1 740.0,498.7 736.1,497.3 732.1,495.9 728.2,494.5 724.3,493.1 720.4,491.6 716.5,490.2 712.6,488.8 708.6,487.5 705.0,485.7 701.4,483.8 697.9,481.8 694.5,479.7 691.2,477.6 687.8,475.3 684.6,473.1 681.3,470.7 678.1,468.4 674.9,466.1 671.8,463.6 668.6,461.2 665.4,458.8 662.1,456.5 658.9,454.2 655.7,451.9 652.5,449.5 649.4,447.0 646.3,444.4 643.3,441.8 640.3,439.2 637.3,436.6 634.3,434.0 631.3,431.3 628.3,428.7 625.3,426.0 622.4,423.3 619.4,420.6 616.5,417.9 613.6,415.1 610.6,412.4 607.6,409.8 604.6,407.2 601.5,404.7 598.4,402.2 595.2,399.8 592.1,397.3 589.0,394.8 586.0,392.2 583.1,389.5 580.2,386.6 577.5,383.7 574.7,380.7 572.0,377.7 569.2,374.7 566.4,371.8 563.6,369.0 560.6,366.3 557.6,363.6 554.6,361.1 551.5,358.6 548.4,356.1 545.2,353.7 542.0,351.3 538.8,348.9 535.5,346.7 532.2,344.5 528.8,342.4 525.4,340.3 521.9,338.2 518.5,336.2 515.1,334.1 511.7,332.0 508.3,329.9 504.9,327.7 501.5,325.7 498.0,323.7M815.3,531.0 811.7,529.2 808.1,527.4 804.5,525.5 801.0,523.5 797.5,521.6 794.0,519.6 790.5,517.6 787.0,515.7 783.4,513.7 779.9,511.8 776.2,510.1 772.5,508.4 768.8,506.7 765.1,505.0 761.4,503.3 757.6,501.6 753.9,500.0 750.0,498.5 746.2,497.0 742.3,495.5 738.4,494.1 734.5,492.6 730.7,491.1 726.9,489.5 723.2,487.8 719.6,486.0 716.0,484.1 712.5,482.1 709.3,479.7 706.2,477.3 703.0,474.9 699.8,472.5 696.5,470.3 693.1,468.1 689.7,466.1 686.2,464.1 682.7,462.1 679.1,460.2 675.7,458.2 672.2,456.2 668.6,454.3 665.1,452.3 661.6,450.4 658.1,448.4 654.6,446.4 651.2,444.3 647.8,442.2 644.5,439.9 641.3,437.6 638.1,435.2 635.1,432.6 632.2,429.9 629.4,427.0 626.7,423.9 624.1,420.7 621.6,417.4 619.1,414.0 616.7,410.6 614.3,407.1 611.9,403.7 609.4,400.4 606.9,397.2 604.2,394.1 601.5,391.1 598.6,388.3 595.6,385.6 592.6,382.9 589.6,380.4 586.4,377.9 583.3,375.5 580.2,373.0 577.0,370.6 573.8,368.2 570.7,365.7 567.5,363.3 564.4,360.9 561.2,358.4 558.1,355.9 555.1,353.3 552.1,350.6 549.2,347.9 546.3,345.1 543.5,342.2M815.3,531.0 812.0,528.7 808.7,526.5 805.4,524.2 802.1,522.0 798.8,519.7 795.5,517.5 792.2,515.2 788.8,513.0 785.5,510.7 782.2,508.5 779.0,506.2 775.7,503.9 772.5,501.4 769.4,498.9 766.3,496.4 763.3,493.8 760.2,491.3 757.0,488.8 753.8,486.4 750.6,484.1 747.3,481.8 743.9,479.7 740.5,477.6 737.0,475.5 733.5,473.5 730.1,471.5 726.6,469.5 723.1,467.5 719.7,465.3 716.4,463.1 713.1,460.7 710.0,458.3 706.9,455.7 703.9,453.1 700.9,450.4 698.2,447.4 695.5,444.3 692.9,441.1 690.3,438.0 687.6,434.8 684.9,431.8 682.2,428.7 679.4,425.8 676.6,422.8 673.8,420.0 670.9,417.1 668.1,414.2 665.2,411.4 662.4,408.5 659.6,405.6 656.7,402.8 653.8,399.9 651.0,397.1 648.1,394.2 645.3,391.3 642.5,388.5 639.6,385.7 636.6,382.9 633.7,380.2 630.7,377.6 627.6,375.0 624.5,372.5 621.4,370.0 618.2,367.5 615.1,365.0 611.9,362.6 608.8,360.1 605.7,357.6 602.5,355.1 599.4,352.6 596.3,350.1 593.2,347.6 590.0,345.2 586.8,342.8 583.5,340.5 580.2,338.2 576.8,336.1 573.4,334.0 569.8,332.1 566.2,330.3 562.5,328.6M815.3,531.0 811.6,529.3 807.9,527.6 804.2,525.9 800.5,524.2 796.8,522.5 793.1,520.9 789.4,519.2 785.7,517.5 782.0,515.9 778.2,514.2 774.4,512.7 770.5,511.2 766.7,509.7 762.9,508.1 759.2,506.5 755.4,504.9 751.7,503.2 748.1,501.5 744.4,499.7 740.8,497.9 737.3,496.0 733.8,494.0 730.4,492.0 727.1,489.8 723.8,487.6 720.5,485.3 717.3,483.0 714.0,480.7 710.9,478.2 707.8,475.7 704.6,473.4 701.2,471.3 697.7,469.3 694.1,467.5 690.4,465.9 686.6,464.3 682.8,462.8 678.9,461.3 675.3,459.6 671.6,457.9 668.0,456.1 664.4,454.2 660.8,452.3 657.4,450.3 654.0,448.2 650.7,446.0 647.4,443.8 644.2,441.4 641.2,438.9 638.2,436.2 635.3,433.5 632.5,430.5 629.9,427.5 627.3,424.2 624.8,420.9 622.5,417.5 620.1,414.0 617.7,410.5 615.4,407.1 612.9,403.8 610.3,400.6 607.6,397.6 604.7,394.9 601.6,392.3 598.4,389.9 595.1,387.7 591.7,385.6 588.3,383.6 584.8,381.6 581.4,379.6 577.9,377.6 574.5,375.5 571.2,373.3 567.8,371.2 564.5,369.0 561.2,366.7 557.9,364.5 554.7,362.3 551.4,360.0 548.2,357.7M815.3,531.0 811.3,529.7 807.3,528.4 803.3,527.2 799.2,525.9 795.2,524.7 791.2,523.3 787.3,522.0 783.4,520.6 779.4,519.2 775.5,517.8 771.3,516.8 767.0,515.9 762.5,515.2 758.1,514.5 753.6,513.9 749.1,513.3 744.6,512.5 740.4,511.6 736.1,510.7 731.8,509.8 727.5,508.9 723.2,508.0 718.9,507.1 714.5,506.3 710.2,505.4 705.9,504.5 701.6,503.6 697.4,502.6 693.7,500.9 690.1,499.1 686.4,497.4 682.7,495.7 679.0,494.1 675.1,492.6 671.4,490.9 667.9,488.9 664.5,486.8 661.3,484.5 658.5,481.6 655.8,478.6 653.0,475.6 650.3,472.6 647.5,469.7 644.6,467.0 641.7,464.3 638.6,461.7 635.6,459.1 632.5,456.6 629.5,454.0 626.4,451.5 623.5,448.8 620.5,446.1 617.5,443.5 614.3,441.1 611.1,438.8 607.7,436.7 604.1,434.8 600.5,433.0 596.9,431.2 593.3,429.3 589.8,427.4 586.4,425.3 583.0,423.1 579.8,420.9 576.5,418.6 573.3,416.3 570.0,414.0 566.7,411.8 563.4,409.5 560.1,407.3 556.8,405.1 553.6,402.8 550.4,400.3 547.4,397.8 544.3,395.2 541.3,392.6 538.4,389.9 535.4,387.2 532.5,384.5 529.6,381.7 526.8,378.8 524.1,375.8 521.5,372.7 519.0,369.4 516.5,366.1 514.0,362.8 511.5,359.5 508.9,356.3 506.3,353.2 503.5,350.2 500.7,347.3 497.9,344.5 495.1,341.6 492.4,338.6 489.7,335.6M815.3,531.0 811.6,529.3 807.9,527.6 804.2,525.9 800.6,524.1 796.9,522.4 793.3,520.6 789.7,518.7 786.1,516.8 782.6,515.0 779.0,513.1 775.3,511.4 771.5,509.8 767.7,508.2 763.9,506.7 760.0,505.2 756.1,503.8 752.3,502.3 748.4,500.8 744.7,499.2 740.9,497.5 737.2,495.9 733.4,494.2 729.7,492.6 725.9,491.1 722.0,489.6 718.0,488.4 713.9,487.2 709.7,486.1 705.8,484.6 702.0,483.1 698.2,481.5 694.5,479.8 690.9,478.0 687.3,476.2 683.7,474.3 680.2,472.4 676.7,470.4 673.2,468.4 669.9,466.2 666.5,464.1 663.1,462.0 659.7,459.9 656.4,457.7 653.1,455.4 650.0,452.9 647.0,450.3 644.1,447.5 641.4,444.6 638.6,441.6 635.9,438.5 633.3,435.5 630.5,432.5 627.8,429.5 624.9,426.7 622.1,423.9 619.2,421.1 616.3,418.3 613.5,415.3 610.8,412.3 608.2,409.2 605.6,406.0 603.1,402.8 600.5,399.5 598.0,396.3 595.4,393.1 592.7,390.1 589.9,387.1 587.1,384.2 584.3,381.4 581.4,378.6 578.5,375.8 575.7,373.0 572.8,370.1 570.0,367.2 567.2,364.4 564.4,361.5 561.4,358.8 558.5,356.1 555.4,353.6 552.2,351.2 549.0,348.9 545.6,346.7 542.3,344.5 539.0,342.3 535.7,340.1M815.3,531.0 811.4,529.5 807.6,528.0 803.7,526.6 799.8,525.1 795.9,523.7 792.0,522.3 788.0,520.9 784.1,519.5 780.2,518.2 776.2,516.8 772.1,515.6 768.0,514.5 764.0,513.3 759.9,512.0 755.9,510.8 751.9,509.4 747.9,508.1 744.0,506.7 740.0,505.3 736.1,503.9 732.2,502.5 728.3,501.1 724.5,499.6 720.6,498.1 716.7,496.7 712.8,495.3 708.8,493.9 704.9,492.6 701.2,490.8 697.6,489.0 693.9,487.3 690.1,485.7 686.3,484.2 682.4,482.7 678.5,481.3 674.6,479.9 670.6,478.5 666.8,477.0 663.2,475.2 659.6,473.4 656.0,471.5 652.4,469.6 648.9,467.7 645.5,465.7 642.0,463.6 638.7,461.4 635.4,459.2 632.2,456.8 629.1,454.4 626.0,451.8 623.1,449.1 620.2,446.2 617.5,443.3 614.7,440.3 612.0,437.3 609.4,434.2 606.8,431.1 604.1,427.9 601.5,424.8 598.8,421.7 596.1,418.7 593.4,415.7 590.6,412.8 587.8,409.9 584.9,407.2 581.9,404.5 578.9,402.0 575.7,399.5 572.5,397.1 569.3,394.8 566.0,392.6 562.6,390.4 559.3,388.3 555.9,386.1 552.6,383.9 549.3,381.6 546.1,379.3 542.9,376.9 539.8,374.4 536.8,371.8 533.9,369.0 531.1,366.2 528.4,363.2 525.7,360.1 523.1,356.9 520.6,353.6 518.2,350.2 515.8,346.8 513.4,343.4 511.0,339.9 508.6,336.5 506.1,333.1 503.7,329.8M815.3,531.0 811.5,529.5 807.6,528.0 803.7,526.5 799.9,525.0 796.0,523.6 792.1,522.1 788.3,520.6 784.4,519.1 780.7,517.5 776.9,515.9 773.0,514.4 769.2,512.9 765.3,511.4 761.5,509.8 757.7,508.2 754.0,506.6 750.2,505.1 746.4,503.5 742.6,501.9 738.8,500.4 734.9,498.9 731.0,497.4 727.1,496.0 723.2,494.6 719.2,493.3 715.2,492.0 711.1,490.9 706.9,489.8 703.0,488.4 699.1,487.0 695.0,485.7 691.0,484.5 686.8,483.4 682.7,482.2 678.6,481.1 674.7,479.7 670.8,478.2 667.2,476.4 663.9,474.1 660.7,471.8 657.6,469.3 654.5,466.8 651.4,464.4 648.2,462.0 645.0,459.6 641.7,457.3 638.5,455.0 635.3,452.6 632.1,450.2 629.0,447.7 626.0,445.1 623.0,442.4 620.1,439.7 617.1,437.1 614.0,434.6 610.8,432.2 607.5,429.9 604.2,427.8 600.8,425.7 597.4,423.5 594.1,421.3 590.9,418.9 587.9,416.3 585.0,413.6 582.2,410.7 579.5,407.6 576.9,404.5 574.3,401.3 571.7,398.1 569.0,395.0 566.4,391.9 563.7,388.8 561.1,385.8 558.4,382.7 555.8,379.5 553.3,376.3 550.7,373.0 548.2,369.8 545.6,366.6 543.0,363.4 540.3,360.4 537.5,357.5 534.6,354.8 531.6,352.1 528.5,349.6 525.4,347.1 522.3,344.6 519.2,342.1 516.1,339.5 513.1,336.9 510.2,334.2 507.3,331.4 504.6,328.4 501.9,325.3 499.4,322.1 496.9,318.7 494.6,315.2 492.3,311.6M815.3,531.0 811.5,529.4 807.8,527.8 804.0,526.2 800.1,524.7 796.3,523.1 792.5,521.6 788.7,520.0 785.0,518.3 781.3,516.6 777.6,514.8 773.8,513.2 770.1,511.6 766.3,510.0 762.5,508.4 758.7,506.8 754.8,505.4 750.9,504.0 747.0,502.5 743.1,501.0 739.3,499.5 735.5,497.9 731.8,496.1 728.2,494.3 724.7,492.4 721.1,490.5 717.5,488.7 713.9,486.9 710.1,485.2 706.6,483.3 703.0,481.5 699.2,479.8 695.5,478.2 691.6,476.7 687.7,475.2 683.8,473.8 680.0,472.2 676.2,470.6 672.6,468.8 669.2,466.8 665.8,464.7 662.4,462.5 659.1,460.3 655.8,458.1 652.5,455.8 649.3,453.3 646.3,450.8 643.3,448.1 640.5,445.2 637.8,442.2 635.2,439.0 632.7,435.7 630.3,432.2 627.9,428.7 625.6,425.3 623.1,421.9 620.6,418.6 617.9,415.5 615.1,412.6 612.1,409.9 609.0,407.4 605.8,405.1 602.5,402.9 599.1,400.7 595.7,398.7 592.2,396.7 588.7,394.7 585.2,392.7 581.7,390.7 578.3,388.7 574.8,386.6 571.5,384.4 568.2,382.2 564.9,379.9 561.8,377.4 558.8,374.8 555.8,372.1 553.0,369.2 550.3,366.2 547.7,363.0 545.2,359.7 542.7,356.4 540.3,353.0 537.8,349.6 535.4,346.2 532.9,342.8 530.4,339.5 527.8,336.3 525.2,333.2 522.4,330.2 519.6,327.3 516.8,324.5 513.9,321.7 510.9,319.1M815.3,531.0 811.3,529.7 807.3,528.4 803.2,527.1 799.2,525.9 795.1,524.6 791.0,523.4 786.9,522.3 782.9,521.0 778.8,519.8 774.8,518.4 770.7,517.3 766.6,516.1 762.5,514.9 758.4,513.7 754.2,512.6 750.0,511.6 745.8,510.6 741.6,509.6 737.4,508.5 733.3,507.4 729.2,506.1 725.2,504.9 721.1,503.6 717.0,502.5 712.8,501.4 708.6,500.4 704.3,499.4 700.1,498.4 696.4,496.6 692.9,494.7 689.4,492.7 685.9,490.7 682.4,488.7 678.9,486.7 675.3,484.9 671.6,483.1 667.9,481.5 664.3,479.6 661.0,477.4 657.7,475.1 654.4,472.8 651.2,470.5 648.0,468.1 644.7,465.8 641.4,463.6 637.9,461.5 634.4,459.5 630.9,457.6 627.4,455.6 623.9,453.6 620.6,451.3 617.4,449.0 614.2,446.6 611.1,444.2 607.9,441.7 604.7,439.3 601.5,436.9 598.3,434.6 595.1,432.2 592.0,429.6 589.0,427.0 586.1,424.2 583.3,421.3 580.6,418.3 577.8,415.3 575.1,412.3 572.3,409.4 569.5,406.5 566.7,403.5 564.0,400.5 561.4,397.3 558.9,394.0 556.4,390.6 554.1,387.1 551.7,383.6 549.3,380.1 546.9,376.7 544.4,373.4 541.9,370.0 539.5,366.7 537.1,363.3 534.7,359.7 532.5,356.1 530.3,352.4 528.1,348.6 525.9,344.9 523.6,341.2 521.3,337.7 519.0,334.1 516.6,330.6 514.3,327.1 512.0,323.4 509.9,319.7 507.7,315.9 505.6,312.0 503.5,308.2M815.3,531.0 811.5,529.4 807.8,527.8 804.0,526.1 800.3,524.4 796.5,522.7 792.8,521.0 789.1,519.3 785.4,517.6 781.7,515.9 777.9,514.3 774.0,512.9 770.0,511.5 766.1,510.2 762.1,508.8 758.1,507.5 754.1,506.2 750.1,504.8 746.2,503.3 742.3,501.9 738.5,500.4 734.7,498.8 730.9,497.2 727.2,495.5 723.4,493.8 719.7,492.1 716.0,490.5 712.2,488.8 708.4,487.2 705.0,485.2 701.5,483.1 698.0,481.1 694.6,479.1 691.1,477.0 687.6,475.0 684.2,472.9 680.9,470.7 677.6,468.4 674.5,466.0 671.5,463.3 668.5,460.6 665.6,457.8 662.6,455.1 659.6,452.5 656.6,449.8 653.6,447.2 650.5,444.7 647.4,442.2 644.2,439.7 641.1,437.3 637.9,434.9 634.7,432.5 631.6,430.0 628.4,427.6 625.2,425.2 622.0,422.8 618.8,420.4 615.7,418.0 612.4,415.6 609.2,413.3 606.0,410.9 602.7,408.6 599.4,406.4 596.1,404.1 592.8,401.9 589.5,399.7 586.2,397.4 582.9,395.1 579.6,392.8 576.4,390.5 573.2,388.1 570.0,385.7 566.9,383.2 563.8,380.6 560.8,378.0 557.8,375.3 554.9,372.6 551.9,369.9 549.0,367.1 546.1,364.3 543.2,361.5 540.4,358.6 537.6,355.7 534.9,352.7 532.2,349.7M815.3,531.0 812.1,528.7 808.8,526.3 805.6,524.0 802.3,521.7 799.0,519.4 795.7,517.2 792.4,515.0 789.0,512.8 785.6,510.7 782.2,508.6 778.7,506.5 775.3,504.4 772.0,502.2 768.8,499.8 765.6,497.4 762.5,494.9 759.4,492.3 756.3,489.8 753.1,487.4 749.9,485.0 746.7,482.7 743.4,480.5 740.1,478.2 736.9,475.8 733.7,473.4 730.7,470.8 727.7,468.1 724.8,465.4 721.9,462.5 719.0,459.7 716.1,456.9 713.1,454.2 710.0,451.8 706.8,449.4 703.4,447.3 700.1,445.0 696.8,442.7 693.5,440.5 690.3,438.2 687.1,435.7 684.0,433.2 681.0,430.6 678.1,427.8 675.2,425.0 672.3,422.1 669.5,419.3 666.6,416.4 663.7,413.6 660.8,410.9 657.9,408.1 654.9,405.4 652.0,402.6 649.2,399.7 646.4,396.8 643.7,393.8 641.0,390.6 638.4,387.5 635.8,384.3 633.2,381.2 630.5,378.1 627.8,374.9 625.2,371.9 622.5,368.8 619.8,365.7 617.1,362.7 614.3,359.7 611.6,356.7 608.8,353.7 606.0,350.8 603.2,347.9 600.3,345.1 597.4,342.4 594.4,339.6 591.5,336.8 588.7,334.0 585.9,331.0 583.3,327.9 580.7,324.6 578.3,321.2 576.0,317.6 573.7,314.0 571.4,310.4 569.2,306.8 566.9,303.2 564.5,299.6 561.7,296.7 558.6,294.2 555.5,291.7 552.5,289.1 549.5,286.4 546.6,283.6 543.8,280.7 541.1,277.7M815.3,531.0 811.7,529.1 808.1,527.3 804.5,525.4 800.9,523.5 797.3,521.7 793.7,519.8 790.1,518.0 786.5,516.2 782.8,514.5 779.1,512.7 775.5,510.9 771.8,509.1 768.3,507.1 764.9,505.0 761.5,502.9 758.1,500.8 754.6,498.8 751.0,497.0 747.3,495.2 743.6,493.5 740.0,491.7 736.3,489.9 732.8,488.0 729.3,485.9 725.9,483.8 722.5,481.7 719.1,479.6 715.6,477.6 712.3,475.4 708.9,473.3 705.5,471.2 702.0,469.1 698.6,467.0 695.2,464.9 691.8,462.8 688.4,460.6 685.1,458.4 681.7,456.3 678.3,454.2 674.8,452.1 671.3,450.2 667.8,448.2 664.3,446.2 660.9,444.1 657.5,441.9 654.2,439.7 651.0,437.3 647.7,435.0 644.5,432.7 641.1,430.5 637.8,428.2 634.6,426.0 631.4,423.6 628.3,421.0 625.4,418.2 622.6,415.3 620.0,412.1 617.5,408.8 615.0,405.5 612.6,402.1 610.1,398.7 607.6,395.3 605.2,392.0 602.7,388.6 600.3,385.2 597.9,381.7 595.6,378.1 593.3,374.6 590.9,371.0 588.6,367.5 586.1,364.1 583.6,360.8 581.1,357.5 578.5,354.3 576.0,351.0 573.5,347.7 571.1,344.3 568.6,340.8 566.3,337.4 563.8,333.9 561.4,330.6 558.8,327.4 556.1,324.3 553.4,321.3 550.6,318.3M815.3,531.0 811.2,529.8 807.2,528.5 803.2,527.2 799.2,525.9 795.2,524.5 791.2,523.2 787.1,521.9 783.1,520.7 778.9,519.5 774.8,518.4 770.4,517.5 766.1,516.6 761.9,515.6 757.8,514.4 753.7,513.1 749.8,511.7 745.9,510.3 741.9,508.9 737.9,507.6 733.7,506.5 729.5,505.5 725.2,504.5 720.9,503.6 716.7,502.6 712.4,501.6 708.3,500.4 704.2,499.2 700.1,498.0 696.6,496.0 693.2,493.9 689.7,491.9 686.1,490.0 682.6,488.1 679.0,486.2 675.4,484.3 671.8,482.4 668.2,480.5 664.8,478.4 661.7,476.0 658.5,473.6 655.2,471.2 651.9,468.9 648.6,466.7 645.3,464.5 641.9,462.2 638.6,460.0 635.3,457.8 632.1,455.4 628.8,453.1 625.6,450.8 622.4,448.4 619.1,446.0 615.8,443.8 612.4,441.6 609.1,439.5 605.7,437.3 602.4,435.0 599.2,432.6 596.1,430.1 593.1,427.4 590.2,424.6 587.4,421.6 584.7,418.7 581.9,415.7 579.1,412.7 576.3,409.8 573.4,407.0 570.6,404.1 567.8,401.2 565.1,398.1 562.6,394.8 560.2,391.4 557.9,387.7 555.8,383.9 553.7,380.0 551.6,376.1 549.6,372.1 547.5,368.3M815.3,531.0 812.0,528.8 808.7,526.5 805.4,524.3 802.0,522.1 798.7,519.9 795.3,517.8 791.9,515.6 788.6,513.4 785.3,511.1 782.1,508.8 778.8,506.5 775.6,504.2 772.3,501.8 769.1,499.5 765.8,497.2 762.5,495.0 759.2,492.7 756.0,490.4 752.8,488.0 749.6,485.6 746.5,483.1 743.3,480.6 740.2,478.2 737.0,475.7 733.8,473.4 730.5,471.1 727.2,468.9 723.9,466.6 720.7,464.3 717.5,461.9 714.4,459.4 711.2,456.9 708.2,454.4 705.0,451.9 701.9,449.4 698.9,446.7 695.9,444.0 692.9,441.4 690.0,438.7 687.0,436.0 684.1,433.3 681.2,430.5 678.2,427.7 675.3,425.0 672.4,422.3 669.4,419.6 666.4,416.9 663.4,414.3 660.5,411.6 657.5,408.8 654.6,406.0 651.8,403.1 649.0,400.2 646.3,397.2 643.5,394.3 640.6,391.4 637.7,388.7 634.7,386.0 631.6,383.5 628.5,381.0 625.5,378.4 622.5,375.7 619.7,372.8 617.0,369.8 614.3,366.6 611.8,363.4 609.2,360.2 606.6,357.0 603.8,354.0 601.0,351.2 598.0,348.5 595.0,345.9 591.9,343.3 588.9,340.7 585.9,338.0 583.0,335.2 580.2,332.3 577.4,329.3 574.7,326.4 571.9,323.5 569.0,320.6 566.1,317.9 563.1,315.3 560.0,312.7 556.9,310.1 553.8,307.6 550.8,305.1 547.7,302.5 544.6,300.0 541.5,297.5 538.3,295.1M815.3,531.0 811.5,529.4 807.7,527.8 803.9,526.2 800.1,524.6 796.4,523.1 792.6,521.5 788.8,519.9 785.0,518.3 781.1,516.8 777.3,515.3 773.2,514.0 769.2,512.8 765.2,511.6 761.1,510.3 757.1,509.0 753.2,507.6 749.2,506.3 745.1,505.1 741.0,503.9 736.8,502.8 732.6,501.9 728.3,501.0 723.9,500.2 719.5,499.5 715.0,498.8 710.6,498.0 706.2,497.2 701.9,496.4 698.1,494.8 694.4,493.0 690.8,491.2 687.3,489.3 683.8,487.3 680.3,485.3 676.8,483.3 673.4,481.3 669.9,479.2 666.7,476.9 663.7,474.3 660.7,471.6 657.8,468.9 654.8,466.1 652.0,463.3 649.1,460.5 646.2,457.8 643.2,455.0 640.3,452.4 637.2,449.8 634.1,447.3 630.9,444.9 627.8,442.5 624.6,440.1 621.5,437.6 618.3,435.1 615.3,432.6 612.2,430.0 609.2,427.4 606.2,424.7 603.2,422.1 600.2,419.5 597.1,416.9 594.0,414.4 590.9,412.0 587.7,409.6 584.5,407.2 581.4,404.8 578.2,402.3 575.2,399.7 572.2,397.0 569.4,394.2 566.6,391.3 563.9,388.2 561.2,385.1 558.6,382.0 556.0,378.8 553.5,375.5 551.0,372.2 548.5,368.9 546.2,365.4 543.9,361.7 541.8,358.0 539.7,354.1 537.7,350.2 535.7,346.2 533.8,342.1 531.8,338.1 529.8,334.1M815.3,531.0 811.3,529.7 807.3,528.3 803.3,527.0 799.3,525.7 795.3,524.4 791.2,523.2 787.2,521.9 783.1,520.7 779.1,519.4 775.0,518.2 770.8,517.1 766.6,516.1 762.4,515.0 758.3,513.9 754.1,512.8 749.9,511.7 745.7,510.7 741.4,509.7 737.1,508.8 732.8,508.0 728.4,507.1 724.0,506.4 719.6,505.6 715.1,504.9 710.7,504.1 706.3,503.3 701.9,502.5 697.6,501.6 693.9,499.9 690.3,498.1 686.7,496.2 683.2,494.3 679.7,492.3 676.2,490.2 672.8,488.2 669.3,486.1 665.8,484.1 662.5,481.9 659.4,479.3 656.3,476.8 653.2,474.4 650.0,472.0 646.8,469.6 643.6,467.2 640.4,464.8 637.2,462.3 634.1,459.9 631.0,457.3 628.0,454.7 625.0,452.0 622.2,449.2 619.3,446.3 616.5,443.4 613.7,440.5 610.9,437.6 608.0,434.8 605.1,432.0 602.1,429.4 599.1,426.8 596.0,424.2 592.8,421.8 589.6,419.5 586.3,417.2 583.0,414.9 579.6,412.7 576.3,410.5 573.0,408.3 569.7,406.0 566.5,403.7 563.3,401.3 560.1,398.9 556.9,396.5 553.8,394.0 550.6,391.5 547.5,389.1 544.3,386.7 541.1,384.3 537.8,382.0 534.5,379.8 531.2,377.5 527.8,375.4M815.3,531.0 811.4,529.5 807.6,528.0 803.8,526.4 800.0,524.8 796.2,523.1 792.5,521.4 788.8,519.7 785.1,518.0 781.4,516.3 777.6,514.7 773.6,513.3 769.5,512.1 765.4,510.9 761.4,509.6 757.3,508.3 753.4,506.9 749.6,505.4 745.8,503.8 741.9,502.2 738.1,500.7 734.2,499.2 730.3,497.8 726.3,496.4 722.3,495.1 718.3,493.8 714.3,492.5 710.4,491.0 706.5,489.5 703.2,487.3 699.9,485.0 696.6,482.8 693.2,480.6 689.8,478.4 686.4,476.4 682.8,474.4 679.3,472.5 675.7,470.6 672.2,468.6 668.9,466.4 665.5,464.2 662.1,462.1 658.6,460.1 655.0,458.2 651.4,456.3 647.8,454.5 644.1,452.8 640.4,451.0 636.8,449.1 633.3,447.1 629.9,445.0 626.6,442.7 623.5,440.3 620.4,437.7 617.4,435.1 614.4,432.4 611.5,429.6 608.7,426.7 605.9,423.7 603.3,420.6 600.7,417.4 598.1,414.1 595.6,410.8 593.0,407.6 590.3,404.5 587.5,401.6 584.5,399.0 581.2,396.7 577.8,394.5 574.3,392.6 570.7,390.7 567.1,388.9 563.4,387.1 559.8,385.2 556.3,383.3 552.8,381.3 549.3,379.3 545.8,377.3 542.3,375.3 538.9,373.2 535.5,371.0 532.2,368.7 529.1,366.2 526.2,363.5 523.4,360.5 520.8,357.4 518.2,354.0 515.8,350.7M815.3,531.0 812.0,528.8 808.6,526.6 805.2,524.5 801.8,522.4 798.3,520.3 794.9,518.2 791.5,516.1 788.1,513.9 784.8,511.7 781.5,509.4 778.2,507.1 774.9,504.8 771.7,502.5 768.5,500.1 765.2,497.8 761.9,495.5 758.6,493.3 755.3,491.0 752.0,488.8 748.6,486.6 745.3,484.4 741.8,482.3 738.4,480.3 734.9,478.3 731.3,476.3 727.7,474.5 724.1,472.6 720.5,470.8 717.0,468.7 713.6,466.7 710.2,464.6 706.7,462.5 703.3,460.4 699.8,458.4 696.3,456.4 693.0,454.2 689.6,452.0 686.3,449.7 683.2,447.2 680.1,444.6 677.2,441.8 674.4,438.9 671.7,435.9 669.1,432.7 666.5,429.5 663.9,426.3 661.3,423.0 658.7,419.8 656.2,416.6 653.6,413.3 651.0,410.1 648.5,406.8 646.1,403.4 643.6,400.0 641.2,396.6 638.8,393.1 636.3,389.7 633.9,386.3 631.4,383.0 628.8,379.7 626.3,376.5 623.7,373.3 621.0,370.1 618.4,367.0 615.7,363.9 612.9,361.0 610.0,358.2 607.0,355.6 603.8,353.1 600.5,350.8 597.2,348.6 593.8,346.5 590.4,344.4 587.0,342.2 583.7,339.9 580.5,337.6 577.3,335.1 574.2,332.7 571.0,330.2 567.9,327.7 564.7,325.3 561.4,322.9 558.2,320.6 554.9,318.3 551.6,316.1M815.3,531.0 811.6,529.3 807.8,527.7 804.1,526.0 800.3,524.4 796.5,522.8 792.8,521.2 789.0,519.6 785.2,518.0 781.4,516.4 777.7,514.7 773.9,513.2 770.1,511.6 766.3,510.0 762.4,508.5 758.6,507.0 754.6,505.6 750.6,504.3 746.6,503.0 742.6,501.7 738.6,500.4 734.7,499.0 730.8,497.5 726.9,496.0 723.1,494.5 719.3,493.0 715.4,491.5 711.4,490.1 707.4,488.9 703.7,487.2 700.0,485.5 696.2,483.8 692.5,482.2 688.8,480.4 685.2,478.6 681.6,476.8 678.2,474.7 674.7,472.7 671.5,470.4 668.4,467.9 665.3,465.3 662.2,462.8 659.1,460.3 656.1,457.7 653.1,455.1 650.1,452.3 647.3,449.4 644.6,446.4 642.1,443.2 639.6,439.9 637.1,436.5 634.7,433.1 632.2,429.7 629.7,426.4 627.1,423.2 624.4,420.2 621.7,417.2 618.9,414.3 616.0,411.5 613.2,408.6 610.3,405.8 607.5,402.9 604.7,400.0 601.8,397.2 598.9,394.5 595.9,391.8 592.8,389.3 589.6,387.0 586.2,384.8 582.8,382.7 579.3,380.7 575.8,378.8 572.2,376.9 568.6,375.1 565.0,373.3 561.4,371.4 557.7,369.7 554.0,368.0 550.2,366.4 546.4,364.8 542.6,363.3 538.7,361.8 534.9,360.2 531.1,358.6 527.4,356.9 523.8,355.0 520.4,353.0 517.1,350.8 513.8,348.5 510.7,346.0 507.5,343.6M815.3,531.0 811.5,529.4 807.8,527.8 804.0,526.1 800.3,524.4 796.6,522.8 792.9,521.1 789.1,519.4 785.4,517.8 781.6,516.2 777.8,514.5 774.0,513.1 770.1,511.6 766.3,510.0 762.5,508.5 758.6,507.0 754.7,505.6 750.7,504.2 746.7,502.9 742.6,501.7 738.6,500.5 734.6,499.2 730.6,497.8 726.7,496.4 722.9,494.8 719.1,493.2 715.4,491.5 711.6,489.9 707.9,488.3 704.4,486.3 700.9,484.3 697.3,482.4 693.8,480.5 690.2,478.6 686.7,476.7 683.2,474.7 679.8,472.6 676.4,470.5 673.2,468.1 670.1,465.6 667.0,463.1 663.9,460.6 660.7,458.2 657.5,455.8 654.3,453.4 651.2,451.0 648.1,448.5 645.0,446.0 642.0,443.4 639.0,440.7 636.0,438.1 633.0,435.4 630.0,432.8 626.9,430.2 623.8,427.7 620.8,425.1 617.7,422.5 614.8,419.9 611.9,417.1 609.1,414.2 606.4,411.1 603.8,407.9 601.3,404.6 598.9,401.2 596.4,397.8 594.0,394.4 591.6,391.0 589.2,387.6 586.8,384.1 584.4,380.6 582.2,377.0 579.9,373.3 577.8,369.6 575.6,365.8 573.5,362.0 571.4,358.2 569.2,354.4 567.0,350.7 564.8,347.0 562.6,343.3 560.4,339.6 558.3,335.8 556.2,331.9 554.2,328.0 552.2,324.0 550.2,320.1 548.1,316.2 546.0,312.4 543.7,308.7 541.4,305.1 539.0,301.7 536.5,298.4 534.0,295.1 531.5,291.8 529.0,288.5 526.5,285.2 523.8,282.2M815.3,531.0 811.4,529.6 807.5,528.1 803.6,526.6 799.8,525.1 795.9,523.6 792.1,522.1 788.2,520.6 784.3,519.2 780.3,517.8 776.4,516.4 772.3,515.2 768.2,514.0 764.1,512.7 760.2,511.4 756.2,510.0 752.4,508.4 748.5,506.9 744.7,505.4 740.8,504.0 736.9,502.5 732.9,501.2 728.9,499.9 724.9,498.6 720.9,497.3 716.8,496.0 712.8,494.7 708.8,493.4 704.7,492.2 701.1,490.4 697.4,488.6 693.7,486.9 689.9,485.3 686.1,483.8 682.2,482.3 678.3,480.9 674.4,479.4 670.5,478.0 666.7,476.3 663.3,474.2 659.9,472.1 656.5,470.0 653.1,467.8 649.7,465.7 646.4,463.5 642.9,461.5 639.4,459.5 635.9,457.5 632.3,455.6 628.7,453.8 625.1,451.9 621.6,449.9 618.2,447.8 614.9,445.6 611.7,443.2 608.6,440.7 605.6,438.1 602.6,435.4 599.8,432.5 596.9,429.6 594.2,426.7 591.5,423.6 588.8,420.5 586.2,417.3 583.7,414.0 581.3,410.6 578.9,407.1 576.6,403.5 574.4,399.8 572.3,396.0 570.2,392.1 568.2,388.2 566.1,384.3 564.0,380.4 561.9,376.6 559.8,372.7 557.7,368.9 555.6,365.0 553.6,361.1 551.6,357.1 549.6,353.0 547.7,348.9 545.9,344.7 544.1,340.5M815.3,531.0 812.1,528.7 808.8,526.3 805.6,524.0 802.3,521.7 799.0,519.5 795.7,517.2 792.4,515.0 789.1,512.7 785.8,510.5 782.5,508.2 779.3,505.9 776.0,503.6 772.8,501.2 769.6,498.8 766.5,496.3 763.3,493.9 760.1,491.6 756.9,489.2 753.7,486.8 750.4,484.5 747.2,482.1 744.1,479.7 740.9,477.2 737.9,474.6 734.8,472.0 731.8,469.4 728.8,466.7 725.8,464.1 722.9,461.4 719.9,458.7 717.0,456.0 714.0,453.3 711.0,450.6 708.1,447.8 705.2,445.1 702.5,442.0 699.9,438.8 697.3,435.6 694.7,432.4 692.2,429.1 689.6,425.9 687.1,422.6 684.5,419.4 681.9,416.2 679.3,413.1 676.6,410.0 673.9,407.0 671.1,404.0 668.3,401.1 665.5,398.2 662.6,395.4 659.7,392.6 656.8,389.9 653.8,387.2 650.9,384.4 648.0,381.6 645.2,378.7 642.4,375.9 639.6,373.0 636.7,370.1 633.9,367.2 631.0,364.4 628.2,361.5 625.3,358.8 622.3,356.0 619.4,353.3 616.5,350.6 613.5,347.8 610.6,345.1 607.7,342.3 604.8,339.5 601.9,336.7 599.1,333.8 596.3,330.9 593.5,328.0 590.7,325.1 587.9,322.2 585.0,319.3 582.2,316.4 578.8,314.4 574.9,312.8 571.0,311.4 566.9,310.2 562.8,309.0M815.3,531.0 811.6,529.3 807.9,527.6 804.3,525.9 800.6,524.1 797.1,522.2 793.5,520.4 789.9,518.5 786.2,516.8 782.5,515.1 778.8,513.4 775.0,511.9 771.2,510.3 767.6,508.5 764.1,506.6 760.7,504.6 757.2,502.5 753.7,500.6 750.1,498.8 746.3,497.2 742.5,495.6 738.7,494.1 734.9,492.5 731.3,490.8 727.8,488.8 724.3,486.8 720.9,484.7 717.5,482.6 714.0,480.7 710.7,478.5 707.3,476.5 703.8,474.5 700.3,472.5 696.8,470.5 693.5,468.4 690.2,466.1 687.1,463.7 684.0,461.2 680.9,458.7 677.9,456.1 674.8,453.6 671.5,451.3 668.3,449.0 665.0,446.7 661.8,444.5 658.6,442.1 655.4,439.6 652.4,437.1 649.3,434.6 646.2,432.1 643.0,429.7 639.8,427.3 636.6,425.1 633.3,422.8 630.0,420.5 626.8,418.2 623.7,415.7 620.7,413.2 617.7,410.5 614.7,407.8 611.8,405.2 608.8,402.5 605.8,399.9 602.7,397.4 599.7,394.8 596.6,392.2 593.7,389.6 590.7,386.9 587.8,384.1 585.0,381.3 582.1,378.5 579.2,375.7 576.3,373.0 573.4,370.2 570.5,367.5 567.6,364.8 564.7,362.0 561.8,359.3 559.0,356.4 556.2,353.5 553.4,350.6 550.6,347.7 547.8,344.8 545.0,341.9 542.2,339.1 539.4,336.2M815.3,531.0 811.7,529.2 808.0,527.4 804.4,525.7 800.7,523.9 797.0,522.1 793.4,520.4 789.7,518.6 786.0,516.9 782.4,515.1 778.7,513.3 775.0,511.7 771.3,510.0 767.6,508.2 764.0,506.4 760.3,504.6 756.7,502.8 753.1,501.1 749.4,499.3 745.8,497.5 742.1,495.7 738.5,493.9 734.9,492.0 731.4,490.1 727.9,488.0 724.5,486.0 721.1,483.8 717.8,481.7 714.4,479.5 711.3,477.1 708.1,474.6 704.9,472.3 701.6,470.0 698.3,467.8 694.9,465.7 691.4,463.7 687.9,461.7 684.5,459.6 681.0,457.6 677.7,455.4 674.3,453.2 671.0,451.0 667.7,448.8 664.4,446.5 661.1,444.3 657.9,442.0 654.6,439.6 651.4,437.3 648.2,434.9 645.0,432.6 641.8,430.2 638.6,427.8 635.4,425.4 632.2,423.0 629.1,420.6 626.0,418.0 623.0,415.4 620.0,412.7 617.1,409.9 614.3,407.1 611.5,404.1 608.8,401.1 606.0,398.1 603.3,395.1 600.6,392.1 597.9,389.1 595.1,386.2 592.2,383.3 589.3,380.6 586.3,377.9 583.3,375.3 580.2,372.7 577.1,370.2 574.0,367.8 570.8,365.4 567.6,363.0 564.4,360.6 561.2,358.3 557.9,356.0 554.7,353.7 551.4,351.4 548.2,349.1 544.9,346.8 541.7,344.5 538.5,342.1M815.3,531.0 811.5,529.4 807.7,527.8 803.9,526.2 800.1,524.6 796.3,523.1 792.4,521.5 788.6,520.0 784.7,518.5 780.8,517.0 776.9,515.6 772.8,514.4 768.7,513.2 764.6,512.1 760.5,510.9 756.3,509.7 752.2,508.5 748.2,507.3 744.1,506.0 740.2,504.6 736.3,503.1 732.5,501.6 728.7,499.9 725.1,498.1 721.4,496.3 717.8,494.5 714.1,492.7 710.4,491.0 706.6,489.4 703.1,487.4 699.6,485.5 695.9,483.7 692.2,482.0 688.4,480.3 684.7,478.7 680.9,477.0 677.3,475.3 673.6,473.5 670.1,471.5 666.8,469.2 663.4,467.1 660.1,464.9 656.6,462.8 653.1,460.8 649.6,458.9 646.0,457.0 642.4,455.2 638.8,453.3 635.2,451.5 631.6,449.5 628.1,447.5 624.8,445.4 621.5,443.1 618.2,440.7 615.1,438.3 612.0,435.8 608.9,433.2 605.9,430.5 603.0,427.7 600.1,424.9 597.3,422.0 594.5,419.1 591.7,416.2 588.8,413.4 586.0,410.5 583.0,407.8 580.0,405.1 577.0,402.5 573.8,400.0 570.7,397.6 567.5,395.2 564.3,392.7 561.2,390.3 558.1,387.7 555.1,385.1 552.1,382.4 549.2,379.6 546.3,376.8 543.4,374.0 540.5,371.2 537.6,368.4 534.7,365.7 531.7,363.0 528.8,360.2 525.8,357.5 522.9,354.8 520.0,352.0 517.1,349.1 514.3,346.2 511.5,343.3 508.7,340.3 506.0,337.3 503.2,334.4M815.3,531.0 811.4,529.6 807.5,528.2 803.5,526.8 799.6,525.5 795.7,524.1 791.8,522.7 787.9,521.2 784.1,519.7 780.3,518.2 776.5,516.6 772.5,515.3 768.5,514.0 764.5,512.8 760.5,511.6 756.3,510.4 752.2,509.4 748.0,508.3 743.9,507.2 739.8,506.0 735.7,504.8 731.7,503.6 727.7,502.4 723.6,501.2 719.5,500.0 715.4,498.9 711.3,497.8 707.1,496.8 702.8,495.9 699.0,494.4 695.2,492.8 691.5,491.1 687.8,489.4 684.1,487.8 680.4,486.1 676.7,484.5 672.9,482.8 669.1,481.3 665.4,479.7 661.9,477.7 658.5,475.7 655.0,473.7 651.6,471.6 648.2,469.5 644.8,467.4 641.5,465.2 638.2,463.0 635.0,460.7 631.7,458.4 628.5,456.2 625.2,453.9 622.0,451.5 618.8,449.1 615.7,446.7 612.6,444.3 609.5,441.8 606.5,439.2 603.4,436.6 600.4,434.0 597.5,431.4 594.5,428.7 591.6,426.0 588.6,423.4 585.6,420.7 582.7,418.0 579.8,415.3 576.9,412.6 574.0,409.8 571.1,407.0 568.3,404.2 565.5,401.3 562.7,398.4 559.9,395.5 557.2,392.6 554.4,389.6 551.6,386.7 548.8,383.8 546.0,381.0 543.2,378.2 540.3,375.4 537.4,372.6 534.5,369.8 531.6,367.1 528.8,364.3 525.9,361.5 523.0,358.8 520.1,356.0M815.3,531.0 811.6,529.3 807.9,527.6 804.2,525.8 800.5,524.1 796.8,522.4 793.1,520.6 789.4,518.8 785.8,517.0 782.2,515.2 778.6,513.3 774.9,511.6 771.2,509.8 767.5,508.1 763.8,506.4 760.1,504.6 756.5,502.8 752.9,500.9 749.3,499.0 745.8,497.0 742.4,494.9 739.0,492.8 735.5,490.8 732.0,488.7 728.6,486.7 725.0,484.7 721.4,482.8 717.8,481.0 714.2,479.1 710.9,477.0 707.5,474.8 704.1,472.6 700.8,470.4 697.3,468.3 693.9,466.3 690.3,464.3 686.9,462.3 683.4,460.3 679.9,458.2 676.6,456.0 673.2,453.8 669.9,451.6 666.6,449.3 663.3,447.1 660.0,444.8 656.6,442.6 653.2,440.5 649.8,438.4 646.3,436.4 642.8,434.5 639.2,432.5 635.7,430.5 632.3,428.5 628.9,426.3 625.5,424.1 622.2,421.9 619.0,419.5 615.7,417.2 612.5,414.8 609.3,412.4 606.1,410.0 603.0,407.5 599.9,405.0 596.9,402.3 593.9,399.6 591.1,396.7 588.3,393.8 585.5,390.9 582.7,387.9 579.9,385.0 577.0,382.2 574.1,379.4 571.1,376.7 568.1,374.0 565.1,371.4 562.1,368.7 559.1,366.1 556.1,363.4 553.1,360.7 550.1,358.0 547.1,355.4 544.1,352.8 541.0,350.2 537.9,347.6 534.9,345.0 531.8,342.4 528.8,339.8 525.9,337.0 523.0,334.2 520.2,331.3 517.3,328.4 514.5,325.5 511.6,322.7 508.7,319.9 505.8,317.2 502.7,314.6 499.7,312.0 496.6,309.4M815.3,531.0 811.6,529.2 808.0,527.4 804.4,525.6 800.8,523.8 797.2,522.0 793.6,520.2 789.9,518.4 786.3,516.6 782.7,514.8 779.1,513.0 775.4,511.2 771.7,509.5 768.1,507.6 764.6,505.7 761.0,503.9 757.3,502.1 753.6,500.5 749.7,499.0 745.8,497.6 741.9,496.2 737.9,494.8 734.0,493.4 730.2,491.8 726.5,490.2 722.8,488.4 719.2,486.6 715.6,484.7 712.1,482.8 708.8,480.6 705.6,478.2 702.4,475.8 699.3,473.4 696.2,470.9 693.2,468.2 690.3,465.5 687.5,462.6 684.8,459.5 682.2,456.4 679.6,453.1 677.0,450.0 674.2,447.1 671.3,444.3 668.3,441.7 665.1,439.3 661.9,437.0 658.6,434.8 655.2,432.6 651.8,430.5 648.4,428.4 645.0,426.3 641.6,424.3 638.1,422.3 634.6,420.3 631.1,418.4 627.6,416.4 624.2,414.3 620.9,412.0 617.7,409.6 614.7,407.0 611.9,404.1 609.2,401.1 606.6,397.9 604.2,394.5 601.7,391.2 599.2,387.9 596.6,384.7 594.0,381.5 591.3,378.5 588.5,375.6 585.6,372.8 582.7,370.1 579.7,367.4 576.7,364.8 573.6,362.3 570.4,360.0 567.1,357.7 563.6,355.7 560.1,353.7 556.5,351.9 552.8,350.2 549.2,348.4 545.5,346.7 541.9,344.8 538.5,342.8 535.1,340.6 531.9,338.3 528.8,335.8 525.8,333.2 522.8,330.5 519.9,327.8 517.0,324.9 514.2,322.1 511.4,319.1 508.7,316.1 506.1,312.9 503.6,309.7 501.0,306.5 498.3,303.4 495.7,300.4 492.9,297.4M815.3,531.0 811.4,529.6 807.5,528.2 803.6,526.8 799.6,525.4 795.7,524.0 791.8,522.6 787.9,521.1 784.0,519.7 780.1,518.3 776.3,516.8 772.3,515.5 768.2,514.3 764.2,513.0 760.2,511.8 756.1,510.6 752.0,509.5 747.8,508.4 743.6,507.4 739.3,506.5 735.0,505.6 730.7,504.7 726.4,503.9 722.1,503.0 717.8,502.0 713.6,501.0 709.4,500.0 705.2,499.0 701.0,497.9 697.3,496.3 693.7,494.5 690.1,492.6 686.5,490.8 682.9,489.0 679.3,487.1 675.8,485.2 672.2,483.3 668.8,481.3 665.4,479.1 662.4,476.5 659.5,473.8 656.5,471.1 653.6,468.5 650.6,465.8 647.6,463.1 644.6,460.5 641.6,458.0 638.5,455.5 635.3,453.1 632.1,450.7 628.9,448.4 625.7,446.0 622.5,443.7 619.3,441.3 616.1,438.9 613.0,436.5 609.8,434.1 606.6,431.8 603.4,429.4 600.1,427.1 596.8,424.9 593.5,422.8 590.0,420.8 586.5,418.9 582.9,417.0 579.2,415.3 575.5,413.6 571.7,412.0 568.0,410.3 564.4,408.6 560.9,406.6 557.6,404.4 554.4,402.0 551.5,399.3 548.7,396.3 546.1,393.2 543.7,389.8 541.4,386.3 539.2,382.6 537.1,378.7 535.1,374.7 533.2,370.6 531.5,366.4 529.8,362.0 528.2,357.5 526.7,352.8 525.7,347.5 524.8,342.1 523.9,336.8 522.9,331.4 521.9,326.1M815.3,531.0 811.7,529.2 808.0,527.4 804.4,525.7 800.8,523.9 797.1,522.1 793.5,520.4 789.7,518.7 786.0,517.1 782.3,515.5 778.5,513.8 774.7,512.3 770.9,510.8 767.1,509.2 763.4,507.5 759.7,505.9 755.9,504.2 752.1,502.7 748.3,501.2 744.4,499.7 740.5,498.3 736.6,496.9 732.7,495.4 729.0,493.9 725.3,492.2 721.6,490.4 718.1,488.5 714.5,486.6 710.9,484.8 707.6,482.6 704.2,480.5 700.8,478.4 697.3,476.4 693.8,474.5 690.3,472.5 686.8,470.6 683.4,468.5 680.1,466.4 676.8,464.1 673.7,461.6 670.6,459.1 667.4,456.7 664.2,454.4 661.0,452.1 657.7,449.8 654.4,447.6 651.2,445.3 648.0,442.9 645.0,440.3 642.0,437.6 639.2,434.8 636.4,431.9 633.7,428.9 631.0,425.8 628.3,422.8 625.6,419.8 622.8,416.9 620.1,413.9 617.3,411.0 614.5,408.1 611.8,405.1 609.1,402.1 606.3,399.1 603.6,396.2 600.8,393.3 597.9,390.5 594.9,387.9 591.8,385.4 588.6,383.1 585.3,380.9 581.9,378.8 578.5,376.7 575.1,374.6 571.8,372.4 568.5,370.2 565.2,367.9 562.0,365.6 558.8,363.2 555.6,360.9 552.4,358.6 549.2,356.2 545.9,353.9 542.8,351.4 540.1,348.5 537.4,345.4 534.9,342.2M815.3,531.0 811.5,529.5 807.6,527.9 803.7,526.4 799.9,524.9 796.1,523.3 792.2,521.8 788.5,520.1 784.7,518.5 781.0,516.8 777.3,515.1 773.4,513.6 769.4,512.2 765.5,510.8 761.5,509.5 757.4,508.2 753.4,506.9 749.4,505.6 745.4,504.3 741.4,503.0 737.4,501.6 733.4,500.2 729.5,498.9 725.5,497.5 721.5,496.2 717.4,494.9 713.3,493.7 709.2,492.6 704.9,491.5 701.2,489.9 697.4,488.3 693.6,486.7 689.9,484.9 686.3,483.2 682.7,481.3 679.2,479.3 675.8,477.1 672.5,474.9 669.4,472.4 666.5,469.5 663.7,466.6 660.9,463.6 658.1,460.7 655.4,457.7 652.6,454.8 649.8,451.9 646.9,449.0 644.0,446.2 641.1,443.5 638.0,440.8 634.9,438.3 631.8,435.8 628.6,433.4 625.3,431.1 622.0,428.9 618.6,426.8 615.2,424.7 611.7,422.6 608.3,420.5 604.8,418.5 601.3,416.5 597.9,414.4 594.4,412.4 591.0,410.2 587.6,408.1 584.3,405.8 581.1,403.5 577.9,401.0 574.9,398.4 572.0,395.6 569.1,392.7 566.4,389.8 563.7,386.7 561.0,383.6 558.3,380.5 555.6,377.4 552.8,374.5 549.9,371.7 546.9,369.1 543.8,366.6M815.3,531.0 812.0,528.8 808.7,526.5 805.5,524.2 802.2,522.0 799.0,519.6 795.8,517.3 792.6,514.9 789.4,512.6 786.1,510.3 782.9,508.0 779.6,505.7 776.3,503.6 772.9,501.4 769.6,499.2 766.3,497.0 763.0,494.8 759.7,492.5 756.5,490.2 753.2,487.9 750.0,485.6 746.8,483.2 743.7,480.8 740.5,478.4 737.3,476.0 734.2,473.6 730.9,471.3 727.6,469.1 724.2,467.0 720.9,464.8 717.5,462.7 714.1,460.6 710.7,458.5 707.3,456.4 703.9,454.3 700.5,452.2 697.3,449.9 694.2,447.5 691.0,445.0 687.9,442.5 684.8,440.0 681.7,437.6 678.6,435.1 675.4,432.7 672.3,430.3 669.1,427.8 666.0,425.4 662.9,422.9 659.8,420.4 656.8,417.8 653.8,415.2 650.7,412.7 647.7,410.1 644.6,407.5 641.6,405.0 638.5,402.5 635.4,400.0 632.3,397.5 629.1,395.1 626.0,392.7 622.9,390.2 619.8,387.7 616.7,385.2 613.7,382.6 610.7,379.9 607.8,377.2 604.9,374.4 602.1,371.5 599.3,368.7 596.4,365.8 593.6,363.0 590.7,360.2 587.9,357.4 585.0,354.6 582.1,351.9 579.2,349.1 576.3,346.4 573.4,343.6 570.5,340.8 567.7,337.9 564.9,335.0 562.2,332.0 559.4,329.1 556.7,326.1 554.0,323.1 551.2,320.1 548.5,317.2 545.7,314.3 542.8,311.4 540.0,308.6 537.2,305.8 534.3,303.0 531.5,300.1 528.6,297.3 525.8,294.4 523.1,291.5 520.3,288.5 517.5,285.6 514.7,282.7 511.9,279.8 509.1,277.0M815.3,531.0 811.9,528.9 808.6,526.8 805.2,524.6 801.9,522.5 798.6,520.3 795.2,518.1 791.9,515.9 788.6,513.7 785.3,511.5 782.0,509.4 778.6,507.3 775.2,505.2 771.8,503.2 768.4,501.1 764.9,499.1 761.5,497.1 758.0,495.1 754.5,493.1 751.1,491.1 747.6,489.2 744.1,487.2 740.7,485.2 737.3,483.1 733.9,481.0 730.6,478.8 727.2,476.7 723.9,474.5 720.6,472.3 717.4,470.0 714.2,467.6 711.1,465.2 708.0,462.7 704.9,460.2 701.8,457.7 698.8,455.1 696.0,452.3 693.2,449.3 690.6,446.3 688.0,443.1 685.5,439.8 683.0,436.6 680.5,433.3 677.9,430.1 675.4,426.9 672.8,423.8 670.1,420.7 667.3,417.8 664.5,414.9 661.6,412.2 658.6,409.6 655.5,407.2 652.3,404.8 649.0,402.6 645.6,400.5 642.3,398.4 638.8,396.3 635.4,394.3 631.9,392.4 628.4,390.4 624.9,388.5 621.4,386.6 617.9,384.6 614.4,382.7 611.0,380.7 607.5,378.6 604.1,376.6 600.7,374.5 597.4,372.3 594.1,370.0 590.9,367.7 587.8,365.3 584.7,362.9 581.6,360.3 578.7,357.7 575.8,354.9 572.9,352.1 570.1,349.3 567.3,346.4 564.5,343.5 561.8,340.5 559.1,337.5 556.4,334.6 553.6,331.6 550.8,328.7 547.9,326.0 545.0,323.3 542.0,320.7 538.9,318.1 535.8,315.7 532.6,313.3 529.4,311.0 526.2,308.7 522.9,306.5 519.6,304.3M815.3,531.0 811.5,529.4 807.8,527.8 804.0,526.1 800.3,524.5 796.6,522.8 792.8,521.2 789.1,519.5 785.4,517.9 781.6,516.3 777.9,514.6 774.0,513.2 770.1,511.8 766.2,510.3 762.4,508.8 758.6,507.2 754.9,505.6 751.1,504.0 747.4,502.3 743.6,500.7 739.9,499.1 736.1,497.5 732.2,496.0 728.4,494.5 724.5,493.0 720.7,491.6 716.8,490.1 713.0,488.6 709.2,487.0 705.7,485.0 702.4,482.8 699.1,480.6 695.9,478.3 692.7,475.9 689.5,473.5 686.4,471.1 683.2,468.6 680.1,466.1 677.0,463.6 674.1,460.9 671.1,458.3 668.0,455.7 665.0,453.2 661.9,450.6 658.9,448.1 655.9,445.5 652.9,442.8 650.0,440.1 647.1,437.3 644.2,434.5 641.3,431.7 638.5,428.9 635.6,426.2 632.6,423.5 629.6,420.8 626.6,418.3 623.5,415.7 620.4,413.3 617.2,410.9 614.1,408.4 611.0,406.0 607.8,403.5 604.8,401.0 601.7,398.4 598.7,395.8 595.7,393.2 592.7,390.6 589.7,388.0 586.6,385.4 583.6,382.9 580.4,380.5 577.2,378.1 574.0,375.8 570.7,373.5 567.5,371.3 564.2,369.0 560.9,366.7 557.8,364.3 554.7,361.8 551.7,359.2M815.3,531.0 811.6,529.3 808.0,527.5 804.3,525.7 800.7,524.0 797.0,522.2 793.3,520.6 789.5,518.9 785.7,517.4 781.9,515.8 778.1,514.3 774.2,512.8 770.4,511.3 766.7,509.6 763.1,507.8 759.5,506.0 755.8,504.2 752.1,502.5 748.3,501.0 744.4,499.5 740.5,498.2 736.5,496.8 732.5,495.5 728.6,494.1 724.8,492.6 721.0,490.9 717.3,489.3 713.6,487.6 709.9,485.9 706.4,483.9 702.9,482.0 699.2,480.2 695.5,478.5 691.8,476.9 688.0,475.3 684.3,473.6 680.7,471.8 677.2,469.8 673.9,467.6 670.9,465.0 667.9,462.3 664.9,459.7 661.9,457.1 658.8,454.6 655.7,452.1 652.5,449.6 649.4,447.2 646.3,444.7 643.2,442.2 640.3,439.4 637.5,436.6 634.8,433.5 632.2,430.4 629.6,427.2 627.0,424.0 624.4,420.8 621.8,417.7 619.1,414.7 616.4,411.7 613.6,408.7 610.8,405.8 608.2,402.7 605.5,399.6 602.9,396.4 600.4,393.2 597.9,389.9 595.3,386.7 592.6,383.6 589.8,380.7 586.9,378.0 583.8,375.5 580.6,373.1 577.3,370.9 574.0,368.7 570.5,366.7 567.1,364.6 563.6,362.6 560.1,360.7 556.6,358.8 552.9,357.0 549.2,355.3 545.3,353.9 541.4,352.5 537.3,351.4 533.1,350.3 528.9,349.3 524.7,348.2 520.6,347.1 516.6,345.8 512.6,344.5 508.7,343.0 504.9,341.4 501.2,339.8 497.4,338.1 493.7,336.5 490.0,334.8 486.3,333.1 482.6,331.4M815.3,531.0 811.5,529.4 807.8,527.8 804.0,526.1 800.2,524.6 796.4,523.0 792.6,521.4 788.8,519.8 785.0,518.2 781.2,516.6 777.4,515.0 773.6,513.5 769.7,512.0 765.9,510.5 762.0,508.9 758.1,507.4 754.2,506.0 750.3,504.6 746.4,503.2 742.4,501.8 738.5,500.4 734.6,499.0 730.7,497.5 726.9,495.9 723.1,494.3 719.4,492.7 715.6,491.1 711.7,489.5 707.8,488.1 704.2,486.2 700.6,484.4 696.9,482.7 693.2,481.0 689.4,479.3 685.7,477.7 682.0,475.9 678.4,474.1 674.9,472.1 671.5,470.0 668.3,467.6 665.2,465.1 662.0,462.7 658.8,460.3 655.7,457.9 652.5,455.5 649.3,453.1 646.1,450.6 643.0,448.1 639.9,445.6 636.9,442.9 634.0,440.2 631.2,437.3 628.4,434.3 625.6,431.4 622.9,428.4 620.1,425.5 617.2,422.7 614.3,419.9 611.4,417.1 608.4,414.5 605.4,411.8 602.4,409.2 599.4,406.5 596.4,403.8 593.5,401.1 590.5,398.4 587.6,395.6 584.7,392.9 581.7,390.2 578.7,387.6 575.6,385.1 572.4,382.6 569.2,380.2 566.0,377.8 562.8,375.5 559.6,373.1 556.3,370.8 553.0,368.6 549.7,366.3 546.4,364.1 543.0,362.0 539.6,359.9 536.0,358.0 532.4,356.2 528.7,354.4 525.0,352.8 521.2,351.1 517.5,349.5 513.7,347.8 510.0,346.1 506.4,344.2 502.9,342.3 499.4,340.3 496.0,338.2 492.7,336.0 489.3,333.8M815.3,531.0 811.6,529.3 807.9,527.6 804.2,525.9 800.5,524.2 796.8,522.5 793.0,520.8 789.3,519.1 785.5,517.5 781.7,515.8 778.0,514.2 774.1,512.7 770.2,511.2 766.4,509.7 762.7,508.0 758.9,506.3 755.2,504.6 751.5,502.9 747.8,501.2 744.0,499.6 740.1,498.1 736.2,496.7 732.3,495.3 728.3,494.0 724.3,492.7 720.2,491.4 716.2,490.1 712.1,488.9 708.1,487.6 704.5,485.8 700.9,483.9 697.3,482.0 693.8,480.0 690.3,478.0 686.8,476.0 683.3,474.1 679.9,472.0 676.4,470.0 673.0,467.9 669.7,465.6 666.5,463.3 663.1,461.0 659.8,458.8 656.5,456.5 653.2,454.3 650.0,452.0 646.8,449.6 643.6,447.2 640.4,444.8 637.3,442.3 634.2,439.8 631.1,437.2 628.0,434.7 624.9,432.1 621.8,429.6 618.7,427.1 615.6,424.6 612.5,422.1 609.4,419.5 606.4,416.9 603.4,414.3 600.4,411.5 597.6,408.7 594.7,405.9 591.9,403.0 589.1,400.0 586.4,397.0 583.6,394.0 580.9,391.0 578.1,388.1 575.3,385.1 572.5,382.2 569.7,379.4 566.8,376.5 564.0,373.6 561.2,370.7 558.4,367.8 555.6,364.8 552.9,361.8 550.3,358.7 547.7,355.5M815.3,531.0 811.8,529.0 808.3,527.0 804.8,525.0 801.3,523.0 797.8,521.0 794.3,519.0 790.8,517.0 787.3,515.1 783.8,513.1 780.2,511.2 776.6,509.4 772.9,507.6 769.3,505.8 765.7,503.9 762.2,502.0 758.6,500.1 755.1,498.1 751.7,496.1 748.2,494.0 744.9,491.8 741.5,489.6 738.2,487.4 734.9,485.1 731.7,482.8 728.5,480.4 725.2,478.1 722.0,475.7 718.8,473.4 715.7,470.8 712.6,468.3 709.5,465.8 706.3,463.3 703.2,460.8 700.1,458.3 696.9,455.9 694.0,453.2 691.0,450.5 688.0,447.8 685.0,445.1 682.0,442.5 679.0,439.9 675.9,437.3 672.8,434.8 669.6,432.4 666.4,430.0 663.3,427.6 660.1,425.1 656.9,422.7 653.8,420.2 650.7,417.7 647.6,415.2 644.5,412.6 641.5,410.0 638.4,407.4 635.4,404.8 632.4,402.2 629.4,399.5 626.4,396.8 623.4,394.1 620.5,391.4 617.6,388.6 614.7,385.8 611.9,382.9 609.2,379.9 606.5,376.8 603.8,373.7 601.2,370.6 598.5,367.5 595.8,364.4 593.1,361.4 590.3,358.5 587.4,355.7 584.4,353.0 581.3,350.5 578.1,348.1 574.8,345.8 571.5,343.7 568.0,341.6 564.5,339.6 561.1,337.6 557.6,335.6 554.1,333.6M815.3,531.0 811.5,529.4 807.8,527.8 804.0,526.2 800.2,524.6 796.3,523.1 792.4,521.7 788.5,520.4 784.5,519.1 780.4,517.8 776.4,516.5 772.3,515.4 768.3,514.2 764.2,512.9 760.3,511.5 756.4,510.1 752.5,508.7 748.6,507.2 744.7,505.8 740.8,504.4 736.9,503.0 733.0,501.5 729.1,500.1 725.2,498.6 721.4,497.1 717.6,495.6 713.8,494.0 710.0,492.5 706.1,490.9 702.6,489.0 699.1,487.1 695.5,485.2 691.9,483.4 688.2,481.7 684.5,480.0 680.8,478.3 677.1,476.6 673.4,474.9 669.9,473.0 666.6,470.8 663.3,468.6 660.0,466.3 656.7,464.1 653.4,461.9 650.1,459.6 646.9,457.2 643.7,454.8 640.6,452.3 637.6,449.7 634.7,446.9 631.9,444.1 629.2,441.0 626.6,437.9 624.0,434.8 621.3,431.7 618.6,428.7 615.8,425.7 613.0,422.9 610.0,420.2 607.0,417.7 603.8,415.3 600.6,412.9 597.3,410.7 594.0,408.4 590.7,406.3 587.3,404.1 584.0,401.9 580.7,399.6 577.4,397.4 574.1,395.2 570.8,393.0 567.5,390.7 564.3,388.4 561.1,386.0 558.1,383.4 555.2,380.7 552.4,377.8 549.8,374.6 547.3,371.3 545.0,367.7 542.8,364.0 540.7,360.2 538.6,356.3 536.5,352.5 534.4,348.7 532.2,345.0 530.0,341.3 527.7,337.7 525.4,334.2 523.0,330.7 520.7,327.3 518.3,323.8 515.9,320.4 513.4,317.0 510.9,313.7 508.2,310.7 505.4,307.9 502.4,305.2 499.4,302.6M815.3,531.0 811.5,529.4 807.7,527.8 803.9,526.3 800.0,524.8 796.2,523.3 792.3,521.8 788.4,520.3 784.5,518.8 780.7,517.3 776.9,515.7 773.0,514.2 769.2,512.7 765.4,511.1 761.7,509.4 757.9,507.8 754.2,506.2 750.4,504.6 746.5,503.1 742.7,501.6 738.8,500.1 734.9,498.7 731.0,497.2 727.2,495.6 723.4,494.0 719.6,492.4 715.9,490.7 712.2,489.1 708.4,487.4 705.0,485.3 701.5,483.3 698.0,481.4 694.4,479.5 690.7,477.8 687.0,476.1 683.3,474.4 679.6,472.7 676.0,470.9 672.5,468.9 669.2,466.6 666.0,464.2 662.8,461.8 659.7,459.3 656.6,456.9 653.4,454.4 650.2,452.0 647.0,449.7 643.7,447.5 640.3,445.3 636.9,443.2 633.5,441.1 630.1,439.0 626.8,436.8 623.5,434.5 620.3,432.1 617.2,429.6 614.2,427.0 611.2,424.2 608.4,421.4 605.5,418.6 602.7,415.7 599.9,412.8 597.0,410.0 594.1,407.2 591.2,404.4 588.3,401.7 585.3,399.0 582.4,396.2 579.5,393.5 576.6,390.7 573.7,387.9 570.9,385.0 568.0,382.2 565.2,379.3 562.3,376.5 559.4,373.7 556.4,371.0 553.5,368.4 550.4,365.8 547.3,363.2 544.2,360.7 541.1,358.2 538.0,355.7 535.0,353.1 532.0,350.5 529.0,347.8 526.1,345.0 523.3,342.2 520.4,339.3 517.6,336.4 514.8,333.5M815.3,531.0 811.4,529.5 807.6,528.0 803.7,526.5 799.9,524.9 796.0,523.4 792.2,521.8 788.4,520.3 784.6,518.7 780.8,517.1 777.1,515.4 773.2,514.0 769.3,512.5 765.3,511.1 761.4,509.7 757.4,508.4 753.3,507.1 749.2,505.9 745.1,504.7 741.0,503.5 737.0,502.3 733.0,500.9 729.1,499.5 725.2,498.0 721.4,496.5 717.5,495.0 713.5,493.6 709.5,492.3 705.4,491.1 701.7,489.4 698.0,487.7 694.2,486.1 690.5,484.4 686.8,482.6 683.2,480.8 679.6,478.9 676.1,477.0 672.6,475.0 669.3,472.8 666.1,470.3 663.0,467.8 659.8,465.3 656.8,462.8 653.7,460.2 650.8,457.5 647.9,454.6 645.1,451.7 642.4,448.7 639.7,445.6 636.9,442.6 634.1,439.7 631.3,436.8 628.4,434.1 625.4,431.4 622.3,428.9 619.1,426.4 616.0,424.0 612.8,421.6 609.6,419.1 606.5,416.7 603.3,414.2 600.1,411.8 596.9,409.4 593.7,407.0 590.5,404.7 587.2,402.4 584.0,400.1 580.8,397.7 577.7,395.2 574.6,392.6 571.7,389.8 568.8,387.0 565.9,384.2 563.1,381.3 560.3,378.4 557.4,375.6 554.4,372.9 551.4,370.3 548.3,367.7M815.3,531.0 812.0,528.8 808.7,526.6 805.3,524.4 802.0,522.2 798.8,520.0 795.5,517.7 792.3,515.4 789.1,513.1 785.9,510.7 782.7,508.4 779.4,506.2 776.1,503.9 772.9,501.7 769.6,499.4 766.4,497.1 763.1,494.8 759.9,492.5 756.7,490.1 753.6,487.7 750.4,485.3 747.3,482.9 744.1,480.5 740.9,478.2 737.7,475.9 734.4,473.6 731.1,471.4 727.8,469.3 724.4,467.1 721.2,464.9 717.9,462.6 714.7,460.2 711.6,457.8 708.6,455.3 705.5,452.7 702.5,450.1 699.6,447.3 696.8,444.5 693.9,441.8 691.0,439.0 688.0,436.4 685.1,433.7 682.1,431.1 679.2,428.4 676.3,425.6 673.5,422.7 670.7,419.8 668.1,416.7 665.5,413.5 663.0,410.3 660.5,407.0 657.9,403.8 655.3,400.7 652.6,397.7 650.0,394.6 647.2,391.7 644.5,388.7 641.7,385.7 639.0,382.8 636.3,379.8 633.5,376.9 630.8,373.9 628.0,371.0 625.2,368.2 622.3,365.4 619.3,362.8 616.3,360.2 613.2,357.8 610.0,355.4 606.8,353.0 603.6,350.7 600.3,348.4 597.1,346.1 593.9,343.8 590.7,341.4 587.6,339.1 584.4,336.7 581.1,334.4 577.9,332.1 574.6,329.9 571.3,327.7 568.0,325.6 564.6,323.4 561.3,321.2 558.0,319.0 554.8,316.7 551.6,314.3 548.5,311.8 545.5,309.3 542.5,306.6 539.5,304.0 536.5,301.4M815.3,531.0 811.6,529.3 808.0,527.5 804.4,525.8 800.7,524.0 797.0,522.3 793.3,520.6 789.6,519.0 785.9,517.4 782.1,515.7 778.4,514.1 774.5,512.7 770.7,511.2 766.8,509.8 763.0,508.3 759.1,506.8 755.3,505.3 751.4,503.9 747.5,502.4 743.6,501.1 739.7,499.7 735.7,498.3 731.8,497.0 727.9,495.6 724.0,494.1 720.1,492.7 716.3,491.2 712.5,489.7 708.8,488.1 705.3,486.0 702.1,483.8 698.9,481.4 695.7,479.0 692.6,476.6 689.5,474.1 686.4,471.7 683.2,469.2 680.1,466.8 677.0,464.4 674.0,461.7 671.0,459.2 667.9,456.6 664.8,454.1 661.8,451.6 658.7,449.0 655.7,446.5 652.6,444.0 649.5,441.5 646.3,439.1 643.1,436.8 639.9,434.5 636.6,432.3 633.3,430.0 630.1,427.8 626.8,425.6 623.5,423.3 620.3,421.0 617.0,418.8 613.8,416.5 610.5,414.2 607.3,411.9 604.1,409.5 601.0,407.0 598.0,404.4 595.1,401.7 592.3,398.9 589.5,395.9 586.8,393.0 584.1,390.0 581.3,387.1 578.5,384.2 575.6,381.4 572.8,378.6 570.0,375.7 567.3,372.7 564.7,369.5 562.3,366.2 559.8,362.9 557.5,359.4 555.1,355.9 552.8,352.5 550.4,349.0 548.0,345.7M815.3,531.0 811.6,529.3 807.9,527.6 804.2,525.9 800.5,524.3 796.7,522.7 793.0,521.1 789.2,519.5 785.4,518.0 781.6,516.4 777.8,514.9 773.8,513.5 769.9,512.1 766.1,510.6 762.3,509.1 758.5,507.5 754.7,505.9 750.9,504.4 747.1,502.8 743.3,501.3 739.4,499.9 735.5,498.4 731.6,497.0 727.8,495.5 724.0,493.9 720.3,492.3 716.6,490.6 713.0,488.8 709.4,486.9 706.2,484.6 703.1,482.1 700.1,479.5 697.0,477.0 693.9,474.5 690.8,472.1 687.6,469.7 684.4,467.3 681.3,464.9 678.1,462.5 675.1,459.9 672.0,457.4 669.0,454.8 665.9,452.3 662.9,449.7 659.8,447.2 656.8,444.7 653.7,442.1 650.6,439.6 647.4,437.2 644.2,434.9 641.0,432.6 637.7,430.4 634.3,428.3 630.9,426.2 627.4,424.2 624.0,422.2 620.6,420.1 617.2,418.0 613.9,415.8 610.7,413.5 607.5,411.0 604.5,408.5 601.5,405.8 598.6,403.1 595.7,400.3 592.9,397.5 590.0,394.7 587.1,392.0 584.1,389.3 581.2,386.7 578.2,384.0 575.2,381.4 572.2,378.8 569.2,376.1 566.3,373.4 563.4,370.6 560.5,367.9 557.6,365.1 554.8,362.3 551.9,359.5 548.9,356.8 545.9,354.2 542.8,351.8 539.6,349.4 536.3,347.2 532.9,345.1 529.4,343.1 525.9,341.2 522.4,339.3 518.9,337.4 515.4,335.4 512.0,333.3 508.6,331.2 505.3,329.0 502.0,326.8M815.3,531.0 811.4,529.5 807.6,528.0 803.7,526.5 799.8,525.0 795.9,523.5 791.9,522.1 788.0,520.8 784.0,519.4 780.0,518.1 776.0,516.8 771.8,515.6 767.7,514.4 763.7,513.2 759.6,511.9 755.7,510.5 751.7,509.2 747.7,507.9 743.6,506.6 739.4,505.5 735.2,504.4 730.9,503.5 726.6,502.6 722.3,501.7 718.0,500.7 713.7,499.8 709.4,498.8 705.2,497.8 701.0,496.7 697.4,494.8 693.9,492.9 690.3,491.0 686.7,489.1 683.2,487.2 679.5,485.4 675.9,483.6 672.2,481.8 668.5,480.0 665.0,478.1 661.7,475.8 658.4,473.6 655.1,471.2 651.9,468.9 648.8,466.4 645.7,463.9 642.6,461.3 639.6,458.6 636.7,455.9 633.7,453.1 630.8,450.3 627.9,447.6 625.0,444.7 622.2,441.9 619.3,439.0 616.4,436.1 613.6,433.3 610.8,430.4 608.0,427.4 605.2,424.4 602.5,421.4 599.8,418.3 597.1,415.2 594.5,412.1 591.8,409.0 589.0,406.0 586.3,403.0 583.5,400.1 580.6,397.2 577.7,394.5 574.7,391.8 571.7,389.1 568.6,386.6 565.5,384.1 562.3,381.7 559.1,379.3 555.8,377.1 552.4,374.9 549.0,372.8 545.5,370.7 542.0,368.7 538.5,366.8 534.9,364.8 531.4,362.9 527.8,361.0 524.3,359.0 520.9,356.8 517.6,354.6 514.4,352.3 511.2,349.8 508.2,347.1 505.3,344.4 502.4,341.5 499.7,338.5 497.0,335.4 494.4,332.2 491.9,328.9 489.4,325.6 486.9,322.2 484.5,318.7M815.3,531.0 811.5,529.4 807.8,527.7 804.1,526.0 800.3,524.3 796.7,522.6 793.0,520.9 789.3,519.2 785.5,517.5 781.7,515.9 777.9,514.4 773.9,513.0 770.0,511.6 766.1,510.1 762.3,508.5 758.6,506.8 755.0,505.0 751.3,503.2 747.6,501.5 743.7,500.0 739.8,498.6 735.7,497.4 731.6,496.3 727.4,495.2 723.2,494.1 719.1,493.0 714.9,491.9 710.8,490.7 706.6,489.6 702.9,488.0 699.1,486.3 695.4,484.7 691.5,483.1 687.7,481.6 683.9,480.0 680.1,478.5 676.3,476.8 672.7,475.0 669.2,473.0 666.0,470.6 662.8,468.3 659.6,465.9 656.4,463.5 653.2,461.1 650.0,458.6 646.9,456.1 643.9,453.5 641.0,450.7 638.2,447.8 635.4,444.8 632.7,441.8 630.1,438.7 627.4,435.6 624.6,432.7 621.6,430.0 618.6,427.4 615.5,424.9 612.3,422.5 609.1,420.1 606.0,417.6 602.9,415.1 599.8,412.5 596.9,409.8 593.9,407.1 591.0,404.3 588.0,401.7 584.9,399.1 581.8,396.7 578.6,394.3 575.4,391.9 572.2,389.5 569.1,387.0 566.1,384.3 563.2,381.5 560.4,378.5 557.7,375.5 555.1,372.4 552.4,369.3 549.7,366.2 547.0,363.2 544.2,360.3 541.4,357.4 538.5,354.5 535.7,351.6 532.9,348.7 530.1,345.7 527.4,342.8 524.6,339.9 521.7,337.0 518.8,334.2 515.8,331.6 512.7,329.0 509.6,326.6 506.3,324.3M815.3,531.0 811.5,529.5 807.7,527.9 803.9,526.3 800.1,524.7 796.4,523.1 792.5,521.6 788.6,520.1 784.7,518.8 780.7,517.5 776.7,516.2 772.6,515.1 768.4,514.0 764.3,512.9 760.2,511.7 756.1,510.5 752.1,509.2 748.1,508.0 744.1,506.6 740.2,505.2 736.3,503.7 732.6,502.1 728.8,500.5 725.1,498.9 721.3,497.2 717.6,495.6 713.8,494.0 709.9,492.5 706.1,491.0 702.6,489.0 699.3,486.9 695.9,484.7 692.5,482.6 689.1,480.5 685.6,478.6 681.9,476.9 678.1,475.3 674.1,474.0 670.0,472.8 666.1,471.5 662.1,470.1 658.2,468.7 654.4,467.2 650.6,465.6 647.0,463.7 643.6,461.7 640.2,459.6 636.9,457.3 633.7,454.9 630.6,452.4 627.6,449.8 624.8,447.0 621.9,444.1 619.2,441.2 616.4,438.3 613.6,435.4 610.8,432.6 607.9,429.8 604.9,427.1 602.0,424.4 599.0,421.7 596.1,419.0 593.2,416.2 590.3,413.4 587.4,410.6 584.5,407.9 581.4,405.4 578.2,403.0 574.9,400.8 571.5,398.8 568.0,396.7 564.6,394.7 561.3,392.5 558.1,390.1 555.1,387.5 552.2,384.7 549.5,381.7 546.8,378.7 544.2,375.5 541.6,372.3 539.0,369.2 536.4,366.0 533.8,362.8 531.2,359.6 528.6,356.5 525.9,353.5 523.1,350.6 520.3,347.8 517.3,345.1 514.2,342.5 511.1,340.1 508.0,337.6 504.8,335.2 501.7,332.8 498.5,330.3 495.4,327.8 492.3,325.4 489.1,323.1 485.8,320.8M815.3,531.0 811.4,529.6 807.5,528.1 803.7,526.6 799.8,525.1 796.0,523.6 792.1,522.2 788.2,520.7 784.3,519.3 780.3,518.0 776.4,516.6 772.3,515.5 768.2,514.2 764.3,512.9 760.4,511.5 756.5,510.0 752.8,508.4 749.0,506.8 745.2,505.2 741.3,503.7 737.5,502.3 733.6,500.8 729.7,499.4 725.8,497.9 722.0,496.4 718.2,494.8 714.4,493.3 710.6,491.7 706.8,490.2 703.2,488.3 699.7,486.4 696.1,484.5 692.5,482.8 688.8,481.0 685.1,479.3 681.5,477.5 677.9,475.7 674.4,473.7 671.0,471.6 667.9,469.2 664.7,466.8 661.5,464.4 658.2,462.2 654.9,460.0 651.5,457.9 648.0,455.9 644.6,453.9 641.2,451.8 637.8,449.6 634.5,447.4 631.3,445.0 628.2,442.5 625.2,440.0 622.2,437.4 619.1,434.8 616.1,432.3 613.0,429.8 609.8,427.3 606.7,424.8 603.7,422.3 600.7,419.7 597.8,416.9 594.9,414.1 592.2,411.1 589.4,408.1 586.7,405.1 584.0,402.1 581.3,399.2 578.4,396.3 575.6,393.5 572.7,390.7 569.7,388.0 566.8,385.3 563.9,382.5 561.0,379.7 558.2,376.9 555.5,373.9 552.9,370.8 550.3,367.6 547.7,364.4 545.2,361.2 542.6,358.0 540.1,354.7 537.5,351.5 535.1,348.1 532.6,344.8 530.2,341.3 527.9,337.8 525.6,334.2 523.3,330.7 521.0,327.2M815.3,531.0 812.0,528.7 808.7,526.5 805.4,524.3 802.0,522.0 798.7,519.9 795.3,517.7 791.9,515.5 788.5,513.4 785.1,511.3 781.8,509.1 778.4,506.8 775.2,504.6 772.0,502.2 768.8,499.7 765.8,497.1 762.7,494.6 759.5,492.1 756.4,489.6 753.2,487.2 750.0,484.8 746.8,482.4 743.5,480.1 740.4,477.7 737.2,475.2 734.1,472.7 731.0,470.1 727.9,467.6 724.9,465.0 721.8,462.4 718.7,459.9 715.6,457.4 712.4,455.0 709.2,452.6 705.9,450.4 702.5,448.2 699.3,445.8 696.1,443.4 693.0,440.9 689.8,438.5 686.7,436.0 683.5,433.5 680.4,431.0 677.4,428.4 674.3,425.9 671.2,423.3 668.2,420.7 665.1,418.1 662.0,415.6 658.9,413.0 655.9,410.4 652.8,407.9 649.7,405.3 646.7,402.7 643.8,399.9 640.9,397.1 638.1,394.2 635.4,391.2 632.6,388.1 630.0,385.0 627.3,381.9 624.6,378.9 621.9,375.8 619.1,372.9 616.3,370.0 613.4,367.1 610.6,364.2 607.7,361.4 604.9,358.5 602.0,355.6 599.2,352.7 596.4,349.8 593.5,347.0 590.5,344.3 587.5,341.7 584.3,339.3 581.1,337.0 577.7,334.8 574.2,332.8 570.5,331.0 566.8,329.4 562.9,327.8 559.0,326.4 555.0,325.1 550.9,323.8M815.3,531.0 811.4,529.5 807.6,528.0 803.8,526.4 799.9,524.8 796.1,523.3 792.3,521.7 788.4,520.2 784.5,518.8 780.6,517.4 776.7,516.0 772.6,514.7 768.6,513.4 764.6,512.1 760.7,510.6 756.8,509.1 753.0,507.6 749.1,506.1 745.2,504.7 741.2,503.4 737.2,502.1 733.1,500.8 729.1,499.5 725.1,498.2 721.1,496.8 717.2,495.4 713.2,494.0 709.3,492.7 705.3,491.3 701.7,489.5 698.0,487.7 694.4,485.9 690.6,484.2 686.9,482.6 683.1,480.9 679.4,479.2 675.8,477.4 672.2,475.5 668.8,473.4 665.6,471.0 662.4,468.6 659.2,466.2 656.0,463.8 652.8,461.5 649.5,459.2 646.2,457.0 642.8,454.8 639.5,452.6 636.2,450.4 632.8,448.2 629.4,446.0 626.1,443.7 622.9,441.5 619.6,439.2 616.3,436.9 613.0,434.6 609.8,432.2 606.6,429.8 603.5,427.3 600.4,424.8 597.3,422.3 594.3,419.7 591.2,417.1 588.2,414.5 585.1,412.0 582.0,409.5 578.8,407.0 575.7,404.5 572.6,402.0 569.5,399.5 566.4,397.0 563.4,394.4 560.4,391.7 557.4,389.0 554.4,386.3 551.5,383.6 548.5,380.9 545.5,378.2 542.5,375.5 539.5,372.9 536.5,370.2 533.6,367.4 530.9,364.4 528.2,361.3 525.5,358.2 522.9,355.1 520.2,352.0 517.5,349.0 514.7,346.0 511.8,343.2 508.9,340.5 505.9,337.9 502.8,335.3 499.7,332.7M815.3,531.0 811.6,529.3 807.9,527.6 804.1,526.0 800.4,524.3 796.7,522.6 793.0,520.9 789.3,519.2 785.6,517.4 782.0,515.6 778.4,513.8 774.6,512.1 770.8,510.5 767.1,509.0 763.3,507.4 759.5,505.8 755.7,504.1 752.0,502.5 748.3,500.8 744.6,499.0 740.9,497.3 737.2,495.6 733.5,493.9 729.8,492.3 726.0,490.7 722.1,489.1 718.3,487.6 714.4,486.2 710.6,484.6 707.0,482.7 703.6,480.6 700.3,478.4 697.0,476.2 693.7,473.9 690.5,471.6 687.2,469.2 684.0,466.8 680.8,464.5 677.7,462.1 674.6,459.5 671.5,457.0 668.4,454.5 665.3,451.9 662.3,449.3 659.3,446.7 656.3,444.0 653.4,441.3 650.5,438.5 647.5,435.8 644.5,433.2 641.5,430.6 638.4,428.0 635.3,425.5 632.2,423.0 629.1,420.5 626.1,417.9 623.1,415.3 620.1,412.6 617.2,409.8 614.4,406.9 611.5,404.1 608.7,401.2 605.8,398.4 602.9,395.7 599.9,393.0 596.9,390.4 593.9,387.8 590.8,385.2 587.8,382.5 584.9,379.9 581.9,377.1 579.1,374.3 576.3,371.4 573.5,368.5 570.7,365.6 567.8,362.7 565.0,359.9 562.0,357.1 559.1,354.5 556.1,351.8 553.1,349.2 550.1,346.5 547.1,343.8 544.2,341.1 541.3,338.3 538.4,335.5 535.5,332.7 532.7,329.9 529.7,327.1 526.8,324.4 523.7,321.8 520.7,319.3 517.6,316.8M815.3,531.0 811.7,529.2 808.0,527.4 804.4,525.6 800.8,523.8 797.2,522.0 793.6,520.2 790.0,518.3 786.4,516.5 782.7,514.8 779.0,513.1 775.2,511.5 771.3,510.1 767.4,508.6 763.6,507.1 759.7,505.6 755.9,504.1 752.1,502.6 748.3,501.0 744.4,499.5 740.5,498.1 736.6,496.6 732.7,495.2 728.8,493.8 724.9,492.4 721.0,490.9 717.2,489.4 713.4,487.8 709.6,486.2 706.3,484.1 703.0,481.8 699.7,479.5 696.5,477.2 693.3,474.9 690.0,472.6 686.8,470.3 683.6,467.8 680.5,465.4 677.4,462.9 674.5,460.1 671.6,457.3 668.7,454.6 665.7,451.9 662.7,449.3 659.6,446.8 656.4,444.5 653.0,442.3 649.6,440.2 646.2,438.2 642.6,436.3 639.1,434.3 635.6,432.3 632.2,430.2 628.9,428.0 625.7,425.7 622.6,423.1 619.6,420.5 616.7,417.8 613.8,415.0 610.9,412.2 608.1,409.4 605.2,406.6 602.4,403.7 599.7,400.7 597.0,397.7 594.4,394.5 591.9,391.2 589.4,387.8 587.0,384.4 584.7,380.9 582.3,377.4 579.9,374.0 577.4,370.8 574.7,367.6 572.0,364.7 569.1,361.8 566.2,359.1 563.3,356.4 560.3,353.7 557.4,351.0 554.4,348.3 551.6,345.5 548.7,342.7 545.7,340.0 542.8,337.3 539.7,334.7 536.6,332.3 533.4,329.9 530.1,327.6 526.9,325.4 523.6,323.0 520.5,320.6 517.4,318.0 514.5,315.2 511.8,312.3 509.2,309.1 506.7,305.8 504.2,302.4 501.8,299.0 499.4,295.6M815.3,531.0 811.5,529.4 807.8,527.8 804.0,526.1 800.3,524.5 796.6,522.8 792.9,521.0 789.3,519.2 785.7,517.3 782.1,515.4 778.6,513.5 774.9,511.8 771.2,510.1 767.4,508.5 763.6,506.9 759.8,505.3 755.9,503.9 752.0,502.5 748.0,501.1 744.1,499.7 740.2,498.2 736.3,496.7 732.5,495.2 728.8,493.5 725.1,491.7 721.5,489.9 718.0,488.0 714.5,486.0 711.0,484.0 707.8,481.6 704.7,479.1 701.6,476.6 698.4,474.2 695.2,471.8 692.0,469.4 688.8,467.0 685.7,464.5 682.6,462.0 679.6,459.4 676.8,456.5 673.9,453.7 671.1,450.9 668.2,448.1 665.3,445.3 662.4,442.5 659.4,439.8 656.4,437.2 653.3,434.7 650.1,432.3 646.9,429.9 643.6,427.7 640.2,425.5 636.8,423.4 633.4,421.4 629.9,419.4 626.4,417.4 623.0,415.3 619.6,413.2 616.2,411.0 613.0,408.7 609.8,406.3 606.7,403.7 603.8,401.0 600.9,398.2 598.2,395.2 595.5,392.1 592.9,389.0 590.3,385.8 587.7,382.6 585.2,379.3 582.6,376.1 580.0,372.9 577.4,369.8 574.7,366.8 571.9,363.8 569.1,360.9 566.2,358.1 563.3,355.4 560.2,352.7 557.2,350.2 554.1,347.6 551.0,345.1 547.9,342.6 544.8,340.1 541.7,337.6 538.6,335.0 535.6,332.4 532.7,329.7 529.8,326.9 527.0,324.0 524.2,321.0 521.6,317.9 518.9,314.8 516.4,311.6M815.3,531.0 811.7,529.2 808.1,527.4 804.4,525.6 800.8,523.9 797.1,522.1 793.5,520.3 789.8,518.6 786.2,516.9 782.5,515.2 778.7,513.5 774.9,512.0 771.0,510.5 767.2,509.0 763.4,507.4 759.7,505.8 756.0,504.1 752.2,502.5 748.4,500.9 744.6,499.4 740.7,498.0 736.8,496.6 732.8,495.3 728.8,493.9 724.9,492.6 721.0,491.1 717.1,489.6 713.4,488.1 709.6,486.4 706.2,484.4 702.9,482.2 699.5,480.0 696.1,477.9 692.7,475.9 689.2,474.0 685.6,472.1 682.1,470.1 678.7,468.1 675.3,465.9 672.2,463.4 669.2,460.9 666.2,458.2 663.2,455.6 660.2,452.9 657.2,450.3 654.2,447.7 651.2,445.1 648.1,442.6 644.9,440.2 641.8,437.8 638.6,435.3 635.5,432.8 632.5,430.3 629.5,427.6 626.6,424.9 623.7,422.2 620.8,419.4 617.9,416.6 615.1,413.8 612.2,411.0 609.4,408.1 606.6,405.2 603.8,402.2 601.2,399.2 598.6,396.0 596.0,392.8 593.6,389.4 591.1,386.1 588.7,382.7 586.3,379.3 583.8,376.0 581.2,372.9 578.5,369.8 575.7,366.9 572.9,364.0 570.0,361.2 567.1,358.5 564.2,355.7 561.3,353.0 558.4,350.2 555.5,347.5 552.5,344.8 549.5,342.2 546.4,339.7 543.3,337.3 540.0,335.0 536.7,332.8 533.3,330.7 529.8,328.7 526.4,326.7 522.9,324.7 519.5,322.6M815.3,531.0 811.8,529.1 808.2,527.2 804.7,525.3 801.1,523.4 797.6,521.5 794.0,519.6 790.5,517.7 786.9,515.8 783.3,514.0 779.7,512.2 776.0,510.5 772.3,508.8 768.6,507.2 764.8,505.6 761.1,503.9 757.3,502.3 753.6,500.7 749.8,499.0 746.1,497.3 742.5,495.6 738.8,493.8 735.2,492.0 731.7,490.1 728.2,488.1 724.7,486.1 721.3,484.1 717.8,482.1 714.4,480.1 711.1,477.8 707.9,475.4 704.7,473.1 701.4,470.9 698.1,468.6 694.9,466.3 691.6,464.1 688.5,461.6 685.4,459.1 682.4,456.5 679.5,453.7 676.7,450.8 673.9,447.9 671.2,444.9 668.4,442.0 665.7,439.0 662.9,436.0 660.2,433.1 657.4,430.2 654.6,427.3 651.7,424.5 648.8,421.7 645.9,419.0 642.9,416.4 639.9,413.8 636.9,411.2 633.8,408.6 630.8,406.1 627.7,403.5 624.7,401.0 621.6,398.4 618.6,395.8 615.6,393.2 612.6,390.5 609.6,387.9 606.6,385.2 603.7,382.6 600.7,379.9 597.8,377.2 594.8,374.5 591.8,371.8 588.9,369.1 585.9,366.4 583.0,363.7 580.1,361.0 577.1,358.3 574.2,355.6 571.3,352.8 568.5,350.0 565.6,347.1 562.8,344.3 560.0,341.4 557.2,338.5 554.5,335.5 551.7,332.5 549.0,329.6 546.3,326.5 543.6,323.5 540.9,320.5M815.3,531.0 811.7,529.1 808.2,527.3 804.6,525.4 801.0,523.6 797.5,521.7 794.0,519.8 790.4,517.8 786.9,515.9 783.4,514.0 779.8,512.2 776.1,510.4 772.4,508.7 768.7,507.1 765.1,505.4 761.4,503.7 757.7,502.0 754.0,500.2 750.4,498.5 746.7,496.7 743.1,494.9 739.5,493.1 735.9,491.2 732.3,489.5 728.7,487.7 725.0,485.9 721.3,484.3 717.5,482.7 713.7,481.2 710.0,479.5 706.4,477.7 702.8,475.9 699.2,474.1 695.6,472.3 692.0,470.4 688.5,468.5 685.1,466.4 681.7,464.2 678.5,461.9 675.4,459.4 672.4,456.8 669.4,454.2 666.3,451.7 663.3,449.1 660.3,446.5 657.2,444.0 654.2,441.4 651.3,438.7 648.3,436.0 645.4,433.3 642.6,430.4 639.8,427.5 637.0,424.6 634.3,421.6 631.6,418.5 629.0,415.5 626.3,412.4 623.7,409.3 621.0,406.2 618.4,403.1 615.7,400.1 613.0,397.0 610.4,394.0 607.7,390.9 605.0,387.9 602.3,384.9 599.5,381.9 596.8,379.0 594.0,376.1 591.2,373.3 588.3,370.5 585.4,367.7 582.4,365.1 579.4,362.5 576.3,360.0 573.2,357.4 570.1,355.0 567.0,352.5 563.9,350.0 560.8,347.5 557.7,345.0 554.6,342.6 551.5,340.1 548.4,337.7 545.2,335.3 541.9,333.1 538.6,330.8 535.3,328.7 531.9,326.5 528.6,324.4 525.2,322.2 521.9,320.0M815.3,531.0 811.5,529.4 807.8,527.7 804.0,526.1 800.3,524.5 796.5,522.9 792.7,521.3 788.9,519.7 785.1,518.2 781.2,516.7 777.4,515.1 773.5,513.8 769.5,512.4 765.6,511.0 761.7,509.5 757.9,508.0 754.0,506.5 750.1,505.1 746.2,503.6 742.3,502.2 738.4,500.8 734.5,499.4 730.6,498.0 726.7,496.5 723.0,494.8 719.3,493.1 715.6,491.4 712.0,489.5 708.5,487.6 705.3,485.2 702.1,482.9 698.8,480.6 695.5,478.4 692.1,476.3 688.5,474.4 684.8,472.7 681.1,471.0 677.3,469.5 673.5,467.8 669.9,466.0 666.3,464.2 662.7,462.3 659.2,460.5 655.7,458.5 652.2,456.5 648.8,454.4 645.4,452.3 642.0,450.2 638.6,448.1 635.2,446.0 631.8,443.9 628.4,441.8 625.0,439.6 621.7,437.4 618.5,435.1 615.4,432.6 612.3,430.0 609.5,427.2 606.7,424.2 604.1,421.1 601.6,417.8 599.2,414.4 596.8,410.8 594.5,407.3 592.2,403.7 589.9,400.1 587.6,396.6 585.2,393.1 582.8,389.8 580.3,386.4 577.8,383.2 575.2,380.0 572.6,376.8 570.0,373.7 567.4,370.5 564.7,367.4 562.1,364.2 559.5,361.1 556.9,357.9"/>
<path d="M359.9,169.5C359.9,170.2 359.7,172.3 359.9,174.0C360.1,175.8 360.5,177.8 361.1,179.7C361.6,181.7 362.5,183.7 363.4,185.5C364.2,187.2 365.2,188.5 366.2,190.0C367.3,191.5 368.5,193.3 369.6,194.6C370.8,195.9 371.9,196.7 373.1,198.0C374.2,199.3 375.4,201.1 376.5,202.6C377.5,204.1 378.3,205.6 379.3,207.1C380.3,208.7 381.3,210.2 382.4,211.7C383.6,213.2 385.1,214.9 386.2,216.3C387.3,217.6 388.1,218.6 389.0,219.7C390.0,220.8 390.8,221.9 391.9,223.0C393.0,224.1 394.7,225.1 395.9,226.4C397.1,227.8 398.3,229.5 399.3,231.0C400.4,232.5 401.3,234.0 402.2,235.6C403.1,237.1 403.7,238.4 404.8,240.1C405.8,241.8 407.2,244.1 408.4,245.8C409.7,247.5 411.1,248.9 412.4,250.4C413.8,251.9 415.0,253.6 416.4,255.0C417.9,256.3 419.5,257.3 421.0,258.4C422.5,259.4 423.9,260.2 425.6,261.2C427.3,262.3 429.4,263.5 431.3,264.7C433.2,265.8 435.1,266.9 437.0,268.1C438.9,269.2 441.0,270.3 442.7,271.5C444.4,272.8 445.7,274.2 447.3,275.5C448.8,276.8 450.3,278.3 451.8,279.5C453.3,280.7 454.9,281.9 456.4,282.9C457.9,284.0 459.4,284.9 461.0,285.8C462.5,286.6 463.8,287.1 465.5,288.1C467.2,289.0 469.3,290.4 471.2,291.5C473.1,292.6 475.0,293.7 476.9,294.9C478.8,296.2 480.7,297.6 482.6,298.9C484.6,300.2 486.5,301.8 488.4,302.9C490.3,304.1 492.1,304.9 494.1,305.8C496.0,306.6 498.1,307.2 500.0,308.0C501.9,308.9 503.8,309.9 505.7,310.9C507.6,311.9 509.5,313.1 511.4,314.3C513.3,315.6 515.2,316.9 517.1,318.3C519.0,319.7 520.9,321.3 522.8,322.9C524.7,324.5 526.6,326.3 528.5,328.0C530.4,329.7 532.3,331.4 534.2,333.2C536.1,335.0 538.1,337.0 540.0,338.9C541.9,340.8 543.8,342.7 545.7,344.6C547.6,346.5 549.5,348.4 551.4,350.3C553.3,352.2 555.7,354.7 557.1,356.0C558.4,357.3 559.0,357.9 559.4,358.3" fill="none" stroke="#ee66ee" stroke-width="4.17" stroke-linejoin="round" stroke-linecap="butt"/>
<path d="M559.4,358.3C559.8,358.7 560.6,359.1 562.2,361.0C563.8,363.0 567.0,367.7 569.1,370.0C571.2,372.3 572.7,372.7 574.8,374.6C576.9,376.5 579.4,379.3 581.6,381.4C583.9,383.5 586.2,385.2 588.5,387.1C590.8,389.0 593.1,390.9 595.3,392.8C597.6,394.7 600.3,396.6 602.2,398.5C604.1,400.4 605.2,402.3 606.8,404.2C608.3,406.1 609.8,408.1 611.3,410.0C612.8,411.9 614.4,413.9 615.9,415.7C617.4,417.5 618.9,419.3 620.5,420.8C622.0,422.3 623.5,423.6 625.0,424.8C626.5,426.0 628.1,427.2 629.6,428.2C631.1,429.3 632.4,430.0 634.2,431.1C635.9,432.1 638.0,433.4 639.9,434.5C641.8,435.6 643.7,436.6 645.6,437.9C647.5,439.3 649.6,440.9 651.3,442.5C653.0,444.1 654.3,445.9 655.8,447.6C657.4,449.3 658.9,451.1 660.4,452.8C661.9,454.4 663.5,456.0 665.0,457.3C666.5,458.7 667.8,459.7 669.5,460.8C671.3,461.8 673.3,462.7 675.3,463.6C677.2,464.6 679.2,465.3 681.0,466.5C682.7,467.6 684.0,468.8 685.5,470.5C687.0,472.1 688.6,474.3 690.1,476.2C691.6,478.1 693.3,480.2 694.7,481.9C696.0,483.6 696.8,485.2 698.1,486.4C699.4,487.7 701.4,488.7 702.6,489.3C703.9,489.9 704.2,489.5 705.7,489.9C707.1,490.3 709.5,491.1 711.4,491.6C713.3,492.2 715.2,492.8 717.1,493.4C719.0,493.9 720.9,494.5 722.8,495.1C724.7,495.6 726.6,496.2 728.5,496.8C730.4,497.4 732.3,497.9 734.2,498.5C736.1,499.1 738.0,499.6 739.9,500.2C741.8,500.8 742.8,501.1 745.6,501.9C748.5,502.8 753.2,504.1 757.0,505.3C760.8,506.6 764.6,507.9 768.4,509.3C772.3,510.8 776.1,512.3 779.9,513.9C783.7,515.5 787.5,517.2 791.3,519.0C795.1,520.8 798.7,522.8 802.7,524.7C806.7,526.7 813.2,530.0 815.3,531.0" fill="none" stroke="#8b008b" stroke-width="4.17" stroke-linejoin="round" stroke-linecap="butt"/>
<path d="M323.4,176.3C323.7,177.3 324.4,179.9 325.1,182.0C325.8,184.1 326.7,186.8 327.4,188.9C328.1,191.0 328.6,192.7 329.1,194.6C329.6,196.5 330.0,198.4 330.3,200.3C330.5,202.2 330.7,204.1 330.8,206.0C331.0,207.9 331.0,209.8 331.1,211.7C331.1,213.6 331.1,215.5 331.1,217.4C331.1,219.3 331.0,221.5 331.1,223.0C331.1,224.5 330.9,225.3 331.4,226.4C331.9,227.6 333.0,228.5 334.2,229.8C335.5,231.2 337.3,232.8 338.8,234.4C340.3,236.0 341.9,237.9 343.4,239.6C344.9,241.2 346.4,242.6 347.9,244.1C349.5,245.6 351.0,247.4 352.5,248.7C354.0,250.0 355.4,250.9 357.1,252.1C358.8,253.3 360.9,254.8 362.8,256.1C364.7,257.4 366.6,258.6 368.5,260.1C370.4,261.6 372.3,263.5 374.2,265.2C376.1,266.9 378.0,268.9 379.9,270.4C381.8,271.9 383.7,273.2 385.6,274.4C387.5,275.5 389.4,276.3 391.3,277.2C393.2,278.2 395.1,279.0 397.0,280.1C398.9,281.1 400.8,282.3 402.7,283.5C404.6,284.7 406.5,286.3 408.4,287.5C410.4,288.7 412.3,289.8 414.2,290.9C416.1,292.1 418.0,293.2 419.9,294.3C421.8,295.5 423.7,296.6 425.6,297.8C427.5,298.9 429.4,300.1 431.3,301.2C433.2,302.2 435.1,303.0 437.0,304.1C438.9,305.1 440.8,306.2 442.7,307.5C444.6,308.7 446.5,310.1 448.4,311.5C450.3,312.8 452.2,314.2 454.1,315.5C456.0,316.7 457.9,317.9 459.8,318.9C461.7,319.8 463.6,320.4 465.5,321.2C467.4,321.9 469.3,322.7 471.2,323.5C473.1,324.2 475.0,324.9 476.9,325.7C478.8,326.6 480.7,327.6 482.6,328.6C484.6,329.5 486.5,330.5 488.4,331.4C490.3,332.4 492.1,333.4 494.1,334.3C496.0,335.3 498.1,336.3 500.0,337.2C501.9,338.0 503.8,338.5 505.7,339.4C507.6,340.4 509.5,341.6 511.4,342.9C513.3,344.1 515.2,345.4 517.1,346.9C519.0,348.3 520.9,349.8 522.8,351.4C524.7,353.0 527.0,355.0 528.5,356.6C530.1,358.2 530.1,358.8 532.0,361.0C533.8,363.3 537.5,367.2 539.6,370.0C541.7,372.8 543.0,375.3 544.5,378.0C546.1,380.7 547.6,383.5 549.1,386.0C550.6,388.5 551.9,390.7 553.3,392.8C554.7,394.9 555.9,396.6 557.4,398.5C559.0,400.4 560.7,402.5 562.5,404.2C564.2,406.0 565.9,407.3 567.9,408.8C570.0,410.3 572.5,411.9 574.8,413.4C577.1,414.9 579.4,416.2 581.6,417.9C583.9,419.7 586.2,421.8 588.5,423.7C590.8,425.6 593.1,427.6 595.3,429.4C597.6,431.1 599.9,432.5 602.2,433.9C604.5,435.4 606.8,436.5 609.0,437.9C611.3,439.3 613.6,440.7 615.9,442.5C618.2,444.3 620.5,446.7 622.7,448.8C625.0,450.9 627.3,453.0 629.6,455.0C631.9,457.1 634.2,459.3 636.4,461.3C638.7,463.3 641.4,465.3 643.3,467.0C645.2,468.7 646.5,470.1 647.9,471.6C649.2,473.1 649.8,474.5 651.3,476.2C652.8,477.9 655.1,480.0 657.0,481.9C658.9,483.8 660.8,485.8 662.7,487.6C664.6,489.4 666.9,491.4 668.4,492.7C669.9,494.0 671.0,494.5 671.8,495.6C672.6,496.6 672.9,497.9 673.2,499.0C673.5,500.1 673.4,501.6 673.5,502.4C673.7,503.2 674.5,502.9 674.3,503.6C674.0,504.3 672.0,506.7 672.0,506.7C672.0,506.8 672.5,504.4 674.3,504.0C676.1,503.6 679.5,504.0 682.8,504.2C686.2,504.4 690.4,504.9 694.2,505.3C698.1,505.8 701.9,506.5 705.7,507.1C709.5,507.6 713.3,508.3 717.1,508.8C720.9,509.2 724.7,509.6 728.5,509.9C732.3,510.2 736.1,510.3 739.9,510.5C743.7,510.7 747.5,510.7 751.3,511.1C755.1,511.4 758.9,512.0 762.7,512.8C766.5,513.5 770.4,514.6 774.2,515.6C778.0,516.7 781.8,517.8 785.6,519.0C789.4,520.3 793.2,521.5 797.0,523.0C800.8,524.6 805.4,526.8 808.4,528.2C811.4,529.5 814.1,530.6 815.3,531.0" fill="none" stroke="#000" stroke-width="4.17" stroke-linejoin="round" stroke-linecap="butt"/>
<circle cx="815.3" cy="531.0" r="2.6" fill="#000"/>
<path class="grid" d="M300.00 1052.4V89.4"/>
<path class="grid" d="M740.40 1052.4V89.4"/>
<path class="grid" d="M1180.70 1052.4V89.4"/>
<path class="grid" d="M1620.35 1052.4V89.4"/>
<path class="grid" d="M80.5 310.40H1621.4"/>
<path class="grid" d="M80.5 538.50H1621.4"/>
<path class="grid" d="M80.5 782.00H1621.4"/>
<path class="grid" d="M80.5 1051.30H1621.4"/>
</g>
<rect x="80.5" y="89.4" width="1540.9" height="963.0" fill="none" stroke="#000" stroke-width="1.1"/>
<!-- text.svg -->
<text class="b t12" x="79.8" y="22" xml:space="preserve">Maximum forecast trajectory duration : 10 days</text>
<text class="b t12" x="79.8" y="41" xml:space="preserve">Intercept distance: 300km</text>
<text class="b t12" x="79.8" y="61" xml:space="preserve">Intercept RW2 (EPS):  30km/h2</text>
<text class="b t12" x="79.8" y="80" xml:space="preserve">Intercept RW2 (HRES): 30km/h2</text>
<text class="b t12" x="1204.9" y="22">Site: Rodrigues</text>
<text class="b t12" x="1204.9" y="41">Forecast date: Thu. 01/05, 12h (UTC)</text>
<text class="b t12" x="1204.9" y="60">Speed function: U10_speed_Helikite_4</text>
<text class="b t12" x="1204.9" y="80">Deployment date: Fri. 02/05, 02h (UTC)</text>
<text class="b" x="850.5" y="62.1" font-size="41.67" text-anchor="middle">Fri. 02/05, 06h (LT)</text>
<text class="b" x="63.4" y="315.8" font-size="20.83" text-anchor="end">10°S</text>
<text class="b" x="63.4" y="543.8" font-size="20.83" text-anchor="end">20°S</text>
<text class="b" x="63.4" y="787.8" font-size="20.83" text-anchor="end">30°S</text>
<text class="b" x="300.6" y="1082.8" font-size="20.83" text-anchor="middle">40°E</text>
<text class="b" x="740.9" y="1082.8" font-size="20.83" text-anchor="middle">60°E</text>
<text class="b" x="1181.2" y="1082.8" font-size="20.83" text-anchor="middle">80°E</text>
<text class="b" x="1619.7" y="1082.8" font-size="20.83" text-anchor="middle">100°E</text>
<!-- colorbar.svg -->
<rect x="1665.5" y="189.50" width="20.0" height="750.00" fill="#08306b"/>
<rect x="1665.5" y="218.35" width="20.0" height="721.15" fill="#083979"/>
<rect x="1665.5" y="247.19" width="20.0" height="692.31" fill="#084387"/>
<rect x="1665.5" y="276.04" width="20.0" height="663.46" fill="#084c95"/>
<rect x="1665.5" y="304.88" width="20.0" height="634.62" fill="#0b559f"/>
<rect x="1665.5" y="333.73" width="20.0" height="605.77" fill="#135fa7"/>
<rect x="1665.5" y="362.58" width="20.0" height="576.92" fill="#1a68ae"/>
<rect x="1665.5" y="391.42" width="20.0" height="548.08" fill="#2171b5"/>
<rect x="1665.5" y="420.27" width="20.0" height="519.23" fill="#2b7bba"/>
<rect x="1665.5" y="449.12" width="20.0" height="490.38" fill="#3484bf"/>
<rect x="1665.5" y="477.96" width="20.0" height="461.54" fill="#3e8ec4"/>
<rect x="1665.5" y="506.81" width="20.0" height="432.69" fill="#4997c9"/>
<rect x="1665.5" y="535.65" width="20.0" height="403.85" fill="#549fcd"/>
<rect x="1665.5" y="564.50" width="20.0" height="375.00" fill="#60a7d2"/>
<rect x="1665.5" y="593.35" width="20.0" height="346.15" fill="#6dafd7"/>
<rect x="1665.5" y="622.19" width="20.0" height="317.31" fill="#7cb7da"/>
<rect x="1665.5" y="651.04" width="20.0" height="288.46" fill="#8abfdd"/>
<rect x="1665.5" y="679.88" width="20.0" height="259.62" fill="#99c7e0"/>
<rect x="1665.5" y="708.73" width="20.0" height="230.77" fill="#a5cde3"/>
<rect x="1665.5" y="737.58" width="20.0" height="201.92" fill="#b2d2e8"/>
<rect x="1665.5" y="766.42" width="20.0" height="173.08" fill="#bdd7ec"/>
<rect x="1665.5" y="795.27" width="20.0" height="144.23" fill="#c7dcef"/>
<rect x="1665.5" y="824.12" width="20.0" height="115.38" fill="#cee0f2"/>
<rect x="1665.5" y="852.96" width="20.0" height="86.54" fill="#d5e5f4"/>
<rect x="1665.5" y="881.81" width="20.0" height="57.69" fill="#dceaf6"/>
<rect x="1665.5" y="910.65" width="20.0" height="28.85" fill="#e3eef9"/>
<rect x="1665.5" y="189.5" width="20.0" height="750.0" fill="none" stroke="#000" stroke-width="1.1"/>
<path d="M1685.5 939.50h4.9" stroke="#000" stroke-width="1.1" fill="none"/>
<text x="1695.7" y="945.20" font-size="13.89">0</text>
<path d="M1685.5 795.27h4.9" stroke="#000" stroke-width="1.1" fill="none"/>
<text x="1695.7" y="800.97" font-size="13.89">10</text>
<path d="M1685.5 651.04h4.9" stroke="#000" stroke-width="1.1" fill="none"/>
<text x="1695.7" y="656.74" font-size="13.89">20</text>
<path d="M1685.5 506.81h4.9" stroke="#000" stroke-width="1.1" fill="none"/>
<text x="1695.7" y="512.51" font-size="13.89">30</text>
<path d="M1685.5 362.58h4.9" stroke="#000" stroke-width="1.1" fill="none"/>
<text x="1695.7" y="368.28" font-size="13.89">40</text>
<path d="M1685.5 218.35h4.9" stroke="#000" stroke-width="1.1" fill="none"/>
<text x="1695.7" y="224.05" font-size="13.89">50</text>
<text class="b" font-size="19.44" text-anchor="middle" transform="translate(1736.8,624.5) rotate(-90)">Named cyclones forecast - Number of EPS within 120km</text>
<!-- legend.svg -->
<rect x="1274.5" y="874.5" width="339" height="168.6" rx="3.5" ry="3.5" fill="#fff" fill-opacity="0.8" stroke="#000" stroke-width="1.39"/>
<path d="M1281.5 887.4H1314.3" stroke="#696969" stroke-width="1.39" stroke-linecap="square" fill="none"/>
<text class="t12" x="1327.3" y="893.2">No Interception</text>
<path d="M1281.5 910.4H1314.3" stroke="#ff4500" stroke-width="1.39" stroke-linecap="square" fill="none"/>
<text class="t12" x="1327.3" y="915.8">Interception from Named cyclone</text>
<path d="M1281.5 933.5H1314.3" stroke="#808000" stroke-width="1.39" stroke-linecap="square" fill="none"/>
<text class="t12" x="1327.3" y="939.5">Interception from Trochoid</text>
<path d="M1281.5 957.5H1314.3" stroke="#008000" stroke-width="1.39" stroke-linecap="square" fill="none"/>
<text class="t12" x="1327.3" y="963.1">Interception from both</text>
<path d="M1281.1 979.9H1313.8" stroke="#8b008b" stroke-width="4.17" stroke-linecap="square" fill="none"/>
<text class="t12" x="1327.3" y="985.7">HRES</text>
<path d="M1281.1 1003.0H1313.8" stroke="#000000" stroke-width="4.17" stroke-linecap="square" fill="none"/>
<text class="t12" x="1327.3" y="1009.9">Analysis | 238h duration</text>
<text x="1298.3" y="1035.1" font-size="16" text-anchor="middle" stroke="#000" stroke-width="1.25" stroke-linejoin="miter">↺</text>
<text class="t12" x="1327.3" y="1034.3">TC obs. for analysis duration</text>
<!-- bottom.svg -->
<text class="b t12" x="865" y="1121" text-anchor="middle">Percentage of flying ballons within a TC as a function of flight time</text>
<rect x="25.5" y="1137.5" width="1640.0" height="41.0" fill="#9e0142" stroke="#000" stroke-width="1.1"/>
<path d="M25.50 1178.5v4.9M66.50 1178.5v4.9M107.50 1178.5v4.9M148.50 1178.5v4.9M189.50 1178.5v4.9M230.50 1178.5v4.9M271.50 1178.5v4.9M312.50 1178.5v4.9M353.50 1178.5v4.9M394.50 1178.5v4.9M435.50 1178.5v4.9M476.50 1178.5v4.9M517.50 1178.5v4.9M558.50 1178.5v4.9M599.50 1178.5v4.9M640.50 1178.5v4.9M681.50 1178.5v4.9M722.50 1178.5v4.9M763.50 1178.5v4.9M804.50 1178.5v4.9M845.50 1178.5v4.9M886.50 1178.5v4.9M927.50 1178.5v4.9M968.50 1178.5v4.9M1009.50 1178.5v4.9M1050.50 1178.5v4.9M1091.50 1178.5v4.9M1132.50 1178.5v4.9M1173.50 1178.5v4.9M1214.50 1178.5v4.9M1255.50 1178.5v4.9M1296.50 1178.5v4.9M1337.50 1178.5v4.9M1378.50 1178.5v4.9M1419.50 1178.5v4.9M1460.50 1178.5v4.9M1501.50 1178.5v4.9M1542.50 1178.5v4.9M1583.50 1178.5v4.9M1624.50 1178.5v4.9M1665.50 1178.5v4.9M25.5 1158.5h-4.9" stroke="#000" stroke-width="1.1" fill="none"/>
<text class="b" x="25.50" y="1200" font-size="16.67" letter-spacing="-0.35" text-anchor="middle">0h</text>
<text class="b" x="189.50" y="1200" font-size="16.67" letter-spacing="-0.35" text-anchor="middle">12h</text>
<text class="b" x="353.50" y="1200" font-size="16.67" letter-spacing="-0.35" text-anchor="middle">24h</text>
<text class="b" x="517.50" y="1200" font-size="16.67" letter-spacing="-0.35" text-anchor="middle">36h</text>
<text class="b" x="681.50" y="1200" font-size="16.67" letter-spacing="-0.35" text-anchor="middle">48h</text>
<text class="b" x="845.50" y="1200" font-size="16.67" letter-spacing="-0.35" text-anchor="middle">60h</text>
<text class="b" x="1009.50" y="1200" font-size="16.67" letter-spacing="-0.35" text-anchor="middle">72h</text>
<text class="b" x="1173.50" y="1200" font-size="16.67" letter-spacing="-0.35" text-anchor="middle">84h</text>
<text class="b" x="1337.50" y="1200" font-size="16.67" letter-spacing="-0.35" text-anchor="middle">96h</text>
<text class="b" x="1501.50" y="1200" font-size="16.67" letter-spacing="-0.35" text-anchor="middle">108h</text>
<text class="b" x="1665.50" y="1200" font-size="16.67" letter-spacing="-0.35" text-anchor="middle">120h</text>
</svg>
</body></html>
